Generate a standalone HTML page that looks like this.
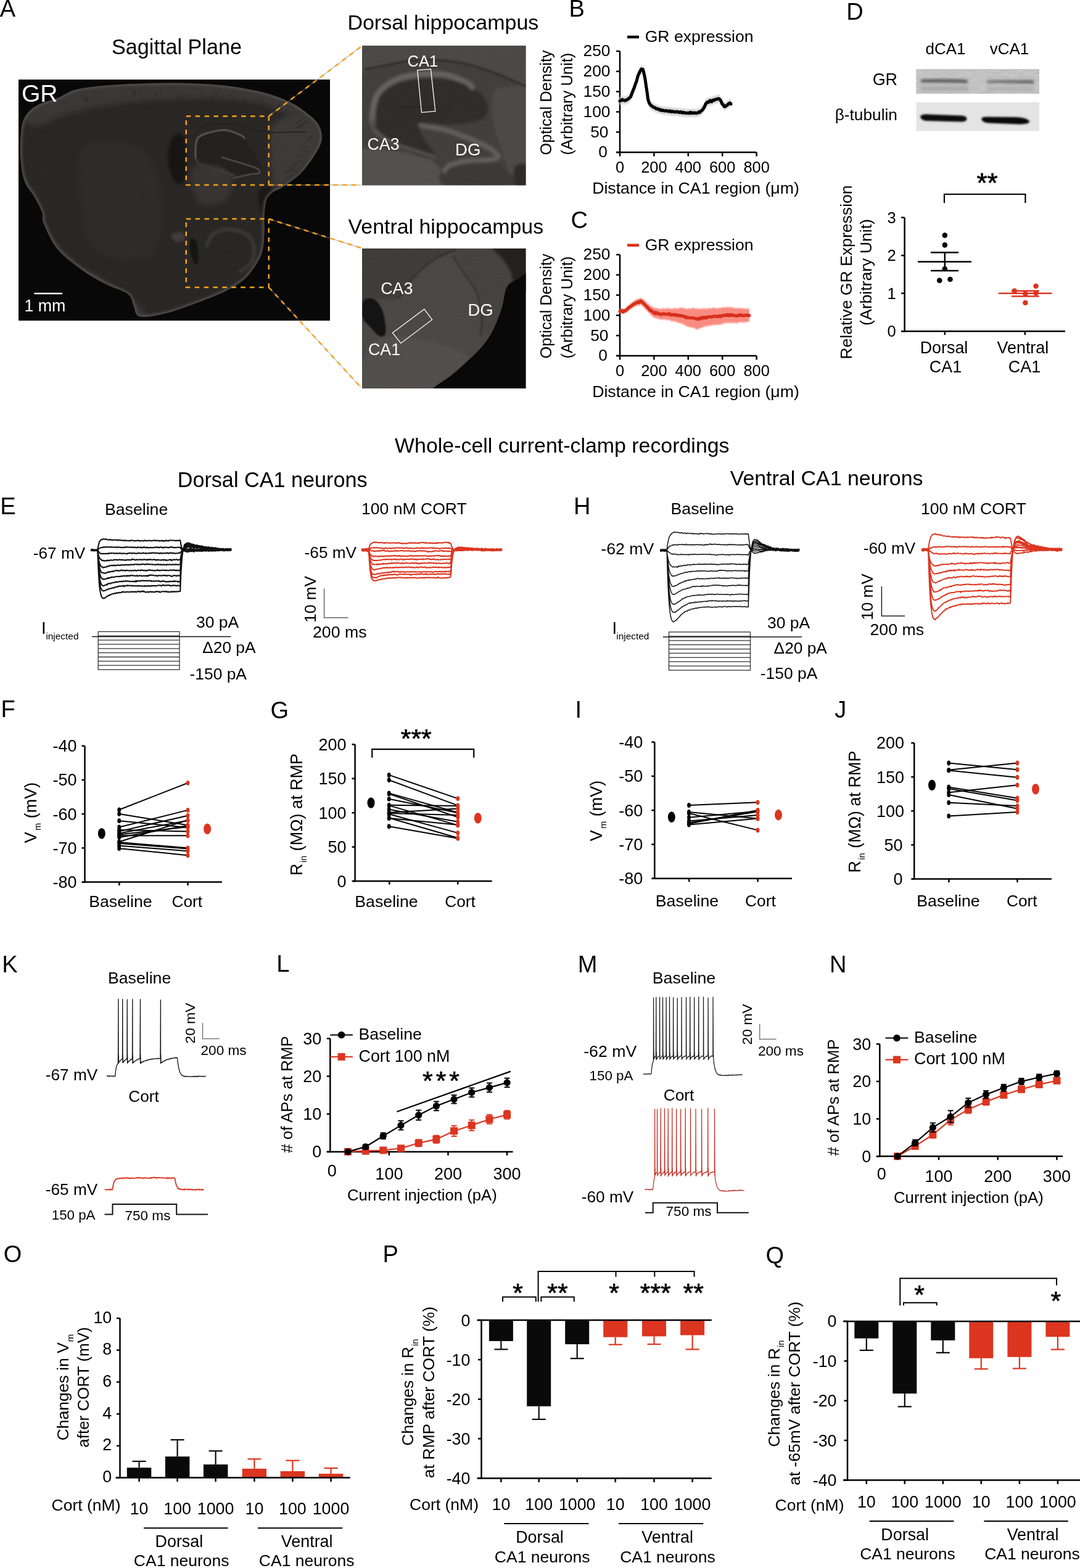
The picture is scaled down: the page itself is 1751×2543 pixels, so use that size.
<!DOCTYPE html>
<html><head><meta charset="utf-8"><title>Figure</title>
<style>html,body{margin:0;padding:0;background:#fff;width:1751px;height:2543px;overflow:hidden;}svg{display:block;}text{font-family:"Liberation Sans",Arial,sans-serif;}</style>
</head><body>
<svg width="1751" height="2543" viewBox="0 0 1751 2543" font-size="26.5">
<rect width="1751" height="2543" fill="#fff"/>
<defs>
<clipPath id="clipSag"><rect x="30" y="129" width="505" height="391"/></clipPath>
<clipPath id="clipDor"><rect x="587" y="74" width="265.5" height="226.5"/></clipPath>
<clipPath id="clipVen"><rect x="587" y="403" width="265.5" height="227"/></clipPath>
<filter id="blur05" color-interpolation-filters="sRGB" x="-5%" y="-5%" width="110%" height="110%"><feGaussianBlur stdDeviation="0.5"/></filter>
<filter id="blur1" color-interpolation-filters="sRGB" x="-10%" y="-10%" width="120%" height="120%"><feGaussianBlur stdDeviation="1"/></filter>
<filter id="blur15" color-interpolation-filters="sRGB" x="-10%" y="-30%" width="120%" height="160%"><feGaussianBlur stdDeviation="1.5"/></filter>
<filter id="blur2" color-interpolation-filters="sRGB" x="-20%" y="-20%" width="140%" height="140%"><feGaussianBlur stdDeviation="2"/></filter>
<filter id="blur25" color-interpolation-filters="sRGB" x="-20%" y="-20%" width="140%" height="140%"><feGaussianBlur stdDeviation="2.5"/></filter>
<filter id="blur4" color-interpolation-filters="sRGB" x="-20%" y="-20%" width="140%" height="140%"><feGaussianBlur stdDeviation="4"/></filter>
<filter id="grain" color-interpolation-filters="sRGB" x="0" y="0" width="100%" height="100%"><feTurbulence type="fractalNoise" baseFrequency="0.9" numOctaves="1" seed="3"/><feColorMatrix type="matrix" values="0 0 0 0 1  0 0 0 0 1  0 0 0 0 1  0 0 0 0.35 -0.1"/></filter>
<filter id="grain2" color-interpolation-filters="sRGB" x="0" y="0" width="100%" height="100%"><feTurbulence type="fractalNoise" baseFrequency="0.08 0.3" numOctaves="2" seed="5"/><feColorMatrix type="matrix" values="0 0 0 0 0.5  0 0 0 0 0.5  0 0 0 0 0.5  0 0 0 0.5 -0.1"/></filter>
</defs>
<text x="-0.2" y="27" font-size="38">A</text>
<text x="181" y="87.7" font-size="34.2">Sagittal Plane</text>
<text x="563.4" y="48.2" font-size="34">Dorsal hippocampus</text>
<text x="564.6" y="378.5" font-size="33.9">Ventral hippocampus</text>
<rect x="30" y="129" width="505" height="391" fill="#080808"/>
<g clip-path="url(#clipSag)">
<clipPath id="clipBrain"><path d="M102.8 154.3 C108.1 151.9 113.4 147.4 125 144.8 C136.6 142.2 154 140.1 172.4 138.5 C190.8 136.9 214.6 135.9 235.7 135.3 C256.8 134.7 277.9 134.2 299 134.7 C320.1 135.2 341.2 136 362.3 138.5 C383.4 141 407.2 144.8 425.6 149.6 C444.1 154.3 459.8 160.4 473 167 C486.2 173.6 497.2 182.8 504.7 189.1 C512.2 195.4 515.1 199.2 518 205 C520.9 210.8 522.2 218.2 522 224 C521.8 229.8 520 233.8 517 240 C514 246.2 508.8 254.2 504 261 C499.2 267.8 493.3 275.5 488 281 C482.7 286.5 477.3 290 472 294 C466.7 298 461.2 301.8 456 305 C450.8 308.2 445 309.6 441 313 C437 316.4 434.1 318.9 432 325.2 C429.9 331.4 429.2 342.1 428.7 350.5 C428.1 358.9 429.2 366.3 428.7 375.8 C428.2 385.3 428.2 398 425.6 407.5 C423 417 418.3 424.9 413 432.8 C407.7 440.7 402.4 448.1 394 455 C385.6 461.9 375.5 467.7 362.3 474 C349.1 480.3 330.6 487.2 314.8 493 C299 498.8 282.1 505.3 267.3 508.7 C252.5 512.1 234.6 515.6 226.2 513.5 C217.8 511.4 219.9 502.1 216.7 496 C213.5 489.9 214.6 482.8 207.2 477 C199.8 471.2 184.5 467.6 172.4 461.3 C160.3 455 147.6 448.5 134.4 439 C121.2 429.5 103.8 416.9 93.3 404.3 C82.8 391.7 75.3 373.2 71.1 363.2 C66.9 353.2 70.6 351.6 68 344.2 C65.4 336.8 60 327.3 55.3 318.9 C50.5 310.5 43.2 304.2 39.5 293.6 C35.8 283.1 34 269.9 33.2 255.6 C32.4 241.3 33.1 219.7 34.7 208.1 C36.3 196.5 38.2 192.3 42.7 186 C47.2 179.7 53.2 174.6 61.6 170.1 C70 165.6 86.4 161.6 93.3 159 C100.2 156.4 97.5 156.7 102.8 154.3Z"/></clipPath>
<path d="M102.8 154.3 C108.1 151.9 113.4 147.4 125 144.8 C136.6 142.2 154 140.1 172.4 138.5 C190.8 136.9 214.6 135.9 235.7 135.3 C256.8 134.7 277.9 134.2 299 134.7 C320.1 135.2 341.2 136 362.3 138.5 C383.4 141 407.2 144.8 425.6 149.6 C444.1 154.3 459.8 160.4 473 167 C486.2 173.6 497.2 182.8 504.7 189.1 C512.2 195.4 515.1 199.2 518 205 C520.9 210.8 522.2 218.2 522 224 C521.8 229.8 520 233.8 517 240 C514 246.2 508.8 254.2 504 261 C499.2 267.8 493.3 275.5 488 281 C482.7 286.5 477.3 290 472 294 C466.7 298 461.2 301.8 456 305 C450.8 308.2 445 309.6 441 313 C437 316.4 434.1 318.9 432 325.2 C429.9 331.4 429.2 342.1 428.7 350.5 C428.1 358.9 429.2 366.3 428.7 375.8 C428.2 385.3 428.2 398 425.6 407.5 C423 417 418.3 424.9 413 432.8 C407.7 440.7 402.4 448.1 394 455 C385.6 461.9 375.5 467.7 362.3 474 C349.1 480.3 330.6 487.2 314.8 493 C299 498.8 282.1 505.3 267.3 508.7 C252.5 512.1 234.6 515.6 226.2 513.5 C217.8 511.4 219.9 502.1 216.7 496 C213.5 489.9 214.6 482.8 207.2 477 C199.8 471.2 184.5 467.6 172.4 461.3 C160.3 455 147.6 448.5 134.4 439 C121.2 429.5 103.8 416.9 93.3 404.3 C82.8 391.7 75.3 373.2 71.1 363.2 C66.9 353.2 70.6 351.6 68 344.2 C65.4 336.8 60 327.3 55.3 318.9 C50.5 310.5 43.2 304.2 39.5 293.6 C35.8 283.1 34 269.9 33.2 255.6 C32.4 241.3 33.1 219.7 34.7 208.1 C36.3 196.5 38.2 192.3 42.7 186 C47.2 179.7 53.2 174.6 61.6 170.1 C70 165.6 86.4 161.6 93.3 159 C100.2 156.4 97.5 156.7 102.8 154.3Z" fill="#252321"/>
<g clip-path="url(#clipBrain)"><g filter="url(#blur4)">
<path d="M40 185 C46.7 175.8 73.3 158.3 100 150 C126.7 141.7 166.7 138 200 135 C233.3 132 266.7 131.2 300 132 C333.3 132.8 371.7 135.3 400 140 C428.3 144.7 450.8 150.8 470 160 C489.2 169.2 505.3 184.2 515 195 C524.7 205.8 528.8 215 528 225 C527.2 235 518 245.5 510 255 C502 264.5 490 273.7 480 282 C470 290.3 457 302 450 305 C443 308 435.5 305.8 438 300 C440.5 294.2 456.3 280 465 270 C473.7 260 485.5 249.2 490 240 C494.5 230.8 495.3 223.3 492 215 C488.7 206.7 482 197.8 470 190 C458 182.2 441.7 173 420 168 C398.3 163 366.7 161 340 160 C313.3 159 286.7 160.3 260 162 C233.3 163.7 205 166.2 180 170 C155 173.8 130 179.2 110 185 C90 190.8 71.7 205 60 205 C48.3 205 33.3 194.2 40 185Z" fill="#363331"/>
<path d="M40 290 C44.7 295 53.3 315 60 330 C66.7 345 70 364.2 80 380 C90 395.8 105 412.5 120 425 C135 437.5 151.7 442.5 170 455 C188.3 467.5 219.7 489.2 230 500 C240.3 510.8 240.3 523.3 232 520 C223.7 516.7 198.7 491.7 180 480 C161.3 468.3 137.5 461.7 120 450 C102.5 438.3 86.7 425 75 410 C63.3 395 57.2 378.3 50 360 C42.8 341.7 33.7 311.7 32 300 C30.3 288.3 35.3 285 40 290Z" fill="#353230"/>
<path d="M130 250 C137.5 228.3 161.7 230 180 230 C198.3 230 226.3 235 240 250 C253.7 265 259.5 295 262 320 C264.5 345 262 383.3 255 400 C248 416.7 235.8 418.3 220 420 C204.2 421.7 174.2 420 160 410 C145.8 400 140 386.7 135 360 C130 333.3 122.5 271.7 130 250Z" fill="#2a2826"/>
<path d="M312 272 C317 266.7 330.3 267.5 340 268 C349.7 268.5 363.7 269.7 370 275 C376.3 280.3 379.7 291.2 378 300 C376.3 308.8 368.8 323 360 328 C351.2 333 333.3 334.7 325 330 C316.7 325.3 312.2 309.7 310 300 C307.8 290.3 307 277.3 312 272Z" fill="#34312f"/>
<path d="M440 205 C445.3 193.3 459.2 190.8 470 190 C480.8 189.2 496.7 194.2 505 200 C513.3 205.8 520 215 520 225 C520 235 513.3 249.2 505 260 C496.7 270.8 480 283.3 470 290 C460 296.7 450.3 305 445 300 C439.7 295 438.8 275.8 438 260 C437.2 244.2 434.7 216.7 440 205Z" fill="#393634"/>
</g>
<path d="M276 232 C278 225.3 280.3 219.7 284 218 C287.7 216.3 295 215.8 298 222 C301 228.2 301.7 243.7 302 255 C302.3 266.3 302.3 282.8 300 290 C297.7 297.2 291.5 298.8 288 298 C284.5 297.2 281.7 291.7 279 285 C276.3 278.3 272.5 266.8 272 258 C271.5 249.2 274 238.7 276 232Z" fill="#121110" filter="url(#blur2)"/>
<path d="M318 250 C316.3 244 315.7 232 320 226 C324.3 220 336 216.3 344 214 C352 211.7 360 210.8 368 212 C376 213.2 385.8 216.3 392 221 C398.2 225.7 400.3 233.2 405 240 C409.7 246.8 417.3 255.2 420 262 C422.7 268.8 424.3 277.7 421 281 C417.7 284.3 407.2 282.2 400 282 C392.8 281.8 385.5 282.3 378 280 C370.5 277.7 363 271 355 268 C347 265 336.2 265 330 262 C323.8 259 319.7 256 318 250Z" fill="#1f1d1c" filter="url(#blur1)"/>
<path d="M317 256 C317.5 250.8 315.5 232.1 320 225 C324.5 217.9 336 216 344 213.7 C352 211.4 360 210.2 368 211.3 C376 212.4 387.1 217.9 391.8 220 C396.5 222.1 395.3 223.3 396 224" fill="none" stroke="#4b4845" stroke-width="3.5" stroke-linecap="round" filter="url(#blur05)"/>
<path d="M317 256 C317.8 257.7 318.2 263.3 322 266 C325.8 268.7 333.7 270 340 272 C346.3 274 353.3 275.8 360 278 C366.7 280.2 376.7 283.8 380 285" fill="none" stroke="#3b3836" stroke-width="3" stroke-linecap="round" filter="url(#blur1)"/>
<path d="M359.9 255.2 C365.2 256.8 382.5 261.9 391.8 264.8 C401.1 267.7 411 270.1 415.8 272.8 C420.6 275.5 421.9 279.2 420.6 280.8 C419.3 282.4 414.7 281.1 407.8 282.4 C400.9 283.7 383.8 287.6 379 288.7" fill="none" stroke="#45423f" stroke-width="3" stroke-linecap="round" filter="url(#blur05)"/>
<path d="M324.7 205.7 C328.9 204.9 339.1 201.4 350 201 C360.9 200.6 378.3 201.2 390 203 C401.7 204.8 411.7 210 420 212 C428.3 214 431.7 214.7 440 215 C448.3 215.3 460.7 214.2 470 214 C479.3 213.8 491.4 213.8 495.7 213.7" fill="none" stroke="#1c1b1a" stroke-width="1.6" stroke-linecap="round" filter="url(#blur05)"/>
<path d="M335 400 C336.7 396.7 339.2 384.7 345 380 C350.8 375.3 360.8 372 370 372 C379.2 372 393 375.3 400 380 C407 384.7 410.7 392.5 412 400 C413.3 407.5 411.7 418.3 408 425 C404.3 431.7 393 437.5 390 440" fill="none" stroke="#3b3836" stroke-width="5" stroke-linecap="round" filter="url(#blur2)"/>
<path d="M310 388 C311.7 385.8 316 386.7 318 392 C320 397.3 322.3 414 322 420 C321.7 426 318.3 430.5 316 428 C313.7 425.5 309 411.7 308 405 C307 398.3 308.3 390.2 310 388Z" fill="#101010" filter="url(#blur1)"/>
<path d="M278 380 C279.7 377.5 291.3 375.7 295 377 C298.7 378.3 301.7 385.5 300 388 C298.3 390.5 288.7 393.3 285 392 C281.3 390.7 276.3 382.5 278 380Z" fill="#3d3a38" filter="url(#blur2)"/>
<path d="M420 310 C422.5 302.5 435.8 300 440 305 C444.2 310 445.3 330.8 445 340 C444.7 349.2 441.3 358.3 438 360 C434.7 361.7 428 358.3 425 350 C422 341.7 417.5 317.5 420 310Z" fill="#151413" filter="url(#blur2)"/>
<path d="M137.2 155.7l8.2 8.8 M134.9 158.6l5.4 5.6 M136.9 158.6l5.2 5.5 M215.2 148.5l4.4 9.4 M216.2 145.0l3.8 8.5 M225.5 148.2l5.3 13.0 M288.3 152.0l0.8 12.6 M250.9 147.4l3.3 12.2 M259.4 144.9l2.8 12.8 M348.4 146.4l-4.2 15.9 M327.9 144.7l-1.4 9.2 M354.2 146.9l-3.2 10.7 M398.4 160.8l-4.2 7.3 M373.8 150.0l-2.4 5.9 M378.8 157.8l-4.8 10.6 M454.2 168.8l-7.0 7.3 M427.6 162.9l-10.9 14.3 M453.8 168.9l-4.6 4.8 M490.4 193.3l-10.6 7.6 M475.9 181.7l-5.4 4.6 M465.1 177.7l-11.8 10.9 M497.4 198.5l-12.4 8.2 M490.8 201.1l-10.9 7.4 M496.3 196.4l-12.9 8.8 M506.4 220.1l-5.5 2.9 M498.6 238.0l-10.8 5.0 M506.2 223.0l-8.7 4.5 M489.3 259.8l-16.2 6.0 M492.6 251.8l-9.1 3.7 M501.0 243.5l-6.3 2.7 M481.0 266.4l-15.2 5.4 M476.3 272.0l-13.2 4.4 M477.4 275.0l-16.4 5.1" stroke="#161514" stroke-width="1.1" opacity="0.45" fill="none" filter="url(#blur05)"/>
<path d="M335.5 198.8h1.5 M255.0 417.3h1.5 M453.7 408.1h1.5 M75.6 272.2h1.5 M131.7 489.6h1.5 M123.4 233.1h1.5 M217.2 170.7h1.5 M443.0 366.4h1.5 M130.3 319.4h1.5 M94.6 357.7h1.5 M161.9 163.1h1.5 M110.7 338.8h1.5 M340.3 260.4h1.5 M343.1 269.7h1.5 M117.5 257.2h1.5 M233.9 460.3h1.5 M110.9 179.3h1.5 M307.1 477.6h1.5 M459.2 388.1h1.5 M89.4 424.2h1.5 M360.7 198.9h1.5 M264.6 166.8h1.5 M412.8 394.3h1.5 M414.0 408.5h1.5 M177.6 418.5h1.5 M169.6 196.9h1.5 M231.8 319.3h1.5 M185.8 356.0h1.5 M325.1 231.5h1.5 M333.9 271.5h1.5 M383.3 248.7h1.5 M411.5 291.1h1.5 M303.4 378.9h1.5 M288.1 237.6h1.5 M490.9 182.7h1.5 M203.0 336.7h1.5 M72.6 202.7h1.5 M411.7 416.5h1.5 M340.3 456.6h1.5 M392.4 251.6h1.5" stroke="#141312" stroke-width="1.5" opacity="0.6" clip-path="url(#clipBrain)"/>
<path d="M102.8 154.3 C108.1 151.9 113.4 147.4 125 144.8 C136.6 142.2 154 140.1 172.4 138.5 C190.8 136.9 214.6 135.9 235.7 135.3 C256.8 134.7 277.9 134.2 299 134.7 C320.1 135.2 341.2 136 362.3 138.5 C383.4 141 407.2 144.8 425.6 149.6 C444.1 154.3 459.8 160.4 473 167 C486.2 173.6 497.2 182.8 504.7 189.1 C512.2 195.4 515.1 199.2 518 205 C520.9 210.8 522.2 218.2 522 224 C521.8 229.8 520 233.8 517 240 C514 246.2 508.8 254.2 504 261 C499.2 267.8 493.3 275.5 488 281 C482.7 286.5 477.3 290 472 294 C466.7 298 461.2 301.8 456 305 C450.8 308.2 445 309.6 441 313 C437 316.4 434.1 318.9 432 325.2 C429.9 331.4 429.2 342.1 428.7 350.5 C428.1 358.9 429.2 366.3 428.7 375.8 C428.2 385.3 428.2 398 425.6 407.5 C423 417 418.3 424.9 413 432.8 C407.7 440.7 402.4 448.1 394 455 C385.6 461.9 375.5 467.7 362.3 474 C349.1 480.3 330.6 487.2 314.8 493 C299 498.8 282.1 505.3 267.3 508.7 C252.5 512.1 234.6 515.6 226.2 513.5 C217.8 511.4 219.9 502.1 216.7 496 C213.5 489.9 214.6 482.8 207.2 477 C199.8 471.2 184.5 467.6 172.4 461.3 C160.3 455 147.6 448.5 134.4 439 C121.2 429.5 103.8 416.9 93.3 404.3 C82.8 391.7 75.3 373.2 71.1 363.2 C66.9 353.2 70.6 351.6 68 344.2 C65.4 336.8 60 327.3 55.3 318.9 C50.5 310.5 43.2 304.2 39.5 293.6 C35.8 283.1 34 269.9 33.2 255.6 C32.4 241.3 33.1 219.7 34.7 208.1 C36.3 196.5 38.2 192.3 42.7 186 C47.2 179.7 53.2 174.6 61.6 170.1 C70 165.6 86.4 161.6 93.3 159 C100.2 156.4 97.5 156.7 102.8 154.3Z" fill="none" stroke="#4e4b49" stroke-width="6" filter="url(#blur2)" clip-path="url(#clipBrain)"/>
<rect x="30" y="129" width="505" height="391" filter="url(#grain)" opacity="0.3" clip-path="url(#clipBrain)"/>
</g>
</g>
<text x="34.9" y="165" font-size="39" fill="#fff">GR</text>
<line x1="55.4" y1="476.1" x2="101" y2="476.1" stroke="#fff" stroke-width="2.5"/>
<text x="39.4" y="505.3" font-size="26.8" fill="#fff">1 mm</text>
<g clip-path="url(#clipDor)">
<rect x="587" y="74" width="265.5" height="226.5" fill="#3b3836"/>
<g filter="url(#blur2)">
<path d="M580 245 C588.8 234.8 616.5 242.8 632.6 244 C648.7 245.2 664.8 249 676.5 252 C688.2 255 696.1 257.2 702.8 262 C709.5 266.8 714.1 273.3 716.8 280.5 C719.5 287.7 741.8 300.9 719 305 C696.2 309.1 603.2 315 580 305 C556.8 295 571.2 255.2 580 245Z" fill="#4d4a48"/>
<path d="M609.8 192.8 C609.5 185 609.5 173 612 165 C614.5 157 618.7 150.2 625 145 C631.3 139.8 639.2 136.8 650 134 C660.8 131.2 675.4 128.5 690 128 C704.6 127.5 724.1 128 737.9 131 C751.7 134 764.2 139.2 773 146 C781.8 152.8 789 164.2 790.5 172 C792 179.8 790.6 188 781.8 192.8 C773 197.6 752.5 199.6 737.9 201 C723.3 202.4 703.6 200.2 694 201 C684.4 201.8 680.7 201.2 680 206 C679.3 210.8 685.8 222.7 690 230 C694.2 237.3 705 245.8 705 250 C705 254.2 697.5 256.3 690 255 C682.5 253.7 669.7 246.5 660 242 C650.3 237.5 639.7 233 632 228 C624.3 223 617.7 217.9 614 212 C610.3 206.1 610.1 200.6 609.8 192.8Z" fill="#282624"/>
<path d="M800 150 C805 140 820 140 830 140 C840 140 855 123.3 860 150 C865 176.7 865 276.7 860 300 C855 323.3 837.5 298.3 830 290 C822.5 281.7 820 265 815 250 C810 235 802.5 216.7 800 200 C797.5 183.3 795 160 800 150Z" fill="#464341"/>
<path d="M580 70 C626.7 61.7 813.3 59.2 860 70 C906.7 80.8 868.7 127 860 135 C851.3 143 825.5 123.5 808 118 C790.5 112.5 772.5 105.7 755 102 C737.5 98.3 720.5 96.3 703 96 C685.5 95.7 667.2 97.3 650 100 C632.8 102.7 611.7 108.7 600 112 C588.3 115.3 583.3 127 580 120 C576.7 113 533.3 78.3 580 70Z" fill="#454240"/>
<path d="M722 268 C728.3 261.5 747 263 760 262 C773 261 790 259.8 800 262 C810 264.2 814.2 268.5 820 275 C825.8 281.5 851.3 296.7 835 301 C818.7 305.3 740.8 306.5 722 301 C703.2 295.5 715.7 274.5 722 268Z" fill="#353230"/>
<path d="M835 270 C838.7 264.2 855.8 264.2 860 270 C864.2 275.8 863.7 299.2 860 305 C856.3 310.8 842.2 310.8 838 305 C833.8 299.2 831.3 275.8 835 270Z" fill="#262422"/>
</g>
<path d="M592 112 C597.3 111.1 612.6 109 623.9 106.8 C635.2 104.6 646.9 100.6 660 99 C673.1 97.4 686.9 96.2 702.8 97 C718.7 97.8 737.9 100 755.4 104 C772.9 108 791.9 115 808 121 C824.1 127 844.7 136.8 852 140" fill="none" stroke="#2b2927" stroke-width="3" stroke-linecap="round" filter="url(#blur1)"/>
<path d="M603 196 C603.5 191.7 604 177.8 606 170 C608 162.2 609.1 155.7 615 149 C620.9 142.3 631.1 134.3 641.4 129.6 C651.6 124.9 663.3 122.4 676.5 121 C689.7 119.6 707.2 119 720.4 121 C733.5 123 747.8 129.5 755.4 133 C763 136.5 764.2 140.5 766 142" fill="none" stroke="#625f5c" stroke-width="9" stroke-linecap="round" filter="url(#blur25)"/>
<path d="M603 196 C603.5 198.4 602.8 205.7 606.3 210.4 C609.8 215.1 616.6 220 623.9 224.4 C631.2 228.8 641.4 233.2 650.2 236.7 C659 240.2 667.7 242.5 676.5 245.4 C685.3 248.3 698.4 252.7 702.8 254.2" fill="none" stroke="#4e4b48" stroke-width="6" stroke-linecap="round" filter="url(#blur2)"/>
<path d="M681.8 203.3 C688.2 204.5 708.1 207.2 720.4 210.4 C732.7 213.6 743.7 217.9 755.4 222.6 C767.1 227.3 782.3 234 790.5 238.4 C798.7 242.8 802 246.1 804.6 249 C807.2 251.9 808.6 254.2 806.3 256 C803.9 257.8 799 258.6 790.5 259.5 C782 260.4 765.6 259.8 755.4 261.2 C745.1 262.6 734.8 265.6 729 268.2 C723.2 270.8 721.8 275.5 720.4 277" fill="none" stroke="#5e5b58" stroke-width="8" stroke-linecap="round" filter="url(#blur25)"/>
<path d="M641 173.7 C647.5 173.8 666.8 173.8 680 174 C693.2 174.2 713.8 174.7 720.5 174.8" fill="none" stroke="#1e1d1c" stroke-width="1.5" stroke-linecap="round" filter="url(#blur05)"/>
<rect x="587" y="74" width="266" height="227" filter="url(#grain)" opacity="0.5"/>
</g>
<polygon points="676.7,113.9 698.4,112.1 705.8,180.5 683.5,182.3" fill="none" stroke="#fff" stroke-width="1.3"/>
<text x="660.5" y="108.3" font-size="25.5" fill="#fff">CA1</text>
<text x="595.5" y="243.2" font-size="26.8" fill="#fff">CA3</text>
<text x="738.1" y="252.2" font-size="27.5" fill="#fff">DG</text>
<g clip-path="url(#clipVen)">
<rect x="587" y="403" width="265.5" height="227" fill="#444140"/>
<g filter="url(#blur2)">
<path d="M580 398 C606.3 384.3 717.4 394.1 737.9 398 C758.4 401.9 714.1 412.6 702.8 421.3 C691.5 430 679.4 439.8 670 450 C660.6 460.2 655 476.9 646.7 482.7 C638.4 488.5 631.1 485.4 620 485 C608.9 484.6 586.7 494.5 580 480 C573.3 465.5 553.7 411.7 580 398Z" fill="#393634"/>
<path d="M734.4 410 C741.8 402.9 782.4 403.3 800 405 C817.6 406.7 835 409.2 840 420 C845 430.8 835 453.3 830 470 C825 486.7 818 507.7 810 520 C802 532.3 787.1 544 781.8 544 C776.5 544 778.2 527.3 778.2 520 C778.2 512.7 782.7 507.7 781.8 500 C780.9 492.3 777.4 482.7 773 474 C768.6 465.3 761.8 458.3 755.4 447.6 C749 436.9 727 417.1 734.4 410Z" fill="#3f3c3a"/>
<path d="M600 560 C610 545 630 545 650 545 C670 545 701.7 554.2 720 560 C738.3 565.8 758.3 571.7 760 580 C761.7 588.3 740 600.8 730 610 C720 619.2 723.3 630.8 700 635 C676.7 639.2 606.7 647.5 590 635 C573.3 622.5 590 575 600 560Z" fill="#4b4846"/>
</g>
<path d="M646.7 482.7 C650.6 477.2 660.6 460.2 670 450 C679.4 439.8 691.5 428.7 702.8 421.3 C714.1 413.9 732 408.1 737.9 405.5" fill="none" stroke="#2a2826" stroke-width="2.5" stroke-linecap="round" filter="url(#blur1)"/>
<path d="M734.4 416 C737.9 421.3 749 437.9 755.4 447.6 C761.8 457.3 768.6 462.3 773 474 C777.4 485.7 780.9 506.1 781.8 517.8 C782.7 529.5 778.8 539.6 778.2 544" fill="none" stroke="#2c2a28" stroke-width="2" stroke-linecap="round" filter="url(#blur1)"/>
<rect x="587" y="403" width="266" height="227" filter="url(#grain)" opacity="0.5"/>
<path d="M800 398 C807.5 394.3 850 386 860 398 C870 410 864.2 459.3 860 470 C855.8 480.7 840.3 467 835 462 C829.7 457 831.3 447 828 440 C824.7 433 819.7 427 815 420 C810.3 413 792.5 401.7 800 398Z" fill="#222120" filter="url(#blur2)"/>
<path d="M858 440 C854.3 442 846 447.8 840 452 C834 456.2 826.5 457.1 822 465.2 C817.5 473.2 817.1 488.6 813.3 500.3 C809.5 512 804.5 525.2 799.3 535.4 C794 545.6 789.1 552.9 781.8 561.7 C774.5 570.5 764.2 579.8 755.4 588 C746.6 596.2 737.9 603.9 729.1 610.8 C720.3 617.7 707.6 624.3 702.8 629.2 C697.9 634.1 673.8 638.2 700 640 C726.2 641.8 833 673.3 860 640 C887 606.7 862.3 473.3 862 440 C861.7 406.7 861.7 438 858 440Z" fill="#090909" filter="url(#blur05)"/>
<path d="M588 490 C590 484.8 596 484 600 484 C604 484 608.3 485.7 612 490 C615.7 494.3 619.8 501.7 622 510 C624.2 518.3 626.2 534.2 625 540 C623.8 545.8 619.2 546.7 615 545 C610.8 543.3 604.5 535 600 530 C595.5 525 590 521.7 588 515 C586 508.3 586 495.2 588 490Z" fill="#151414" filter="url(#blur1)"/>
</g>
<polygon points="636.5,539.8 687.8,501.4 700.6,518.4 649.9,556.7" fill="none" stroke="#fff" stroke-width="1.3"/>
<text x="617.2" y="476.6" font-size="26.8" fill="#fff">CA3</text>
<text x="758.4" y="512.3" font-size="27.5" fill="#fff">DG</text>
<text x="597" y="576.3" font-size="26.8" fill="#fff">CA1</text>
<rect x="301.8" y="188.4" width="134" height="111.6" fill="none" stroke="#f5a31a" stroke-width="2.5" stroke-dasharray="7.5 7.4"/>
<rect x="301.8" y="355" width="134" height="111" fill="none" stroke="#f5a31a" stroke-width="2.5" stroke-dasharray="7.5 7.4"/>
<line x1="435.8" y1="188.4" x2="585" y2="76" stroke="#888" stroke-width="0.8"/>
<line x1="435.8" y1="188.4" x2="585" y2="76" stroke="#f5a31a" stroke-width="2.5" stroke-dasharray="7.5 7.4"/>
<line x1="435.8" y1="300" x2="585" y2="300" stroke="#888" stroke-width="0.8"/>
<line x1="435.8" y1="300" x2="585" y2="300" stroke="#f5a31a" stroke-width="2.5" stroke-dasharray="7.5 7.4"/>
<line x1="435.8" y1="355" x2="585" y2="402" stroke="#888" stroke-width="0.8"/>
<line x1="435.8" y1="355" x2="585" y2="402" stroke="#f5a31a" stroke-width="2.5" stroke-dasharray="7.5 7.4"/>
<line x1="435.8" y1="466" x2="585" y2="628" stroke="#888" stroke-width="0.8"/>
<line x1="435.8" y1="466" x2="585" y2="628" stroke="#f5a31a" stroke-width="2.5" stroke-dasharray="7.5 7.4"/>
<text x="922.4" y="26.5" font-size="38">B</text>
<line x1="1005" y1="83" x2="1005" y2="248.2" stroke="#000" stroke-width="2.5"/>
<line x1="999" y1="247" x2="1226.6" y2="247" stroke="#000" stroke-width="2.5"/>
<line x1="999" y1="247" x2="1005" y2="247" stroke="#000" stroke-width="2.5"/>
<text x="985" y="255.3" font-size="26.3" text-anchor="end">0</text>
<line x1="999" y1="214.2" x2="1005" y2="214.2" stroke="#000" stroke-width="2.5"/>
<text x="986.5" y="222.5" font-size="26.3" text-anchor="end">50</text>
<line x1="999" y1="181.4" x2="1005" y2="181.4" stroke="#000" stroke-width="2.5"/>
<text x="989.5" y="189.7" font-size="26.3" text-anchor="end">100</text>
<line x1="999" y1="148.6" x2="1005" y2="148.6" stroke="#000" stroke-width="2.5"/>
<text x="989.5" y="156.9" font-size="26.3" text-anchor="end">150</text>
<line x1="999" y1="115.8" x2="1005" y2="115.8" stroke="#000" stroke-width="2.5"/>
<text x="989.5" y="124.1" font-size="26.3" text-anchor="end">200</text>
<line x1="999" y1="83" x2="1005" y2="83" stroke="#000" stroke-width="2.5"/>
<text x="989.5" y="91.3" font-size="26.3" text-anchor="end">250</text>
<line x1="1005" y1="247" x2="1005" y2="253.5" stroke="#000" stroke-width="2.5"/>
<text x="1005" y="279.5" font-size="25.4" text-anchor="middle">0</text>
<line x1="1060.4" y1="247" x2="1060.4" y2="253.5" stroke="#000" stroke-width="2.5"/>
<text x="1060.4" y="279.5" font-size="25.4" text-anchor="middle">200</text>
<line x1="1115.8" y1="247" x2="1115.8" y2="253.5" stroke="#000" stroke-width="2.5"/>
<text x="1115.8" y="279.5" font-size="25.4" text-anchor="middle">400</text>
<line x1="1171.2" y1="247" x2="1171.2" y2="253.5" stroke="#000" stroke-width="2.5"/>
<text x="1171.2" y="279.5" font-size="25.4" text-anchor="middle">600</text>
<line x1="1226.6" y1="247" x2="1226.6" y2="253.5" stroke="#000" stroke-width="2.5"/>
<text x="1226.6" y="279.5" font-size="25.4" text-anchor="middle">800</text>
<text x="1128" y="313.6" font-size="26.7" text-anchor="middle">Distance in CA1 region (μm)</text>
<text x="894" y="166.4" font-size="25.3" text-anchor="middle" transform="rotate(-90 894 166.4)">Optical Density</text>
<text x="928.3" y="168.6" font-size="25.5" text-anchor="middle" transform="rotate(-90 928.3 168.6)">(Arbitrary Unit)</text>
<path d="M1005 157.4 L1006.2 157 L1007.4 156.2 L1008.6 154.8 L1009.8 155.9 L1011 156 L1012.2 155.9 L1013.4 156.8 L1014.6 156.1 L1015.8 155.5 L1017 154.8 L1018.2 154.4 L1019.4 153 L1020.6 152.5 L1021.8 151.3 L1023 149 L1024.2 145.8 L1025.4 142.8 L1026.6 139.8 L1027.8 136.8 L1029 133.4 L1030.2 129.7 L1031.4 126.9 L1032.6 123.2 L1033.8 117.9 L1035 114.9 L1036.2 112.4 L1037.4 109.4 L1038.6 107.6 L1039.8 105.5 L1041 106.5 L1042.2 105.9 L1043.4 109.8 L1044.6 115 L1045.8 120.7 L1047 129.2 L1048.2 137.2 L1049.4 145.1 L1050.6 154.6 L1051.8 158.4 L1053 161.1 L1054.2 163.3 L1055.4 164.6 L1056.6 165.1 L1057.8 166.4 L1059 167.1 L1060.2 167.6 L1061.4 167.9 L1062.6 169 L1063.8 169.7 L1065 170 L1066.2 169.8 L1067.4 171 L1068.6 170.8 L1069.8 171.9 L1071 171.3 L1072.2 172.7 L1073.4 172.6 L1074.6 172.3 L1075.8 172.9 L1077 173.2 L1078.2 173.4 L1079.4 172.9 L1080.6 173 L1081.8 173.7 L1083 173.5 L1084.2 174 L1085.4 174.4 L1086.6 173.3 L1087.8 174.3 L1089 174.9 L1090.2 174.3 L1091.4 174.2 L1092.6 175 L1093.8 174.9 L1095 175.3 L1096.2 174.8 L1097.4 174.4 L1098.6 175.2 L1099.8 175.1 L1101 175.9 L1102.2 175.7 L1103.4 174.9 L1104.6 175.2 L1105.8 176.4 L1107 176.4 L1108.2 175.8 L1109.4 176.3 L1110.6 176.6 L1111.8 176.7 L1113 177 L1114.2 176.8 L1115.4 176.8 L1116.6 176.7 L1117.8 177.4 L1119 175.7 L1120.2 176.8 L1121.4 176.9 L1122.6 176.2 L1123.8 177 L1125 176.5 L1126.2 177.1 L1127.4 176.5 L1128.6 176.8 L1129.8 177 L1131 176.5 L1132.2 175.8 L1133.4 174.9 L1134.6 175.8 L1135.8 174.2 L1137 173.2 L1138.2 172.7 L1139.4 170.8 L1140.6 169.6 L1141.8 167.5 L1143 164.9 L1144.2 161.7 L1145.4 160.5 L1146.6 159.1 L1147.8 159.4 L1149 159.3 L1150.2 157.4 L1151.4 156.6 L1152.6 157.8 L1153.8 158.4 L1155 156.3 L1156.2 155.8 L1157.4 156.3 L1158.6 155.2 L1159.8 154.9 L1161 154.6 L1162.2 154.6 L1163.4 153.7 L1164.6 153.6 L1165.8 153.8 L1167 154.7 L1168.2 156.1 L1169.4 158.4 L1170.6 161.7 L1171.8 163 L1173 164 L1174.2 166.2 L1175.4 166.3 L1176.6 165.6 L1177.8 165.1 L1179 163.9 L1180.2 162.8 L1181.4 161.7 L1182.6 160.8 L1183.8 160.6 L1185 162.2 L1185 175.2 L1183.8 173.6 L1182.6 173.8 L1181.4 174.7 L1180.2 175.8 L1179 176.9 L1177.8 178.1 L1176.6 178.6 L1175.4 179.3 L1174.2 179.2 L1173 177 L1171.8 176 L1170.6 174.7 L1169.4 171.4 L1168.2 169.1 L1167 167.7 L1165.8 166.8 L1164.6 166.6 L1163.4 166.7 L1162.2 167.6 L1161 167.6 L1159.8 167.9 L1158.6 168.2 L1157.4 169.3 L1156.2 168.8 L1155 169.3 L1153.8 171.4 L1152.6 170.8 L1151.4 169.6 L1150.2 170.4 L1149 172.3 L1147.8 172.4 L1146.6 172.1 L1145.4 173.5 L1144.2 174.7 L1143 177.9 L1141.8 180.5 L1140.6 182.6 L1139.4 183.8 L1138.2 185.7 L1137 186.2 L1135.8 187.2 L1134.6 188.8 L1133.4 187.9 L1132.2 188.8 L1131 189.5 L1129.8 190 L1128.6 189.8 L1127.4 189.5 L1126.2 190.1 L1125 189.5 L1123.8 190 L1122.6 189.2 L1121.4 189.9 L1120.2 189.8 L1119 188.7 L1117.8 190.4 L1116.6 189.7 L1115.4 189.8 L1114.2 189.8 L1113 190 L1111.8 189.7 L1110.6 189.6 L1109.4 189.3 L1108.2 188.8 L1107 189.4 L1105.8 189.4 L1104.6 188.2 L1103.4 187.9 L1102.2 188.7 L1101 188.9 L1099.8 188.1 L1098.6 188.2 L1097.4 187.4 L1096.2 187.8 L1095 188.3 L1093.8 187.9 L1092.6 188 L1091.4 187.2 L1090.2 187.3 L1089 187.9 L1087.8 187.3 L1086.6 186.3 L1085.4 187.4 L1084.2 187 L1083 186.5 L1081.8 186.7 L1080.6 186 L1079.4 185.9 L1078.2 186.4 L1077 186.2 L1075.8 185.9 L1074.6 185.3 L1073.4 185.6 L1072.2 185.7 L1071 184.3 L1069.8 184.9 L1068.6 183.8 L1067.4 184 L1066.2 182.8 L1065 183 L1063.8 182.7 L1062.6 182 L1061.4 180.9 L1060.2 180.6 L1059 180.1 L1057.8 179.4 L1056.6 178.1 L1055.4 177.6 L1054.2 176.3 L1053 174.1 L1051.8 171.4 L1050.6 167.6 L1049.4 158.1 L1048.2 150.2 L1047 142.2 L1045.8 133.7 L1044.6 128 L1043.4 122.8 L1042.2 118.9 L1041 119.5 L1039.8 118.5 L1038.6 120.6 L1037.4 122.4 L1036.2 125.4 L1035 127.9 L1033.8 130.9 L1032.6 136.2 L1031.4 139.9 L1030.2 142.7 L1029 146.4 L1027.8 149.8 L1026.6 152.8 L1025.4 155.8 L1024.2 158.8 L1023 162 L1021.8 164.3 L1020.6 165.5 L1019.4 166 L1018.2 167.4 L1017 167.8 L1015.8 168.5 L1014.6 169.1 L1013.4 169.8 L1012.2 168.9 L1011 169 L1009.8 168.9 L1008.6 167.8 L1007.4 169.2 L1006.2 170 L1005 170.4 Z" fill="#d4d4d4" filter="url(#blur1)"/>
<path d="M1005 163.9 L1006.2 163.5 L1007.4 162.7 L1008.6 161.3 L1009.8 162.4 L1011 162.5 L1012.2 162.4 L1013.4 163.3 L1014.6 162.6 L1015.8 162 L1017 161.3 L1018.2 160.9 L1019.4 159.5 L1020.6 159 L1021.8 157.8 L1023 155.5 L1024.2 152.3 L1025.4 149.3 L1026.6 146.3 L1027.8 143.3 L1029 139.9 L1030.2 136.2 L1031.4 133.4 L1032.6 129.7 L1033.8 124.4 L1035 121.4 L1036.2 118.9 L1037.4 115.9 L1038.6 114.1 L1039.8 112 L1041 113 L1042.2 112.4 L1043.4 116.3 L1044.6 121.5 L1045.8 127.2 L1047 135.7 L1048.2 143.7 L1049.4 151.6 L1050.6 161.1 L1051.8 164.9 L1053 167.6 L1054.2 169.8 L1055.4 171.1 L1056.6 171.6 L1057.8 172.9 L1059 173.6 L1060.2 174.1 L1061.4 174.4 L1062.6 175.5 L1063.8 176.2 L1065 176.5 L1066.2 176.3 L1067.4 177.5 L1068.6 177.3 L1069.8 178.4 L1071 177.8 L1072.2 179.2 L1073.4 179.1 L1074.6 178.8 L1075.8 179.4 L1077 179.7 L1078.2 179.9 L1079.4 179.4 L1080.6 179.5 L1081.8 180.2 L1083 180 L1084.2 180.5 L1085.4 180.9 L1086.6 179.8 L1087.8 180.8 L1089 181.4 L1090.2 180.8 L1091.4 180.7 L1092.6 181.5 L1093.8 181.4 L1095 181.8 L1096.2 181.3 L1097.4 180.9 L1098.6 181.7 L1099.8 181.6 L1101 182.4 L1102.2 182.2 L1103.4 181.4 L1104.6 181.7 L1105.8 182.9 L1107 182.9 L1108.2 182.3 L1109.4 182.8 L1110.6 183.1 L1111.8 183.2 L1113 183.5 L1114.2 183.3 L1115.4 183.3 L1116.6 183.2 L1117.8 183.9 L1119 182.2 L1120.2 183.3 L1121.4 183.4 L1122.6 182.7 L1123.8 183.5 L1125 183 L1126.2 183.6 L1127.4 183 L1128.6 183.3 L1129.8 183.5 L1131 183 L1132.2 182.3 L1133.4 181.4 L1134.6 182.3 L1135.8 180.7 L1137 179.7 L1138.2 179.2 L1139.4 177.3 L1140.6 176.1 L1141.8 174 L1143 171.4 L1144.2 168.2 L1145.4 167 L1146.6 165.6 L1147.8 165.9 L1149 165.8 L1150.2 163.9 L1151.4 163.1 L1152.6 164.3 L1153.8 164.9 L1155 162.8 L1156.2 162.3 L1157.4 162.8 L1158.6 161.7 L1159.8 161.4 L1161 161.1 L1162.2 161.1 L1163.4 160.2 L1164.6 160.1 L1165.8 160.3 L1167 161.2 L1168.2 162.6 L1169.4 164.9 L1170.6 168.2 L1171.8 169.5 L1173 170.5 L1174.2 172.7 L1175.4 172.8 L1176.6 172.1 L1177.8 171.6 L1179 170.4 L1180.2 169.3 L1181.4 168.2 L1182.6 167.3 L1183.8 167.1 L1185 168.7" fill="none" stroke="#000" stroke-width="5" stroke-linejoin="round" stroke-linecap="round"/>
<line x1="1017" y1="60" x2="1036" y2="60" stroke="#000" stroke-width="4.5"/>
<text x="1045.7" y="67.7" font-size="26.6">GR expression</text>
<text x="925.5" y="370" font-size="38">C</text>
<line x1="1005" y1="413" x2="1005" y2="578.2" stroke="#000" stroke-width="2.5"/>
<line x1="999" y1="577" x2="1226.6" y2="577" stroke="#000" stroke-width="2.5"/>
<line x1="999" y1="577" x2="1005" y2="577" stroke="#000" stroke-width="2.5"/>
<text x="985" y="585.3" font-size="26.3" text-anchor="end">0</text>
<line x1="999" y1="544.2" x2="1005" y2="544.2" stroke="#000" stroke-width="2.5"/>
<text x="986.5" y="552.5" font-size="26.3" text-anchor="end">50</text>
<line x1="999" y1="511.4" x2="1005" y2="511.4" stroke="#000" stroke-width="2.5"/>
<text x="989.5" y="519.7" font-size="26.3" text-anchor="end">100</text>
<line x1="999" y1="478.6" x2="1005" y2="478.6" stroke="#000" stroke-width="2.5"/>
<text x="989.5" y="486.9" font-size="26.3" text-anchor="end">150</text>
<line x1="999" y1="445.8" x2="1005" y2="445.8" stroke="#000" stroke-width="2.5"/>
<text x="989.5" y="454.1" font-size="26.3" text-anchor="end">200</text>
<line x1="999" y1="413" x2="1005" y2="413" stroke="#000" stroke-width="2.5"/>
<text x="989.5" y="421.3" font-size="26.3" text-anchor="end">250</text>
<line x1="1005" y1="577" x2="1005" y2="583.5" stroke="#000" stroke-width="2.5"/>
<text x="1005" y="609.5" font-size="25.4" text-anchor="middle">0</text>
<line x1="1060.4" y1="577" x2="1060.4" y2="583.5" stroke="#000" stroke-width="2.5"/>
<text x="1060.4" y="609.5" font-size="25.4" text-anchor="middle">200</text>
<line x1="1115.8" y1="577" x2="1115.8" y2="583.5" stroke="#000" stroke-width="2.5"/>
<text x="1115.8" y="609.5" font-size="25.4" text-anchor="middle">400</text>
<line x1="1171.2" y1="577" x2="1171.2" y2="583.5" stroke="#000" stroke-width="2.5"/>
<text x="1171.2" y="609.5" font-size="25.4" text-anchor="middle">600</text>
<line x1="1226.6" y1="577" x2="1226.6" y2="583.5" stroke="#000" stroke-width="2.5"/>
<text x="1226.6" y="609.5" font-size="25.4" text-anchor="middle">800</text>
<text x="1128" y="643.6" font-size="26.7" text-anchor="middle">Distance in CA1 region (μm)</text>
<text x="894" y="496.4" font-size="25.3" text-anchor="middle" transform="rotate(-90 894 496.4)">Optical Density</text>
<text x="928.3" y="498.6" font-size="25.5" text-anchor="middle" transform="rotate(-90 928.3 498.6)">(Arbitrary Unit)</text>
<path d="M1005 501.4 L1006.2 501.1 L1007.4 501.6 L1008.6 499.6 L1009.8 502.6 L1011 501.8 L1012.2 499.9 L1013.4 500.6 L1014.6 499.7 L1015.8 497.8 L1017 497.5 L1018.2 495.8 L1019.4 494.9 L1020.6 492.8 L1021.8 492.9 L1023 491.5 L1024.2 491.5 L1025.4 489.4 L1026.6 488.9 L1027.8 487.9 L1029 488.4 L1030.2 485.9 L1031.4 485.8 L1032.6 485.8 L1033.8 484.3 L1035 485.3 L1036.2 485.6 L1037.4 482.6 L1038.6 483 L1039.8 483.4 L1041 484.8 L1042.2 484.4 L1043.4 486.4 L1044.6 486.8 L1045.8 488 L1047 489 L1048.2 490.2 L1049.4 492.4 L1050.6 491.4 L1051.8 493.7 L1053 494.4 L1054.2 496.9 L1055.4 495.5 L1056.6 496.1 L1057.8 497.7 L1059 499.3 L1060.2 499.1 L1061.4 499.7 L1062.6 498.5 L1063.8 500.4 L1065 500.3 L1066.2 499.3 L1067.4 500.3 L1068.6 501.2 L1069.8 501 L1071 500.5 L1072.2 501.7 L1073.4 500.2 L1074.6 500.1 L1075.8 499.6 L1077 501.4 L1078.2 500.2 L1079.4 499.7 L1080.6 500.1 L1081.8 500.4 L1083 499.9 L1084.2 499.7 L1085.4 499.1 L1086.6 501.3 L1087.8 500.7 L1089 501.1 L1090.2 500.5 L1091.4 499.7 L1092.6 501.1 L1093.8 499.5 L1095 499.2 L1096.2 499.2 L1097.4 501.5 L1098.6 499.9 L1099.8 499.8 L1101 499.6 L1102.2 499.4 L1103.4 499.6 L1104.6 499.1 L1105.8 498.5 L1107 500 L1108.2 499.7 L1109.4 499.2 L1110.6 500.7 L1111.8 499.8 L1113 501.4 L1114.2 501.2 L1115.4 500.6 L1116.6 500 L1117.8 500.6 L1119 501.1 L1120.2 500 L1121.4 500.2 L1122.6 500 L1123.8 499.4 L1125 499.1 L1126.2 499.8 L1127.4 500.7 L1128.6 500.5 L1129.8 499.6 L1131 501.8 L1132.2 500.3 L1133.4 500.1 L1134.6 501.2 L1135.8 499.6 L1137 502.1 L1138.2 500.4 L1139.4 500.7 L1140.6 498.5 L1141.8 501.4 L1143 500 L1144.2 499.8 L1145.4 501.2 L1146.6 500.9 L1147.8 499.9 L1149 499.4 L1150.2 500 L1151.4 499.7 L1152.6 500 L1153.8 500.3 L1155 498.7 L1156.2 499.3 L1157.4 499.3 L1158.6 499 L1159.8 499.7 L1161 499.9 L1162.2 500 L1163.4 500.2 L1164.6 499.4 L1165.8 498.9 L1167 499 L1168.2 499.9 L1169.4 499.3 L1170.6 499.1 L1171.8 498.3 L1173 497.9 L1174.2 498.8 L1175.4 498.4 L1176.6 499 L1177.8 497.4 L1179 498.4 L1180.2 497.5 L1181.4 498.9 L1182.6 498.3 L1183.8 498.5 L1185 497.3 L1186.2 499 L1187.4 498.2 L1188.6 499.3 L1189.8 499.8 L1191 499.3 L1192.2 499.5 L1193.4 500.2 L1194.6 499.8 L1195.8 498.9 L1197 499.9 L1198.2 499.7 L1199.4 500.5 L1200.6 498.7 L1201.8 500.4 L1203 499.6 L1204.2 499.9 L1205.4 501 L1206.6 500.5 L1207.8 500.4 L1209 500.2 L1210.2 501 L1211.4 500.7 L1212.6 499.5 L1213.8 500.9 L1215 501.3 L1215 522.2 L1213.8 522 L1212.6 521.4 L1211.4 522.3 L1210.2 522 L1209 522.3 L1207.8 523.1 L1206.6 523.7 L1205.4 522.7 L1204.2 522.5 L1203 522.5 L1201.8 523.3 L1200.6 521.5 L1199.4 523.6 L1198.2 523.3 L1197 523.3 L1195.8 523.3 L1194.6 524.6 L1193.4 524.3 L1192.2 523.6 L1191 523.3 L1189.8 524.7 L1188.6 523.4 L1187.4 523.4 L1186.2 523.6 L1185 523.2 L1183.8 524.5 L1182.6 523 L1181.4 524.6 L1180.2 522.8 L1179 524.6 L1177.8 523.2 L1176.6 524.4 L1175.4 523.3 L1174.2 524.8 L1173 524.9 L1171.8 524.4 L1170.6 525.6 L1169.4 525.4 L1168.2 527.6 L1167 525.9 L1165.8 526.9 L1164.6 525.5 L1163.4 527.5 L1162.2 527.3 L1161 526.7 L1159.8 527.2 L1158.6 526.8 L1157.4 527.1 L1156.2 527 L1155 527.2 L1153.8 527.8 L1152.6 528.5 L1151.4 527.3 L1150.2 528.3 L1149 528.3 L1147.8 528.2 L1146.6 529.4 L1145.4 529.8 L1144.2 528.3 L1143 530 L1141.8 529.6 L1140.6 529.4 L1139.4 531.6 L1138.2 531.3 L1137 532.2 L1135.8 531.3 L1134.6 533.1 L1133.4 532.3 L1132.2 533.2 L1131 535.4 L1129.8 533.8 L1128.6 534.3 L1127.4 533.1 L1126.2 532.8 L1125 530.8 L1123.8 532.3 L1122.6 530.9 L1121.4 531.8 L1120.2 531.1 L1119 530.9 L1117.8 530.4 L1116.6 529.3 L1115.4 530.8 L1114.2 528.4 L1113 530.1 L1111.8 527.3 L1110.6 528.3 L1109.4 526.7 L1108.2 526.3 L1107 525.2 L1105.8 525.5 L1104.6 524.3 L1103.4 524.9 L1102.2 523.2 L1101 523.9 L1099.8 523.1 L1098.6 523 L1097.4 523.3 L1096.2 521.5 L1095 520.4 L1093.8 522.1 L1092.6 522 L1091.4 519.9 L1090.2 521.2 L1089 521.5 L1087.8 519.7 L1086.6 520.6 L1085.4 518.9 L1084.2 518.7 L1083 518.7 L1081.8 519.4 L1080.6 518.9 L1079.4 518.1 L1078.2 518.2 L1077 518.2 L1075.8 517.9 L1074.6 518.3 L1073.4 517.6 L1072.2 518.9 L1071 518.5 L1069.8 517.6 L1068.6 517.3 L1067.4 517.8 L1066.2 515.7 L1065 516.8 L1063.8 516.6 L1062.6 514.8 L1061.4 516.3 L1060.2 514.5 L1059 515.3 L1057.8 512.7 L1056.6 511.5 L1055.4 511.1 L1054.2 510.8 L1053 508.6 L1051.8 507.3 L1050.6 505.2 L1049.4 505.2 L1048.2 503.2 L1047 502.4 L1045.8 500.6 L1044.6 499.5 L1043.4 498.2 L1042.2 496.9 L1041 496.8 L1039.8 494.5 L1038.6 494.3 L1037.4 493.8 L1036.2 496 L1035 495.4 L1033.8 495 L1032.6 495.5 L1031.4 496.6 L1030.2 496.9 L1029 498.2 L1027.8 497.2 L1026.6 498.4 L1025.4 499.1 L1024.2 500.6 L1023 501.2 L1021.8 502.2 L1020.6 502.2 L1019.4 503.6 L1018.2 504 L1017 506.3 L1015.8 506 L1014.6 507.2 L1013.4 507.6 L1012.2 508.6 L1011 508.6 L1009.8 510.2 L1008.6 506.6 L1007.4 508.1 L1006.2 508.1 L1005 507.7 Z" fill="#f98b80" filter="url(#blur1)"/>
<path d="M1005 505 L1006.2 504.5 L1007.4 504.6 L1008.6 503.4 L1009.8 505.9 L1011 505.4 L1012.2 504.1 L1013.4 504.4 L1014.6 503.7 L1015.8 502.1 L1017 501.9 L1018.2 500 L1019.4 499 L1020.6 497.9 L1021.8 497.8 L1023 496.6 L1024.2 496.1 L1025.4 494.6 L1026.6 494.2 L1027.8 492.7 L1029 492.9 L1030.2 491.7 L1031.4 491.4 L1032.6 491 L1033.8 489.7 L1035 490.4 L1036.2 490.9 L1037.4 488.5 L1038.6 488.2 L1039.8 488.3 L1041 490.5 L1042.2 490.8 L1043.4 492.1 L1044.6 493.1 L1045.8 494.2 L1047 495.7 L1048.2 496.9 L1049.4 498.9 L1050.6 498.8 L1051.8 500.4 L1053 501.9 L1054.2 504 L1055.4 503.5 L1056.6 504.1 L1057.8 505.3 L1059 507.1 L1060.2 507.2 L1061.4 508.4 L1062.6 506.7 L1063.8 508.7 L1065 508.8 L1066.2 507.5 L1067.4 508.7 L1068.6 509.5 L1069.8 508.9 L1071 509.5 L1072.2 510.4 L1073.4 509.2 L1074.6 509 L1075.8 508.7 L1077 509.7 L1078.2 509.2 L1079.4 509.3 L1080.6 509.4 L1081.8 510 L1083 509.1 L1084.2 508.9 L1085.4 508.5 L1086.6 510.8 L1087.8 510.2 L1089 511.2 L1090.2 510.4 L1091.4 510.1 L1092.6 510.9 L1093.8 510.7 L1095 510.2 L1096.2 510.5 L1097.4 512.2 L1098.6 511.5 L1099.8 511.7 L1101 511.4 L1102.2 511.3 L1103.4 512.4 L1104.6 512 L1105.8 511.9 L1107 512.7 L1108.2 512.5 L1109.4 513.6 L1110.6 514.5 L1111.8 513.7 L1113 515.4 L1114.2 514.5 L1115.4 515.3 L1116.6 514.9 L1117.8 515.4 L1119 515.7 L1120.2 515.6 L1121.4 515.6 L1122.6 515.7 L1123.8 515.8 L1125 515.5 L1126.2 516.4 L1127.4 516.9 L1128.6 517.1 L1129.8 516.9 L1131 517.9 L1132.2 516.5 L1133.4 516 L1134.6 517.3 L1135.8 515.5 L1137 516.6 L1138.2 515.4 L1139.4 515.9 L1140.6 514.3 L1141.8 515.8 L1143 515 L1144.2 514.3 L1145.4 515.7 L1146.6 514.9 L1147.8 514.3 L1149 513.6 L1150.2 513.9 L1151.4 513.8 L1152.6 514.2 L1153.8 514.2 L1155 513.3 L1156.2 513.3 L1157.4 513.2 L1158.6 512.6 L1159.8 513 L1161 513.2 L1162.2 513.5 L1163.4 513.8 L1164.6 512.4 L1165.8 513 L1167 512.3 L1168.2 513.7 L1169.4 512.2 L1170.6 512.4 L1171.8 511.4 L1173 511.4 L1174.2 511.8 L1175.4 511.3 L1176.6 511.6 L1177.8 510.3 L1179 511.5 L1180.2 510.5 L1181.4 511.9 L1182.6 510.6 L1183.8 511.6 L1185 510.2 L1186.2 511.5 L1187.4 510.8 L1188.6 511.2 L1189.8 511.6 L1191 511.6 L1192.2 512.1 L1193.4 512.5 L1194.6 512.4 L1195.8 511.9 L1197 511 L1198.2 511.3 L1199.4 511.6 L1200.6 510.4 L1201.8 512 L1203 511.3 L1204.2 511.3 L1205.4 512 L1206.6 511.8 L1207.8 511.5 L1209 510.8 L1210.2 511.6 L1211.4 511.6 L1212.6 510.9 L1213.8 512 L1215 511.7" fill="none" stroke="#d8301c" stroke-width="5" stroke-linejoin="round" stroke-linecap="round"/>
<line x1="1017" y1="397.7" x2="1036" y2="397.7" stroke="#d8301c" stroke-width="4.5"/>
<text x="1045.7" y="405.5" font-size="26.6">GR expression</text>
<text x="1372.2" y="31.7" font-size="38">D</text>
<text x="1533" y="87.8" font-size="25.9" text-anchor="middle">dCA1</text>
<text x="1636.5" y="87.8" font-size="25.9" text-anchor="middle">vCA1</text>
<text x="1455" y="137.7" font-size="26.9" text-anchor="end">GR</text>
<text x="1455" y="195" font-size="26.3" text-anchor="end">β-tubulin</text>
<rect x="1485.6" y="112" width="199.4" height="40" fill="#c9c9c9" filter="url(#blur05)"/>
<rect x="1485.6" y="112" width="199.4" height="40" fill="#c9c9c9"/>
<rect x="1485.6" y="112" width="199.4" height="40" filter="url(#grain2)" opacity="0.6"/>
<g filter="url(#blur2)">
<path d="M1493 129 Q1530 128 1568 129.5 L1569 134.5 Q1530 133.5 1493 133.5 Z" fill="#4d4d4d"/>
<path d="M1600 130.5 Q1640 130 1676 130 L1676 135.5 Q1640 134.5 1600 134 Z" fill="#5e5e5e"/>
<path d="M1493 140 L1570 140 L1570 147 L1493 147 Z" fill="#a9a9a9"/>
<path d="M1600 141 L1676 141 L1676 147 L1600 147 Z" fill="#b0b0b0"/>
</g>
<rect x="1485.6" y="166" width="199.4" height="46.6" fill="#e4e4e4"/>
<g filter="url(#blur15)">
<path d="M1492 189 Q1494 184.5 1506 185.5 L1560 187.5 Q1568 188.5 1567.5 193.5 Q1566 198 1558 197.5 L1502 196 Q1493 195 1492 189 Z" fill="#0c0c0c"/>
<path d="M1591 192.5 Q1592 189 1602 189.5 L1648 190 Q1665 190.5 1669.5 197 Q1668 201.5 1652 201.5 L1602 199.5 Q1592 198.5 1591 192.5 Z" fill="#090909"/>
</g>
<text x="1600.5" y="311.5" font-size="43.9" text-anchor="middle" stroke="#000" stroke-width="0.7">**</text>
<path d="M1531 329.2 L1531 315 L1662.4 315 L1662.4 329.2" fill="none" stroke="#000" stroke-width="2.2"/>
<line x1="1466.6" y1="352.8" x2="1466.6" y2="538.5" stroke="#000" stroke-width="2.5"/>
<line x1="1461.6" y1="537.2" x2="1727" y2="537.2" stroke="#000" stroke-width="2.5"/>
<line x1="1461.1" y1="537.2" x2="1466.6" y2="537.2" stroke="#000" stroke-width="2.5"/>
<text x="1452.6" y="546.1" font-size="25.5" text-anchor="end">0</text>
<line x1="1461.1" y1="475.7" x2="1466.6" y2="475.7" stroke="#000" stroke-width="2.5"/>
<text x="1452.6" y="484.6" font-size="25.5" text-anchor="end">1</text>
<line x1="1461.1" y1="414.3" x2="1466.6" y2="414.3" stroke="#000" stroke-width="2.5"/>
<text x="1452.6" y="423.2" font-size="25.5" text-anchor="end">2</text>
<line x1="1461.1" y1="352.8" x2="1466.6" y2="352.8" stroke="#000" stroke-width="2.5"/>
<text x="1452.6" y="361.7" font-size="25.5" text-anchor="end">3</text>
<line x1="1531.8" y1="537.2" x2="1531.8" y2="543.2" stroke="#000" stroke-width="2.5"/>
<line x1="1661.8" y1="537.2" x2="1661.8" y2="543.2" stroke="#000" stroke-width="2.5"/>
<text x="1530.5" y="572.8" font-size="26.9" text-anchor="middle">Dorsal</text>
<text x="1533" y="604" font-size="26.9" text-anchor="middle">CA1</text>
<text x="1658.4" y="572.8" font-size="26.9" text-anchor="middle">Ventral</text>
<text x="1661" y="604" font-size="26.9" text-anchor="middle">CA1</text>
<text x="1381" y="441.5" font-size="26.6" text-anchor="middle" transform="rotate(-90 1381 441.5)">Relative GR Expression</text>
<text x="1412.5" y="441.5" font-size="26.6" text-anchor="middle" transform="rotate(-90 1412.5 441.5)">(Arbitrary Unit)</text>
<circle cx="1531.8" cy="381.6" r="4.3" fill="#000"/>
<circle cx="1531.8" cy="397.4" r="4.3" fill="#000"/>
<circle cx="1531.8" cy="436" r="4.3" fill="#000"/>
<circle cx="1523.3" cy="454.9" r="4.3" fill="#000"/>
<circle cx="1540.5" cy="453" r="4.3" fill="#000"/>
<line x1="1488" y1="424.6" x2="1575" y2="424.6" stroke="#000" stroke-width="2.5"/>
<line x1="1509" y1="409.5" x2="1554" y2="409.5" stroke="#000" stroke-width="2.5"/>
<line x1="1509" y1="439" x2="1554" y2="439" stroke="#000" stroke-width="2.5"/>
<line x1="1531.8" y1="409.5" x2="1531.8" y2="439" stroke="#000" stroke-width="2.5"/>
<line x1="1618.8" y1="475.7" x2="1705.4" y2="475.7" stroke="#dc3520" stroke-width="2.5"/>
<line x1="1640" y1="471.8" x2="1684.8" y2="471.8" stroke="#dc3520" stroke-width="2.5"/>
<line x1="1640" y1="480.5" x2="1684.8" y2="480.5" stroke="#dc3520" stroke-width="2.5"/>
<circle cx="1644.7" cy="471.8" r="4.3" fill="#dc3520"/>
<circle cx="1662.4" cy="476.5" r="4.3" fill="#dc3520"/>
<circle cx="1679.5" cy="464" r="4.3" fill="#dc3520"/>
<circle cx="1679.5" cy="475.2" r="4.3" fill="#dc3520"/>
<circle cx="1662.4" cy="491" r="4.3" fill="#dc3520"/>
<text x="640.1" y="733.8" font-size="33.9">Whole-cell current-clamp recordings</text>
<text x="287.7" y="790" font-size="34.2">Dorsal CA1 neurons</text>
<text x="1183.7" y="786.5" font-size="33.9">Ventral CA1 neurons</text>
<text x="0.3" y="834.4" font-size="38">E</text>
<text x="169.9" y="834.6" font-size="26.7">Baseline</text>
<text x="53.8" y="905.7" font-size="26.2">-67 mV</text>
<text x="585.9" y="834.1" font-size="26.6">100 nM CORT</text>
<text x="493.6" y="904.7" font-size="26.2">-65 mV</text>
<path d="M147.2 891.6l1 .2 1-.2 1 .4 1-.1 1-.1 1 .2 1 0 1 0 1-.3 1 0 1 .1 1-5.5 1-4.2 1-3.3 1-1.8 1-.7 1-1.5 1 .3 1-.2 1-.7 1-.1 1 .2 1 .4 1-.1 1-.5 1 .7 1 .6 1 .1 1 0 1-.2 1-.6 1 1 1-.2 1 .1 1 .5 1-.5 1 0 1 .2 1-.3 1 0 1 .2 1 .5 1-.3 1-.3 1 .7 1-.2 1-.4 1 .7 1-.1 1-.3 1 .7 1-.2 1 0 1 .4 1-.9 1 .4 1 .4 1 .3 1-.4 1-.1 1 .1 1 .4 1 .2 1-.7 1-.3 1 .5 1-.3 1-.1 1 .5 1 .3 1-.4 1 .1 1 .4 1-.4 1-.5 1 .4 1-.3 1 .6 1-.2 1 .2 1 .2 1-.1 1-.4 1-.1 1 .8 1-.4 1-.9 1 .2 1 .8 1-.5 1 .1 1 .3 1-.2 1-.1 1-.3 1 .2 1 .1 1 .4 1-.1 1-.5 1 .4 1-.4 1-.6 1 .5 1 .4 1-.5 1 .7 1-.3 1 0 1-.3 1 1.2 1-.7 1 .3 1-.5 1-.2 1 1 1-.7 1 .7 1-.6 1 .5 1-.8 1-.4 1 .8 1-.3 1 .1 1 .5 1-.8 1-.3 1 .1 1-.2 1 .1 1 .2 1 0 1 .1 1-.3 1 .4 1 .3 1-.4 1 .3 1-.4 1 .4 1-.1 1-.4 1-.4 1 .3 1 6.2 1 4.7 1 2.2 1 2.5 1 0 1 1.6 1 .3 1 .2 1 .3 1 .3 1 .7 1-.8 1 .5 1-.6 1 .1 1-1.1 1 .9 1 .1 1-.6 1 .2 1 0 1 1.1 1-1.2 1-.2 1-.5 1 .2 1 .7 1-.6 1-.5 1 .9 1-.2 1 .1 1 0 1-.6 1 1.1 1-1.1 1 .5 1-.6 1 .3 1-.4 1 .7 1-.2 1-.3 1-.3 1 .7 1 .1 1 0 1-.4 1 .1 1 .1 1-.1 1 .3 1-.5 1 0 1-.6 1 1.3 1-1.2 1 .5 1 0 1-.5 1 .4 1 .2 1-.3 1-.2 1 0 1-.2 1 0 1 0 1 0 1 .3 1-.3 1-.3 1 .6 1-.3 1 .4 1-.4 1 .3 1-.2 1 .2 1-.4 1 .3 1-.1 1 .7 M147.2 892.5l1 .5 1-.2 1-.7 1 0 1-.1 1 .6 1-.1 1 .3 1-.9 1 1.3 1-.5 1-1.5 1-1.5 1-.7 1-.2 1-.3 1-.5 1-.1 1 .1 1-.6 1-.2 1 .5 1-.4 1-.5 1 .4 1 .2 1-.4 1-.2 1 .7 1 .2 1-.6 1-.2 1 .5 1 0 1-.2 1 .3 1 .2 1-.3 1-.2 1 .4 1 .1 1 .3 1-.9 1 .3 1 .1 1-.3 1 .6 1 .2 1-.5 1 .7 1-.2 1-.1 1-.2 1 .3 1-.9 1 .6 1 .1 1-1 1 .7 1-.3 1 .4 1-.1 1 0 1 .2 1-.4 1 .6 1-.5 1 .2 1-.2 1 .6 1 0 1-.4 1 .4 1 .4 1-.1 1-1.2 1 .9 1-.2 1-.1 1-.2 1 .8 1-.9 1 .9 1 .2 1-1.2 1 .5 1-.7 1 .7 1 .5 1 .3 1-1.3 1 .5 1 .4 1 .4 1-.4 1-.5 1 .3 1 .1 1 0 1-.1 1 .3 1 0 1-.4 1-.1 1-.7 1 .4 1 .6 1-.5 1-.5 1 1 1-.2 1 .2 1-.7 1-.2 1-.1 1 1.1 1 .6 1-1.1 1-.1 1 .4 1-.5 1 .2 1-.1 1 .2 1 .4 1-.3 1 .2 1-.5 1 .1 1-1 1 .4 1 .9 1-.4 1 .4 1-.1 1 .2 1 0 1 .1 1-.3 1-.2 1 0 1 0 1-.2 1 .2 1 .2 1 1.8 1 1 1 .3 1 1.4 1 .2 1 .6 1-.1 1-.3 1 0 1 1.1 1-.3 1 .4 1 .1 1-1 1 .4 1 .1 1-.1 1 .1 1-.2 1 0 1-.6 1 .5 1-.3 1 .3 1-.2 1 .4 1 .1 1-.2 1-.1 1-.1 1 0 1 .1 1-.3 1 .3 1-.3 1 .2 1-.8 1 .6 1-.7 1-.1 1 .1 1-.1 1 .5 1-.5 1 0 1 .1 1 .7 1-.4 1-.5 1 .6 1-.5 1 1.1 1-1.1 1 .7 1-.1 1-.8 1 .6 1 .1 1-.2 1 .1 1 .3 1-.2 1-.1 1-.2 1 .3 1-.5 1 .8 1-.3 1-.3 1 .6 1 .5 1-.4 1-.6 1 .3 1-.2 1 .2 1 0 1-.8 1 .7 1-.4 1 .1 1-.4 1 .1 M147.2 892.2l1 .4 1-.4 1 .1 1 .2 1-1 1 .2 1-.2 1 .3 1 .4 1-.5 1 .4 1 1 1 2 1 .7 1 1.8 1 .2 1 .2 1-.2 1 .1 1 .2 1-.2 1 .1 1 .2 1-.4 1-.1 1 .2 1-.2 1 .3 1-1 1 .9 1-.6 1 0 1-.4 1 .6 1-.2 1 0 1-.2 1 .2 1 .6 1-.5 1-.3 1 .6 1-.4 1 .3 1 0 1-.1 1-.8 1 .7 1 .3 1-.3 1 .3 1 0 1-.6 1 .5 1 .2 1-.1 1 .1 1 .1 1 .3 1-.9 1-.2 1 .4 1-.5 1-.2 1 .3 1 .4 1 .2 1-.8 1 0 1 .5 1 0 1-.1 1 .4 1 .1 1-.6 1 .2 1-.6 1 0 1 .6 1 0 1 0 1-.2 1 .1 1 .1 1-1 1 .5 1 .4 1 .3 1-.7 1 .8 1-.5 1 .1 1 .1 1 .1 1-.8 1 .7 1-.4 1-.1 1 0 1-.7 1 .4 1 .4 1-.2 1 .1 1-.1 1 .1 1 .4 1-.4 1 0 1 .4 1 .6 1-1 1 .5 1-.7 1 1 1-.4 1 .3 1-.3 1-.6 1 .8 1 0 1-.6 1-.5 1 .6 1-.1 1 1 1-1.1 1-.1 1 .2 1-.5 1 .2 1 1.1 1-.7 1-.1 1 0 1 .7 1 0 1-.1 1-.3 1 .1 1 0 1-.4 1 .4 1-.9 1 .2 1-1.6 1-1.3 1-1.3 1-.1 1-.2 1-.5 1-.1 1 .3 1-.3 1-.6 1 .4 1 .4 1-.8 1 .5 1 0 1-.1 1 .2 1 .6 1 .1 1-.2 1-.7 1 .5 1 .2 1 0 1 0 1 0 1 .2 1-.3 1-.6 1 .3 1-.4 1-.5 1 .3 1 1.4 1-1 1-.4 1 .6 1 .7 1-.6 1 .1 1-.1 1 0 1 .5 1-.1 1-.4 1 .4 1 0 1-.4 1 .3 1 0 1-.3 1 .6 1-.2 1-.2 1-.4 1 .1 1 1 1-.9 1 .4 1-.4 1 .2 1-.1 1-.6 1 .2 1 .1 1-.1 1 .1 1 0 1 .3 1 .1 1-.2 1-.4 1 .7 1-.1 1 .2 1 .7 1-.7 1 0 1-.3 1 .1 1-.1 1 .8 1-.3 M147.2 893.6l1-1.7 1 1.2 1-.3 1 .6 1-.4 1 .5 1-.7 1-.2 1 .4 1 .1 1-.2 1 5 1 4.2 1 2.4 1 1.5 1 1.2 1 .2 1 1.8 1-.4 1 .6 1-.4 1 .7 1 0 1-.6 1 .4 1-.8 1 .7 1-.9 1 .5 1 .2 1-.5 1-.4 1 .1 1 .1 1 .2 1-.2 1-.4 1-.3 1 .4 1-.6 1 .3 1-.2 1 .4 1-.1 1 .1 1-.3 1-.4 1 .6 1 .3 1-.5 1 .3 1-.2 1 .4 1 .1 1 .1 1-.2 1 .5 1-.9 1 .1 1 0 1 .4 1-.5 1 0 1 .3 1 .1 1-.3 1-1.3 1 .6 1-.1 1 0 1 .5 1 .8 1-.7 1-.3 1 .5 1-.2 1 0 1-.3 1 .2 1 .3 1-.8 1 .1 1 .9 1-.3 1-.4 1-.2 1 .5 1-.5 1 .2 1 .8 1-.7 1 .4 1-.6 1 .2 1 .4 1-1 1 .6 1 0 1 .1 1 .3 1-.2 1-.7 1 .6 1-.1 1 .2 1 1 1-1 1 .3 1-.3 1 .5 1-.1 1 0 1 0 1 .5 1-.7 1-.1 1-.1 1 .8 1-.6 1-.2 1 .2 1 1.1 1-.9 1 .4 1-.1 1-.2 1-.3 1-.1 1 0 1-.5 1 1.7 1-.7 1-.4 1-.3 1-.3 1 .7 1-.5 1 .2 1-.8 1 .7 1 .8 1-.7 1 .3 1-.4 1 .4 1-5.7 1-4.1 1-2.7 1-1.6 1-1.4 1-1.1 1-.2 1-.3 1-.9 1 .1 1 1.2 1-.8 1-.3 1 .9 1-1 1-.8 1 .4 1 .3 1 .8 1 .3 1-1 1 1.2 1-1 1 .6 1 .2 1 .1 1-.3 1 .3 1-.5 1 .4 1 .2 1 0 1 .7 1-.7 1 .1 1 .4 1-.5 1-.4 1-.2 1 1.3 1-.4 1 .3 1-.2 1 .4 1 .6 1-.5 1-.3 1 .2 1 .7 1-.8 1-.6 1 .2 1 .4 1 .9 1-.4 1-.3 1-.2 1 .4 1-.1 1-.2 1 .2 1-.1 1 .9 1-1.6 1 .8 1-.2 1 .6 1-.3 1 .1 1 0 1-.1 1 .4 1-.8 1 .7 1-.5 1 .2 1 .6 1-.2 1 .1 1-1.6 1 .4 1 .6 1-.4 M147.2 892l1-.5 1-.3 1-.6 1 1.1 1 .4 1-.5 1 .2 1 .2 1-.7 1 1.2 1-1.2 1 9.7 1 7.9 1 3.7 1 3.1 1 2 1 1.4 1 0 1 .7 1 1 1-.7 1-.2 1 .1 1-.2 1-.5 1-.1 1-1.1 1 .5 1-.8 1 .3 1-.6 1-.5 1 .1 1-.2 1 .5 1-.5 1 .3 1-.6 1 .9 1-.7 1 .5 1-.3 1-.8 1 .6 1-.4 1 .3 1 .2 1-.3 1 .1 1-.9 1 .5 1 0 1 .3 1-.6 1 .4 1 0 1-.7 1 .2 1 .5 1-.5 1-.2 1 .7 1-.2 1-.4 1 .1 1-.3 1 0 1 .1 1 .2 1 0 1-.8 1 .2 1-.1 1-.3 1 .6 1 .2 1-.5 1 .6 1-.6 1 .4 1 .1 1-.5 1-.4 1 .5 1-.3 1-.1 1 .4 1 .5 1-.6 1-.1 1-.6 1 .6 1-.3 1 .7 1-.4 1 .2 1 0 1-.1 1 .4 1 0 1-.3 1 .2 1 .3 1 .3 1-.3 1 .4 1-.8 1 .1 1-.5 1 .9 1-.4 1 0 1 .5 1-.5 1 .1 1 .5 1-.5 1 .3 1-.4 1 .5 1 .2 1-.4 1 .4 1-.9 1 .2 1 .2 1 .2 1-.5 1 0 1 .4 1 .3 1-.6 1-.2 1 .5 1 .1 1-.3 1 .2 1-.8 1 .6 1 .1 1 .2 1-.1 1 0 1-.6 1 .7 1-10 1-6 1-3.6 1-2.9 1-3 1-.4 1-1.2 1-.8 1-.1 1-.3 1 .3 1-1 1 .2 1 0 1-.4 1 1.1 1 .2 1-.6 1 .4 1-.1 1 .2 1-.2 1 .5 1-.5 1 .8 1-.3 1 .8 1-1.3 1 .6 1-.3 1 .5 1 .5 1-.5 1 0 1-.1 1 1 1 .5 1 .1 1-.2 1-.3 1 0 1-.4 1 0 1 .9 1-.6 1 .5 1-.3 1 .7 1 0 1-.6 1 .3 1 0 1 .6 1 .2 1-.4 1 .9 1-.6 1-.5 1-.4 1 1 1 .2 1-.2 1 .2 1 .2 1-.5 1 .3 1 .5 1-.4 1-.5 1 .5 1 0 1 .6 1-1.1 1-.5 1 .7 1 .1 1-.2 1 .4 1 0 1 .2 1-.8 1 .1 1 .2 M147.2 892.1l1 .2 1 .3 1-.4 1 .4 1 .2 1-.9 1 .9 1-.5 1 .9 1-.6 1-.6 1 12 1 9.1 1 6.3 1 4.3 1 2.3 1 2 1 .7 1 .5 1-.3 1 0 1 .6 1 .2 1 .2 1-1.1 1 0 1-.7 1 0 1-.9 1 .9 1-.7 1-.2 1-.1 1-.2 1-.7 1 .9 1-.5 1-.3 1-.7 1-.4 1-.1 1 .5 1-.1 1-.5 1 1 1-.5 1 .1 1-.1 1-1 1 .6 1-.1 1-.4 1 .8 1 0 1 0 1 .2 1-.8 1 .3 1-.2 1 .3 1 0 1 .4 1 0 1-.5 1 .5 1 .2 1-.3 1-.6 1 .3 1 .2 1-.5 1 .5 1-.5 1 .8 1-.2 1-.4 1-.3 1 .4 1-.4 1 0 1 .6 1-.7 1-.5 1 .8 1 .4 1-.1 1-.2 1 .5 1-.7 1 .7 1 0 1-.8 1 .1 1-.6 1 .2 1 .5 1-.5 1 .5 1 0 1-.1 1 .3 1 .4 1-.5 1 .3 1 .3 1-.6 1-.2 1-.7 1 1 1-.1 1-.2 1 .6 1-.2 1-.2 1-.4 1-.2 1 .5 1 0 1-.2 1 .1 1 0 1 .5 1-.7 1 .3 1 .2 1 .1 1-.1 1-.4 1-.2 1-.3 1 .9 1-.4 1-.2 1-.2 1-.1 1 .8 1-.2 1 .2 1 .5 1-1.1 1 .4 1 .5 1 0 1-.7 1 .4 1-12.8 1-8.7 1-5.5 1-3.9 1-2.4 1-1.9 1-.9 1-1.7 1-.1 1-1 1-.2 1 .1 1 .7 1 0 1-.6 1 1.1 1 .1 1-.4 1-.1 1 .3 1-.2 1 1.5 1-1 1 .2 1 .2 1 .2 1 0 1 .6 1-.5 1 .1 1 .1 1 .9 1-.4 1 .2 1 .4 1-.4 1 .4 1 .6 1-.2 1-.2 1 .5 1-.5 1-.1 1-.3 1 .6 1 .1 1-.3 1 1 1-.1 1 .2 1-.9 1 .6 1 .1 1-.7 1 .7 1-.1 1-.4 1 .9 1 .7 1-.5 1-.4 1 .2 1 .3 1-.7 1 .5 1-.1 1 .1 1 .5 1-.9 1 .9 1-.2 1-.1 1-.4 1 .6 1-.2 1-.8 1 .7 1 .1 1 .2 1 .1 1 .1 1 .7 1-.1 M147.2 891.8l1 .6 1 0 1 0 1 .3 1-.7 1 .3 1-.3 1-.4 1 .2 1 .3 1-.4 1 15.4 1 12 1 7.5 1 5.2 1 3.3 1 2 1 .6 1 1.7 1-.5 1 .7 1-.2 1-.2 1-.4 1-.4 1 .3 1-1.2 1 .5 1-1.1 1 .7 1-.9 1 .1 1 .2 1-1.5 1 .5 1 .2 1-.1 1-.1 1-.5 1-.2 1-.1 1-.2 1-.1 1 .3 1-.3 1 0 1 .2 1-.2 1-.7 1 .2 1 .3 1-.5 1-.5 1 .2 1 .5 1-.3 1-.2 1 .2 1-.7 1 1.1 1-.9 1 0 1 .8 1-1.3 1 .2 1 .3 1-.5 1 .3 1 .3 1-.1 1-.1 1 .4 1 .4 1 0 1-1.3 1 1.2 1 0 1-.3 1-.6 1 .3 1 .2 1-.3 1 1 1-.3 1-.2 1-.4 1 .6 1-.2 1 0 1-.5 1 .9 1-.8 1 .7 1-1.6 1 .7 1-.3 1-.8 1 .7 1-.2 1 0 1 .2 1 0 1 .5 1 .3 1-.2 1-.3 1 .1 1 .9 1-.7 1 0 1-.5 1 .4 1 .1 1 0 1-.2 1 .1 1-.3 1 .2 1-.6 1 .5 1 .4 1-.6 1 .8 1 0 1-.7 1 0 1 .1 1 .3 1 .5 1-.1 1 .6 1 .4 1-1.1 1-.6 1 .1 1-.3 1 .6 1 0 1 .5 1-1 1 .4 1 0 1 .1 1-.2 1 .9 1-16.8 1-10.9 1-7.3 1-5.1 1-2.9 1-3.3 1-1.1 1-1.1 1-.5 1 0 1-.7 1-.6 1 .6 1-.4 1 .6 1 .1 1 .8 1-.5 1-.4 1 .9 1 .3 1-.2 1 .2 1 0 1 .1 1 0 1 .9 1 0 1-.5 1 .9 1-.1 1 .2 1 0 1 .6 1-1 1 .8 1 .3 1 0 1-.4 1 .3 1 .6 1 .6 1-1.1 1 .5 1 .5 1 0 1 .4 1 .2 1 0 1-.6 1 .4 1-.2 1 .5 1 .5 1-.1 1 .6 1-.5 1-.1 1 0 1-.6 1 .1 1 .3 1 .1 1-.1 1-.3 1 .2 1 .1 1 1 1-.6 1 .6 1-.3 1 .1 1 .2 1-.1 1 .3 1 .3 1-.6 1 .3 1-.3 1-.2 1 .4 1 .3 1-1 M147.2 892.7l1-.3 1-.3 1-.3 1-.2 1 .7 1-.2 1 0 1 .3 1 .1 1-.7 1 1 1 17.2 1 15.3 1 9.1 1 6 1 4.8 1 1.9 1 1.7 1 .6 1 .7 1-.1 1-.8 1-.2 1 0 1-.5 1-1.1 1 1.1 1-2 1-.4 1 0 1 .4 1 .1 1-.9 1-.5 1 .2 1-.4 1 0 1-.8 1 .4 1-.1 1-1.1 1 .6 1 0 1 .2 1-.7 1-.4 1 .2 1 .1 1-.5 1-.1 1 .7 1-.9 1-.2 1 .3 1 0 1 .3 1-.9 1-.1 1 .5 1 .4 1-.6 1 .4 1 .3 1 0 1 .1 1-.1 1-.2 1-.1 1 .7 1-.7 1 .7 1-1.1 1 1.3 1-1.7 1 1.1 1-1.1 1 .2 1 .1 1-.4 1 .9 1-.7 1-.7 1 .7 1 0 1-.7 1 .6 1-.2 1 .3 1 .1 1-.3 1-.2 1 .7 1-.3 1-.6 1 .4 1 .1 1 .1 1 1 1-.9 1 .3 1 .3 1-.3 1 0 1 .3 1-.6 1 .1 1 .3 1 0 1-.4 1-.2 1 .6 1 .6 1-.5 1 .7 1-.4 1-.2 1-.9 1 1.1 1-.1 1-.3 1 1 1-.2 1 .4 1-.5 1 .2 1-.3 1 .4 1-.4 1-.5 1 .6 1-.1 1-.1 1-.5 1 .6 1-.7 1 .7 1-.8 1 .4 1 .1 1 0 1 .9 1-.9 1 .9 1-.5 1-.6 1-18.7 1-13.5 1-9 1-6.9 1-3.4 1-3.3 1-1.8 1-1 1-.7 1-.2 1-.6 1-1 1 1.5 1-.4 1 .3 1-.6 1 1.2 1-.1 1 .9 1 .1 1 .3 1-.3 1-.1 1 1.1 1 0 1-.3 1 .1 1 .1 1-.1 1 .1 1 .5 1 .8 1-.5 1 .5 1-.7 1 .8 1-.4 1 .9 1 .2 1-.2 1 .2 1 .6 1-.5 1-.3 1 1 1 .9 1-1.2 1 .8 1-.4 1 .4 1-.1 1 .8 1-.4 1 .1 1-.3 1 .6 1-.5 1 .2 1 0 1-.4 1 .6 1-.6 1 .6 1 0 1 0 1 0 1-.1 1 .4 1 .1 1-.2 1 .3 1-.1 1 .3 1-.1 1-.5 1 1.3 1-.7 1-.1 1 .5 1-.9 1 .6 1 .1 1 0 M147.2 891.4l1-.1 1 .7 1-.7 1 1.1 1-.2 1-.5 1 .4 1 .4 1 .5 1-1.5 1 .7 1 21.2 1 16.2 1 11.4 1 7.1 1 4.8 1 2.3 1 1.9 1 .9 1 .3 1 .1 1-.7 1 .1 1-.4 1-.6 1-.5 1-.1 1-.9 1 .1 1-.6 1-.2 1-.4 1 .2 1-.4 1-.4 1-.5 1 .7 1-.7 1-.8 1 .1 1-.4 1 .1 1-.7 1-.3 1 .6 1-1.4 1 .2 1 .1 1 0 1-.2 1-.1 1 .3 1-1.1 1 1.8 1-.9 1-.5 1 0 1-.1 1-.6 1 .9 1-.6 1 .3 1-.1 1 .1 1 .2 1-.4 1 .9 1-.8 1 .3 1 .1 1 .3 1-.1 1-.1 1 .2 1 .1 1-.6 1 .6 1-.4 1-.2 1 .4 1-.2 1 .4 1 .1 1-.2 1 .4 1-.3 1-.6 1 1.1 1-.6 1 0 1 .2 1-.6 1 .2 1 .6 1-1 1 .4 1 .8 1-.6 1-.7 1 .4 1 .2 1-.6 1 .3 1 .1 1-.2 1 .5 1-.6 1-.1 1-.1 1-.3 1 0 1 .2 1-.3 1 .9 1 .1 1-.9 1-.9 1 .9 1 .4 1-.5 1 .4 1-.1 1-.5 1 .2 1-.1 1 .2 1-.3 1 .4 1 .8 1-.6 1 .5 1-.4 1-.6 1 .5 1-.1 1-.2 1 .2 1 .6 1 0 1-.6 1 0 1 .1 1 .3 1 .4 1-.4 1-22.5 1-14.9 1-11.1 1-6.5 1-4.6 1-4 1-1.2 1-1.9 1-.9 1-.5 1-.4 1 0 1-.4 1-.5 1 1 1-.2 1 .7 1 .2 1 .5 1-.1 1 .2 1 1.5 1-.2 1 .1 1 .1 1 .6 1-1 1 .8 1 .4 1 .3 1-.3 1 .7 1-.3 1 .3 1-.4 1 .7 1 1 1-.6 1 .6 1-.4 1 .1 1 1.4 1-.9 1 .3 1-.1 1-.6 1 1.1 1 .5 1-.6 1-.1 1 .2 1 .5 1-.5 1 .9 1 .2 1-.8 1 .1 1 .6 1-.2 1 .6 1 .3 1-.6 1 .9 1 0 1-.1 1 .4 1-.4 1 .1 1-.3 1 .1 1 1 1 0 1-.5 1 .2 1-.4 1-.2 1 .3 1 .3 1-.5 1 .2 1-.1 1-.2 1-.4 M147.2 892.5l1 .4 1-.1 1-.4 1 .5 1-.7 1 .8 1-.4 1 .4 1-.1 1-.3 1 .5 1 24.7 1 18.7 1 13.6 1 7.9 1 4.9 1 3.3 1 2.5 1 1.1 1 .2 1 .8 1-.6 1-.8 1-.4 1-.6 1-1.1 1-.3 1-.9 1-.2 1-.1 1-1.3 1 .2 1-.9 1 0 1-.4 1-.6 1-.1 1-.4 1 .3 1-.2 1-.1 1-1.1 1 .8 1-.6 1-.1 1-.4 1 .5 1-.3 1-.3 1-.2 1-1.1 1 .9 1-.3 1 0 1 .1 1 .2 1-.1 1-.3 1-.2 1 .2 1 .2 1-.1 1-.1 1-.2 1-.3 1 .7 1-.1 1-.9 1 .4 1 .5 1-.1 1-.8 1 1 1-.1 1-.3 1-.5 1-.6 1 .9 1 .3 1-.4 1-.5 1 .8 1-.7 1-.6 1 1.2 1-1 1 1 1 .4 1 .1 1 .6 1-.8 1-.3 1 .7 1 0 1-.4 1-.6 1 .5 1-.1 1 .1 1-.1 1 .3 1 0 1 .4 1-.7 1 .2 1-.9 1 .6 1-.6 1 .4 1 .8 1-.9 1 .9 1 .1 1-.4 1-.4 1-.3 1 0 1 .1 1-.1 1 .1 1-.1 1 .4 1-.8 1 1 1 .2 1-.6 1 .8 1 .1 1-.5 1-.5 1 .8 1-1 1 .5 1-.3 1 .5 1-.5 1 .2 1 .2 1-.6 1 .4 1-.3 1 .1 1-.1 1-.3 1 0 1-25.2 1-17.5 1-12.5 1-7.8 1-5.3 1-3.9 1-3.4 1-.8 1-.4 1-.9 1-.4 1 0 1 .2 1 0 1 .6 1 .1 1 .3 1 .5 1 .6 1-.1 1 .6 1-.2 1 0 1 .7 1 .6 1 .2 1-.1 1 .2 1-.2 1 .7 1 .8 1-.5 1 .3 1 .6 1-.2 1 .2 1-.3 1 .7 1 .7 1-.3 1 .7 1 0 1-1.1 1 1.6 1-.8 1 .8 1 .1 1-.1 1 .2 1 .1 1 .2 1-.1 1 .2 1 .2 1 .2 1 0 1 .3 1-.3 1 .3 1 .3 1 .2 1-.9 1 .7 1 .1 1-.7 1 .5 1-.2 1 .6 1 .3 1-.1 1-.3 1 .7 1-.3 1 .1 1-.6 1 .3 1 0 1-.2 1 .1 1 .3 1 .6 1-.2 1 .2" fill="none" stroke="#111" stroke-width="2.1" stroke-linejoin="round"/>
<path d="M586 891.6l1-.2 1-.7 1 .3 1-.1 1 1 1-1.2 1 .9 1-.5 1 .2 1-.3 1 .1 1-1.3 1-3.8 1-2.2 1-1.6 1-.6 1-.5 1-1 1-.4 1 0 1-.7 1 .9 1-.3 1 0 1-.1 1 .5 1 .3 1-.3 1-.2 1 .3 1 .1 1-.4 1 .2 1-.1 1 .4 1 .7 1-.5 1 .5 1-.9 1-.1 1 .4 1 0 1 0 1 .1 1-.1 1 .4 1-.4 1 .3 1-.1 1-.1 1 .1 1-.4 1 .4 1-.1 1-.1 1 1 1-.7 1-.5 1 .1 1 .4 1-.6 1 .9 1-.3 1 .6 1-.5 1 .7 1 .3 1-.2 1-.8 1 .6 1-.2 1 .4 1-.4 1 .4 1-.5 1-.6 1-.2 1 .7 1-.8 1 .4 1 .6 1-.6 1-.5 1 .6 1-.2 1-.4 1 .8 1-.4 1 .3 1-.3 1 .6 1-.8 1 .6 1-.9 1 .3 1 .1 1-.5 1-.3 1 .3 1 0 1 0 1 0 1 .9 1-.7 1 .7 1-.4 1 .3 1-.1 1-.1 1 .2 1 .7 1-1.3 1 .6 1 .2 1-.5 1 .7 1-.2 1 .4 1-.3 1 0 1 0 1-.9 1 1.4 1-.7 1-.7 1 .1 1 .3 1-.1 1 .1 1-.2 1 .4 1-.4 1-.2 1-.4 1 .1 1-.1 1-.1 1 .2 1 .1 1-.4 1 1.2 1-.8 1 1.1 1-.2 1 1 1 3.4 1 2.1 1 2.5 1 1.5 1-.3 1 1.5 1 .1 1 .1 1-.3 1-.1 1-.1 1 0 1 .4 1-1 1 .5 1-.6 1 .5 1-.1 1-.4 1 .4 1-.1 1-.7 1 0 1 .4 1-.3 1 .2 1-.8 1 .8 1 .1 1 .1 1 .6 1-.8 1 .2 1 .5 1-.5 1 .8 1-.2 1-.8 1 .6 1 .2 1-.5 1-.2 1 0 1 .1 1 .4 1-.4 1-.1 1 .8 1-1.4 1 .1 1 .1 1-.1 1-.5 1 1.5 1-.9 1 .1 1-.3 1-.4 1 1.3 1-.7 1 0 1-.1 1 .2 1 .4 1-.5 1-1.1 1 1 1-.2 1 .8 1-.3 1 .3 1-.1 1-.4 1 .4 1-.4 1-.4 1-.1 1 .2 1-.6 1 .8 1 .1 1-.6 1-.5 M586 892.4l1 .3 1 0 1-.5 1 .6 1-.3 1 .3 1-.2 1 .3 1-.8 1 1 1-.2 1-1.1 1-.8 1-.9 1-1.5 1 .5 1-.6 1 0 1-.3 1 0 1 .2 1 .1 1-.5 1 .4 1-.4 1 .1 1 .4 1 .5 1 0 1-.4 1-.1 1 .3 1 .4 1 .2 1-.1 1 .2 1-.2 1 .5 1-1.3 1 0 1 .7 1 .3 1-.2 1 .3 1-.6 1-.2 1 .2 1 .5 1-.1 1-.5 1 .2 1-.3 1 .3 1-.5 1 .3 1-.5 1 .2 1-.1 1-.1 1 .5 1-.4 1 .1 1-.1 1 .4 1-.5 1 .5 1 .3 1-.6 1 .8 1 .1 1-.7 1-.6 1-.2 1 .7 1 .8 1-.3 1 .2 1-.4 1-.3 1 .4 1-.5 1 .5 1 .3 1-.1 1 .3 1-.3 1 .1 1-.3 1-.8 1 .1 1 .3 1 .5 1-.1 1-.1 1-.1 1 .1 1 0 1-.5 1-.3 1 1 1-.2 1 .1 1-.1 1-.3 1 0 1 .6 1 0 1 0 1-.5 1 0 1-.4 1 .1 1-.1 1 0 1 .5 1 .6 1-1.3 1 .9 1 .1 1-.5 1 .6 1 .1 1-.1 1 0 1-.3 1 1 1 .3 1-.5 1-.7 1 .1 1 0 1-.3 1 .2 1 .3 1-.4 1-.5 1 .3 1 .3 1-.2 1 .1 1 .5 1-.5 1-.2 1 0 1 1 1-.1 1 1.7 1 .5 1 0 1 .2 1 1 1-.3 1-.3 1 .9 1-.6 1 0 1 .1 1-.1 1 .2 1-.2 1 .2 1 0 1 0 1-.1 1 .1 1-.4 1-.5 1 .6 1-.9 1 .4 1 .3 1-.8 1 1.2 1-.8 1-.2 1 .2 1 0 1 .4 1 0 1 .4 1-.5 1-.1 1-.6 1 .6 1-.3 1-.3 1 1 1-.7 1 .2 1 0 1 .5 1-.7 1 .3 1 .6 1 .7 1-.6 1 .2 1-.6 1 .9 1-.6 1 0 1-.2 1-.3 1 .1 1-.5 1 1 1-.6 1 .1 1 .5 1-.8 1 1.1 1 .1 1-.8 1 .3 1-.2 1 .4 1-.4 1-.3 1 .7 1-.6 1 .1 1 .2 1 0 1-.1 1-.9 1 .8 1-.3 1 .5 M586 891.1l1 .2 1-.5 1 .2 1-.5 1-.5 1 1.3 1-.4 1-1.2 1 .3 1 .1 1 .4 1 .6 1 .8 1 .3 1 .9 1 0 1 .5 1-.3 1-.1 1 .9 1-.3 1 .2 1-.2 1-.1 1-.2 1 .2 1 0 1-.4 1-.4 1 1.1 1-.8 1 0 1-.6 1 .1 1 .4 1-.8 1 .5 1 .5 1 .8 1-.4 1-.6 1-.1 1 1 1-.4 1 .1 1 .9 1-.8 1-.1 1-.3 1 .7 1 0 1-.8 1-.4 1 .5 1 .6 1-.5 1-.6 1 .7 1 .2 1-.3 1 .1 1 0 1-.3 1-.2 1 0 1 0 1-.2 1 .8 1 .1 1-.2 1 0 1-.2 1-.1 1 .2 1-.2 1 .2 1-.4 1 .6 1 .4 1-.3 1-.3 1-.3 1 .4 1 .9 1-.7 1 .4 1-.4 1 .6 1-.9 1 .1 1 .1 1 0 1-.6 1 .2 1-.3 1 .4 1 0 1-.1 1 .6 1-.7 1 .1 1 .2 1 .3 1-.2 1 .7 1-.4 1 1.2 1-.4 1 .2 1-.8 1 .3 1 0 1 .5 1-.7 1 .4 1-.8 1 .7 1-.8 1-.5 1-.3 1 .7 1-.1 1 .2 1-.2 1 .1 1 .5 1-.7 1 .2 1-.2 1-.5 1 .4 1 .7 1-.9 1 1.3 1-.6 1-.1 1 .1 1-.1 1 0 1 .7 1-.7 1 .3 1-.4 1 .5 1 .8 1-1.4 1-1.6 1-.9 1 .4 1 0 1-.8 1 .6 1-.4 1 0 1-.2 1 .3 1-.6 1 0 1 .5 1-.3 1-.2 1 .5 1-.3 1 .2 1 .9 1-.5 1-.8 1-.1 1 .3 1-.4 1 .4 1 0 1-.1 1-.3 1-.3 1 .3 1 .2 1 .3 1 .4 1-.9 1 .3 1 .1 1-.1 1 .4 1-.3 1 1.1 1-1.5 1 1.4 1-.5 1-.1 1 .3 1-.1 1 .3 1 0 1-.9 1 .3 1 .2 1 0 1-.2 1 .6 1-.5 1-.6 1 .4 1-.2 1 0 1 .5 1 0 1-.1 1 .1 1 .3 1-.6 1 .2 1 .4 1-.7 1 0 1 0 1 .7 1-.4 1 .4 1-.5 1 .3 1 .1 1-.6 1-.2 1 .5 1-.4 1 .3 1 .1 M586 891.9l1-.1 1 .4 1-.3 1-.6 1 .9 1-.4 1 .2 1 .5 1-.5 1-.7 1 .2 1 1.8 1 2.5 1 2.7 1 1.5 1 .4 1 1.2 1 .6 1-.2 1 .2 1 .3 1-.8 1 .4 1 .5 1-.2 1-.5 1 .4 1 .6 1-1.1 1 .6 1-.2 1-.4 1 .3 1-.3 1 .9 1-.1 1-.8 1 .1 1 .2 1-.3 1 .3 1-.6 1 .4 1-.3 1 .1 1 .1 1 .2 1-.9 1 .5 1-.1 1-.3 1 .3 1-.7 1 .2 1 .4 1-.4 1 .9 1-.4 1 .5 1-1 1 .1 1 1.1 1-.9 1 .8 1-.5 1 .4 1 .2 1-.4 1-.3 1 .1 1 .6 1-.3 1 .1 1 0 1-.1 1-.2 1-.4 1 .6 1-.3 1-.8 1 .5 1 .4 1 .5 1-1.1 1 .5 1 .1 1-.1 1-.6 1 .6 1-.3 1 .1 1-.2 1 .4 1-.3 1 .3 1-.3 1 .3 1 .2 1-.4 1-.2 1 .3 1-.1 1-.3 1 .5 1-.2 1 .5 1-.2 1 .4 1 0 1-.4 1 0 1-.1 1 .1 1 .3 1-.6 1 0 1-.1 1 .6 1-.6 1 0 1-.3 1 .3 1-.2 1 .1 1-.5 1 .1 1 .9 1 .3 1-.8 1 .6 1 .1 1 1 1-1.4 1 .3 1-.2 1 .5 1 0 1-.4 1 .7 1 .2 1-1 1 .3 1-.2 1-.1 1-.8 1-3.1 1-2.5 1-.9 1-.6 1-1.4 1-.2 1-.5 1 .2 1-.4 1 .3 1-.6 1-.4 1 .6 1-.3 1 .3 1-.2 1-1.2 1 .4 1 .4 1-.3 1-.5 1 .8 1 .8 1-.2 1-.7 1 .6 1 .4 1-.3 1 .7 1-.9 1 .9 1-.1 1-.3 1 0 1-.1 1-.4 1 .6 1 .2 1-.3 1 0 1-.1 1-.2 1 0 1-.3 1 .7 1-.5 1 .6 1-.5 1 .8 1 .1 1 .2 1 0 1-.6 1 .1 1-.1 1 .4 1 .6 1-.9 1 1.2 1-1.1 1-.2 1 .7 1 .2 1-.6 1-.4 1 1 1-.9 1 .6 1-.4 1-.2 1 .1 1-.2 1-.1 1 .3 1-.5 1-.1 1 .9 1 .1 1-.2 1-.1 1-.4 1 .2 1-.3 M586 890.7l1-.5 1 1.3 1-.7 1-.1 1-.5 1 .2 1 .2 1-.1 1-.2 1 .6 1 .1 1 1.9 1 5.3 1 3.7 1 2.7 1 2 1 .9 1 1.1 1-.2 1 .7 1-.1 1-.3 1 .5 1-.4 1 .2 1 0 1-.1 1-.5 1 .2 1 .2 1-.6 1 .1 1-.3 1-.2 1-.2 1-.4 1 .3 1 .2 1-.9 1 .4 1 .1 1-.2 1 .3 1-.6 1 .5 1 0 1 0 1-.3 1 1 1-.8 1 .1 1-.4 1 0 1 .4 1-.6 1 .6 1 .6 1-1.1 1 .5 1 .3 1-.3 1 .2 1-.3 1-.6 1-.2 1 1 1 .3 1-.6 1 .8 1-1.1 1 .8 1-.5 1 0 1-.2 1-.1 1 .3 1-.2 1 .6 1-.9 1 .4 1-.6 1-.1 1 .7 1-.1 1 0 1 .7 1-.9 1 .7 1-.1 1 .4 1-.8 1 .3 1 0 1-.1 1-.2 1 .3 1-.1 1-.4 1 .2 1-.6 1 1.2 1-.4 1-.3 1 0 1-.3 1-.2 1 0 1 0 1 .2 1 .6 1-.4 1 .5 1-.2 1 .6 1-.8 1 .1 1 .1 1-.6 1 1.2 1 .1 1-.2 1 0 1 .2 1-.4 1 .5 1 0 1 0 1 .1 1-.4 1-.4 1 .6 1-.5 1 0 1-.4 1 .3 1-.1 1-.1 1 .3 1 .4 1-.5 1-.3 1 .3 1 .5 1-.4 1-.9 1-5.5 1-3.2 1-3 1-.8 1-1.7 1-.6 1-.3 1-1.6 1 1.2 1 .3 1-1.2 1-.2 1 .1 1 .3 1-.3 1-.3 1 .1 1-.2 1 .4 1-.1 1-.3 1 .5 1-.3 1 .3 1-.8 1 1.1 1 .1 1-.8 1-.4 1-.1 1 1.1 1-.5 1 .3 1 0 1-.5 1 .6 1 .1 1-.5 1 .4 1-.3 1 .6 1-1 1 1 1-.2 1 .5 1 .1 1-.2 1-.1 1-.3 1 .6 1-.2 1 .2 1-.1 1 .1 1-.4 1 .9 1-.7 1-.3 1 0 1 .3 1-.3 1 .3 1 0 1 .1 1 .3 1-.2 1 0 1 .2 1 .5 1-.5 1 .5 1-.1 1-.1 1-.7 1 .7 1-.5 1 .2 1 .1 1-.2 1-.4 1 .8 1-.4 1 .7 M586 890.7l1 .8 1 0 1 0 1 0 1-.5 1-.4 1 .3 1 .3 1-.1 1-.4 1-.4 1 4.4 1 7 1 5.3 1 3.1 1 2.2 1 1.9 1 .8 1-.1 1 .7 1-.1 1 0 1 0 1-.1 1-.6 1 1.3 1-1.4 1 .2 1 .7 1-.9 1 .1 1 .1 1 0 1-.9 1 .9 1-1.1 1 1 1-.3 1-.2 1-.4 1 .6 1-.4 1 .2 1-.9 1 .5 1 0 1 .1 1-1 1 .1 1 .8 1-.6 1 0 1-.3 1 .5 1-.3 1-.1 1 0 1 .5 1-.7 1 0 1 .4 1 .3 1 .1 1 .1 1 .1 1-.8 1 0 1 .8 1-.6 1 .1 1-.5 1 .5 1-.5 1 .3 1 .1 1-.1 1 .3 1 .2 1 .1 1-.3 1-.5 1 .3 1-.2 1 0 1 .8 1-1.1 1 .6 1-.2 1-.3 1 1.3 1-.8 1-.1 1 1.2 1-.9 1 .1 1 .5 1-1 1-.1 1 .7 1 0 1-.7 1-.3 1 .1 1 .5 1 0 1 0 1-.2 1 .1 1-1.1 1 .9 1-.3 1 .6 1-.7 1 .1 1 .1 1 0 1 .2 1 .8 1-.2 1-.3 1-.4 1 .9 1-.2 1-.2 1-.2 1-.1 1 .7 1 0 1-.3 1 0 1 .5 1-.6 1-.1 1-.2 1 .6 1-.2 1-.8 1-.2 1 1 1 .2 1 .1 1-.2 1-.9 1 1 1-2.4 1-6.8 1-5.4 1-3.6 1-2.4 1-1.3 1-.7 1-1 1 0 1-.8 1 .1 1-.4 1 .1 1 0 1-.1 1 .5 1 .2 1-.9 1 .2 1 .7 1-.1 1 .1 1-.8 1 1.2 1-.7 1 0 1-.1 1 0 1 .2 1 .1 1 .3 1 .1 1-.5 1 .2 1 .3 1 0 1 .9 1-1.4 1 .5 1-.4 1 0 1-.1 1-.2 1 .4 1-.1 1 .3 1 .6 1-.6 1-.2 1 .6 1-1.4 1 1.7 1 0 1-.4 1 .2 1-.1 1-.4 1 .5 1-.1 1-.1 1 .5 1-.8 1 .7 1-.1 1-.2 1 .3 1 0 1-.5 1-.1 1 1 1 .6 1-.5 1 .1 1 0 1 0 1 0 1 .1 1-.8 1 .7 1-.6 1 .7 1-1 1 .2 1 .6 M586 891.3l1 .3 1-.1 1 .2 1 .5 1-.5 1 0 1-.2 1-.3 1 .3 1 .4 1 0 1 3.6 1 10.1 1 7.9 1 3.5 1 2.8 1 1.6 1 1.7 1 .6 1 .1 1 .3 1 .1 1-.4 1-.6 1 .1 1 0 1-.8 1-.1 1 0 1-.1 1-.3 1-.4 1 .2 1-.6 1-.1 1-.3 1 .4 1-.7 1-.1 1 .8 1-.8 1-.3 1 .8 1 .3 1-.7 1-.1 1-.1 1 .3 1 .4 1-.1 1-.8 1 .9 1-.8 1 .3 1-.3 1-.1 1-.3 1 1 1-.6 1 .5 1-.8 1 .3 1-.3 1 .3 1 .2 1-.6 1 .3 1 .2 1 .2 1-.2 1-.5 1-.2 1 .3 1 .4 1 .2 1-.8 1-.3 1 .5 1 .1 1 .4 1-.6 1 .3 1 .6 1-.7 1 .5 1 .2 1-.3 1 .1 1-.7 1-.3 1 .9 1-.1 1 .2 1-.4 1-.6 1 .1 1 .1 1-.1 1 .5 1 .1 1-.2 1-.4 1-.1 1 1 1 0 1-.2 1 .6 1-.6 1 .2 1 0 1-.3 1 .6 1-.4 1-.1 1-.5 1 .1 1-.2 1 .3 1 0 1 .3 1-.9 1 .9 1 .1 1 .1 1-1.1 1 1.1 1-.6 1 .3 1-.1 1-.2 1 .7 1-.1 1 .3 1-.2 1-.8 1 .6 1-.1 1 .5 1-.5 1-.4 1 .4 1-.3 1 .1 1 0 1-2.1 1-9.6 1-6.4 1-3.7 1-2.6 1-2.2 1-1.5 1-1.2 1-.2 1-.8 1-.9 1 .4 1 .5 1-1.1 1-.2 1 1.3 1-1.1 1 .8 1-.2 1 .7 1-.7 1 0 1 .3 1 0 1 .3 1 .4 1-.6 1 0 1 0 1-.1 1 .5 1-.3 1 .3 1 .4 1-.8 1 .5 1 .1 1 0 1 .5 1-.1 1 0 1-.2 1 1 1-1.8 1 .4 1 .5 1 .7 1-.6 1 .3 1-.5 1 .5 1-.2 1 .2 1-.2 1 0 1 .1 1-.5 1 .5 1 .3 1-.4 1 .7 1-.3 1-.4 1 .6 1-.4 1 .8 1-.8 1 .1 1-.7 1 .8 1 0 1-.1 1 .7 1 0 1 .2 1-.8 1 .3 1-.9 1 .2 1 .3 1 .1 1 .1 1 .6 1 .1 M586 893.5l1-.4 1 0 1 .7 1 0 1-.3 1-.8 1 .3 1 .7 1 .5 1-1 1 .5 1 4.8 1 11.9 1 7.6 1 5.6 1 3.4 1 2.6 1 1.5 1-.1 1 .6 1 .2 1-.3 1 .2 1-.6 1-.2 1-.7 1 .3 1-.6 1 .9 1-.8 1-.1 1-.2 1-.7 1 .2 1 .1 1 .2 1-.4 1-.5 1 .2 1 0 1-.7 1 .6 1 0 1-1 1 .9 1-.6 1-.6 1 .7 1-.9 1 .1 1-.8 1 .3 1 1 1-.9 1 .1 1 .2 1-.1 1-.3 1 .2 1 .3 1 .7 1-.5 1 .7 1-1.2 1 .2 1 0 1 .2 1 .1 1-.7 1 1.2 1-.3 1-.2 1 .3 1-.5 1-.1 1 .4 1-.5 1 .4 1 .6 1-.2 1-.7 1-.5 1 .8 1 .1 1-.2 1-.4 1 .5 1-.2 1 .2 1 .2 1-.3 1 0 1 .2 1-.1 1-.3 1 .4 1 0 1 .1 1-.2 1-.1 1-.4 1 .3 1 .3 1-.2 1-.3 1 .5 1-.1 1 .2 1-.8 1 .4 1 .3 1 .1 1-.6 1 .2 1 .8 1-.5 1-.2 1 .2 1-.4 1-.5 1 .6 1 0 1 0 1 .2 1-.4 1 0 1-.6 1 1.1 1 .1 1-.9 1-.2 1 1 1 0 1-.6 1-.4 1 .9 1-1 1 .4 1 0 1 0 1 .3 1 .1 1-1 1 .5 1-2.5 1-11.7 1-7.9 1-4.5 1-3.9 1-2.1 1-1.2 1-1.1 1-.1 1-.7 1-.7 1 .1 1-.5 1 0 1 .2 1-.1 1 .3 1 0 1 .2 1-.5 1 .7 1-.1 1-.3 1 .2 1-.1 1 .2 1 1 1-.6 1 .2 1-.2 1-.4 1 .2 1 .2 1 .2 1-.1 1-.2 1 .8 1 0 1-.7 1 .6 1-.1 1-.6 1 .3 1 .6 1-.4 1-.3 1 .8 1-.7 1 .5 1-.1 1 0 1 .3 1-.2 1 .1 1-.2 1 .7 1-.7 1 .6 1-.2 1 0 1-.1 1-.1 1 .6 1 .5 1-.2 1-.4 1 .7 1-1.1 1 .9 1 .3 1 0 1-.5 1 .4 1 0 1-.6 1 .6 1-.5 1 .2 1-.8 1 .9 1 .1 1 .1 1-.5 1-.6 M586 892.3l1-.4 1-.1 1 .3 1-.1 1 .5 1-.9 1 .7 1-.2 1 .4 1 0 1-.1 1 5.1 1 14.4 1 9.8 1 6 1 3.5 1 2.8 1 2.1 1 .2 1 .6 1 .1 1-.5 1 0 1 .5 1-.4 1-.8 1-.3 1-.6 1-.3 1-.1 1-1 1 .2 1-.1 1 0 1-.8 1 .8 1-1.2 1 .8 1-.7 1 0 1 .5 1-1.3 1 .7 1 .3 1-1.1 1 .4 1-.2 1 .3 1-.3 1 .5 1-.6 1-.1 1-.1 1-.4 1 1 1-.2 1 .2 1 .1 1 .2 1-1.1 1 .6 1-.3 1-.1 1 .1 1-.4 1 0 1-.3 1 .9 1-.4 1-.3 1 .2 1-.3 1 .3 1 .1 1 .2 1-.2 1-.1 1 .3 1 1 1-.9 1 .6 1-.1 1-.6 1-.5 1 .3 1 .1 1 .3 1-.6 1-.3 1 1 1-.6 1-.1 1 .3 1-1 1 1.1 1-1.1 1 .4 1-.4 1 .3 1 .7 1 .2 1-.2 1-.2 1-1 1 1.6 1-.8 1 .5 1 .1 1 0 1-.7 1 .3 1 .3 1-.7 1 .5 1-.3 1-.5 1 .8 1-.2 1 .6 1-.8 1 .3 1-.2 1 .3 1-1.1 1 .7 1-.2 1 .4 1-.3 1 0 1 0 1 0 1-.4 1 .5 1-.2 1 0 1-.2 1 .6 1-.1 1 .1 1 .1 1-.4 1 .3 1-.2 1 .5 1-3.3 1-13.5 1-8.5 1-5.9 1-4.5 1-1.9 1-2 1-1.5 1-.1 1-1.5 1 .3 1-.4 1-.1 1 .1 1-.1 1 .7 1-.7 1 .2 1 .2 1 .7 1-.3 1 .2 1-.7 1 .6 1 .2 1-.4 1-.2 1 .8 1-.7 1 .1 1-.1 1 .4 1 0 1 .8 1-1.3 1 .6 1 .1 1 .1 1 .2 1 .4 1 0 1 0 1-.6 1 .5 1 .2 1-.5 1 .7 1-.2 1 .4 1 .3 1-.2 1-.4 1 .3 1 0 1 .3 1-.3 1 .6 1-.5 1-.3 1-.2 1 1.2 1-.4 1-.6 1-.1 1 .9 1-.1 1 0 1-.5 1 .9 1-.4 1-.9 1 1.1 1 0 1 0 1-.2 1-.2 1 .5 1 0 1-.1 1 .4 1-.7 1-.2 1-.1 1 1.1 M586 891.1l1 .1 1 0 1-.4 1 .1 1 .5 1 .1 1 .4 1-1 1 .7 1 .1 1-.1 1 5.7 1 15.7 1 11.9 1 6.2 1 5.4 1 2.4 1 1.3 1 1.3 1 0 1 .6 1-.1 1-.1 1-.4 1-.5 1 .2 1-.3 1-.5 1-.3 1 .1 1-.1 1-.1 1-1 1 0 1 .1 1-.1 1 .1 1-.7 1 .1 1-.6 1-.2 1 .1 1 .5 1-1 1 .2 1-.3 1 .2 1 .4 1-.3 1 .1 1-.9 1 .5 1 .4 1-.3 1 .3 1-1.1 1 .4 1 .3 1-.3 1-.3 1 0 1-.1 1 .3 1-.2 1 .2 1-.1 1 .2 1 .2 1 0 1 .1 1 .1 1 .2 1-.3 1-.7 1 .9 1-.5 1 .3 1-.3 1 .3 1-.2 1-.4 1 .7 1-.7 1 .3 1 .3 1-.7 1 .4 1 .4 1 .1 1 0 1 .2 1-.2 1-.3 1-.1 1-.1 1 .2 1 .4 1-.7 1 .5 1-.5 1 .6 1-.4 1 .2 1-.6 1 .4 1 .1 1-.9 1 .6 1-.1 1 .6 1-.7 1 .2 1 .1 1 .2 1-.3 1-.1 1 .1 1 .4 1 .1 1 .3 1-.6 1 .5 1-1.2 1-.2 1 .8 1 0 1 .2 1 .2 1 .2 1 .3 1-.8 1 .4 1-.2 1 0 1 .1 1 .4 1-.9 1 .3 1 .2 1-.7 1 .2 1-.1 1-.1 1-.3 1-2.8 1-15.6 1-9.7 1-6.9 1-4.7 1-2.9 1-2.2 1-1 1-1.4 1-.4 1-.1 1-1 1 .5 1-.9 1 .8 1-.1 1-.5 1-.1 1 .1 1 .7 1 .2 1-.3 1 .1 1 .1 1 .2 1 .2 1 .1 1-.3 1-.1 1-.1 1 1.5 1-.5 1 0 1-.4 1 .4 1 .1 1 0 1 0 1 .2 1 .1 1-.2 1 .6 1-.3 1-.6 1 1.4 1-.7 1 .1 1 .8 1-.4 1-.1 1-.1 1 .5 1-.6 1 .5 1 0 1-.4 1-.7 1 1.5 1-.4 1 .4 1 .2 1-.4 1 .7 1-.4 1-.4 1 .1 1-.1 1 .2 1-.7 1 .5 1-.1 1 .4 1-.2 1 .2 1-.9 1 .2 1 1.1 1-.4 1-.5 1 .5 1-.2 1 .2 1-.6 1 .5" fill="none" stroke="#dc3520" stroke-width="2.0" stroke-linejoin="round"/>
<path d="M525.6 954.6 L525.6 1001.8 L564.5 1001.8" fill="none" stroke="#666" stroke-width="1.5"/>
<text x="512" y="971.8" font-size="26.2" text-anchor="middle" transform="rotate(-90 512 971.8)">10 mV</text>
<text x="507" y="1034.4" font-size="26.7">200 ms</text>
<text x="67" y="1027.8" font-size="27.5">I</text>
<text x="74.4" y="1036.8" font-size="15.4">injected</text>
<g stroke="#333" stroke-width="1.3" fill="none">
<rect x="159.2" y="1024.4" width="131.8" height="61.6"/>
<line x1="159.2" y1="1031.2" x2="291" y2="1031.2"/>
<line x1="159.2" y1="1038.1" x2="291" y2="1038.1"/>
<line x1="159.2" y1="1044.9" x2="291" y2="1044.9"/>
<line x1="159.2" y1="1051.8" x2="291" y2="1051.8"/>
<line x1="159.2" y1="1058.6" x2="291" y2="1058.6"/>
<line x1="159.2" y1="1065.5" x2="291" y2="1065.5"/>
<line x1="159.2" y1="1072.3" x2="291" y2="1072.3"/>
<line x1="159.2" y1="1079.2" x2="291" y2="1079.2"/>
<line x1="149.1" y1="1032.5" x2="374.4" y2="1032.5" stroke="#111"/>
</g>
<text x="318" y="1018">30 pA</text>
<text x="328.2" y="1059.4" font-size="26.3">Δ20 pA</text>
<text x="307.5" y="1101.6" font-size="26.4">-150 pA</text>
<text x="930.1" y="834" font-size="38">H</text>
<text x="1087.5" y="834.1" font-size="26.7">Baseline</text>
<text x="974.3" y="899" font-size="26.7">-62 mV</text>
<text x="1492.9" y="834.3" font-size="26.6">100 nM CORT</text>
<text x="1399.8" y="898.4" font-size="26.2">-60 mV</text>
<path d="M1070.2 892.2l1-.3 1 .3 1-.8 1 1.1 1-.6 1 .3 1 .1 1-.1 1 .1 1-.3 1-.8 1-7.5 1-5.3 1-5 1-2.7 1-1.8 1-1.4 1-1.3 1-1.3 1-.5 1-.3 1-1.2 1 .3 1 0 1 0 1 .3 1-.4 1 .5 1 0 1 .3 1-.1 1 .3 1 .4 1-.5 1-.2 1 .6 1 .7 1-.4 1 .1 1-.2 1-.1 1 0 1 1.2 1-1 1-.1 1 .3 1 .3 1-.3 1 .2 1 .2 1 .2 1-.5 1 .5 1 .6 1-.7 1-.2 1 .4 1 .2 1-.2 1 .1 1 .3 1-.1 1-.2 1 .2 1-1 1 .7 1-.5 1 .5 1-.1 1 .5 1-.5 1 0 1 0 1 .2 1-.3 1-.4 1 .1 1 .5 1 .5 1-.6 1 .7 1-.6 1 .6 1-.2 1 .2 1 .5 1-.1 1-.7 1 0 1 .2 1 .3 1-.3 1-.1 1-.4 1 .1 1 0 1 .4 1-.3 1 .5 1 0 1 0 1-.3 1-.6 1 .7 1 .3 1-.6 1-.4 1 .1 1 0 1 0 1 .7 1-.6 1 .3 1-.4 1 .5 1 0 1 .3 1-.6 1 .1 1-.1 1-.2 1 .2 1 .3 1-.1 1-.1 1 .1 1 .5 1 0 1-.1 1-.3 1-.1 1 .3 1-.3 1-.1 1 .2 1 .2 1-.4 1 .2 1-.2 1 .2 1-.2 1 .6 1-.5 1 7.7 1 8.3 1 5.5 1 2.4 1 3.1 1 1 1 1.3 1 1.1 1 .5 1 .7 1-.8 1 .3 1-.2 1 .1 1-.7 1 .3 1-.9 1-.1 1-.1 1 .2 1-.7 1-.1 1 .4 1-1.1 1 .3 1-.2 1-1.3 1 .2 1 .1 1-.1 1-.6 1 .3 1-.2 1-.2 1-.1 1-.1 1 .3 1-1.1 1 .7 1 .2 1-.2 1 .1 1-.7 1 .7 1-.1 1-.7 1 .4 1-.3 1 .4 1-.4 1 .4 1-.1 1 .3 1 0 1 .3 1 0 1-.7 1 .1 1 .2 1 .1 1-.3 1-.2 1 .1 1 .2 1-.5 1 .7 1-.4 1 .1 1 0 1 .3 1 .3 1 .1 1-.5 1 .3 1 .4 1-.3 1-.5 1 .9 1-.6 1 .3 1-.4 1 .6 1-1.1 M1070.2 891.8l1-.1 1 .1 1 .6 1-.5 1-.3 1 .1 1 .8 1-.6 1-.2 1 .4 1 .2 1-2.2 1-1.1 1-1.7 1-1.3 1 .1 1-.8 1-.4 1-.5 1-.4 1 .4 1-1 1 .2 1-.4 1 .8 1-.3 1-.5 1 .4 1 .4 1-1.1 1 .2 1 .2 1-.1 1-.2 1 .1 1 .1 1 .4 1-.7 1 .6 1 0 1 .4 1-1.5 1 .8 1 .1 1 .6 1-.7 1 .3 1 .1 1 .1 1-.2 1-.6 1 1.1 1-.8 1 .5 1 .3 1-.6 1 .3 1-.7 1 .5 1-.2 1-.1 1 .3 1 0 1 .5 1-.7 1-.2 1 .5 1 0 1 .9 1-.4 1-.6 1-.3 1 1.1 1-.8 1-.6 1 .7 1-.8 1 .7 1-.3 1-.8 1 0 1-.5 1 1.4 1-.5 1 .1 1 .1 1-.5 1-.1 1 .1 1 .3 1-.1 1 .1 1 .4 1 0 1-.2 1-.2 1 .1 1 .6 1 .1 1-.1 1-.4 1 .4 1-.2 1 .5 1-.6 1 .5 1-.4 1-.1 1 .8 1-.1 1-1.2 1 .5 1 .3 1 .1 1-1 1 .8 1-.1 1-.4 1 .8 1-.4 1 .1 1-.3 1 .7 1 0 1-.2 1-.1 1 .2 1 .2 1-.2 1-.2 1 .5 1-.5 1 .1 1 .5 1-.8 1 .3 1-.1 1-.2 1-.3 1 .2 1-.3 1 .8 1-.1 1 2.7 1 2.9 1 1.2 1 1.3 1 .7 1 .1 1 .2 1 .3 1 .5 1-.1 1 .1 1-.2 1 .3 1-.2 1 0 1-.5 1 .1 1 .4 1 .6 1-.5 1 0 1 .4 1-.5 1-.2 1-.9 1 .5 1 .4 1-.8 1 0 1 0 1 0 1-.6 1 .6 1-.1 1-.5 1-.7 1 1.1 1 0 1 .1 1-.7 1 .4 1 .4 1 .1 1-.2 1 .3 1-.6 1-.1 1 .3 1 .4 1-.8 1-.1 1 .7 1-.9 1 .3 1 .3 1-.8 1 .6 1 .2 1-.3 1 .1 1 0 1 .1 1 .4 1-1.3 1 1.1 1 .2 1-.1 1 0 1 0 1 .1 1-.9 1 .9 1-.2 1-.1 1 .1 1 .3 1 .5 1-.3 1-.2 1-1 1 1.2 1-.5 1-.3 M1070.2 891.2l1 .4 1 .1 1-.2 1 .1 1 .1 1-.2 1-.1 1-.3 1 .7 1-.4 1 .7 1 1.6 1 .4 1 1.7 1 .2 1 .7 1 .7 1 .5 1 .7 1 .6 1-1.1 1 .3 1 .4 1-.1 1-.2 1 .7 1 .1 1 .2 1-.4 1 .7 1-.4 1 .2 1-.4 1-.7 1 1.3 1-.3 1 0 1-.2 1-.1 1 .1 1 .5 1-.5 1 0 1 .2 1-.2 1 .6 1-.9 1 .8 1-.7 1 0 1-.1 1 .4 1 .2 1-1 1 .3 1 .1 1-.2 1 0 1 .4 1 .2 1-.2 1-.1 1 .2 1-.1 1-.1 1 0 1-.2 1 .4 1-.2 1-.3 1 .3 1-.2 1 .2 1-.1 1 .1 1-.1 1 .1 1 .2 1-.4 1 .4 1-.8 1 .6 1 .6 1-.3 1 .2 1-.1 1-.2 1 .1 1 .4 1 0 1 .8 1-.2 1-.4 1-.6 1 .1 1-.1 1 0 1 0 1-.2 1 .1 1 .2 1-.5 1 .3 1 .3 1 .2 1-.5 1 .6 1 0 1-.6 1 .5 1 .2 1-.3 1 .5 1-.9 1 .2 1 0 1-.1 1-.3 1 .3 1-.2 1 .6 1-.2 1-.5 1 .4 1-.5 1 .4 1 .3 1-.9 1 .7 1 0 1-.3 1 .5 1-.5 1 .6 1-.4 1 .3 1-.5 1 .5 1 .1 1-.4 1 .6 1-.6 1 .9 1-2.2 1-3.3 1-.8 1-1.5 1-.8 1-.5 1-.8 1 .4 1-.2 1 .3 1-.7 1 .7 1 .2 1-.6 1 .3 1 .2 1-.1 1 .3 1 .4 1-.8 1 .4 1-.3 1 0 1-.1 1-.1 1 .6 1-.1 1-.2 1-.4 1 .6 1 .1 1 .4 1-.8 1 .2 1 0 1-.6 1 .7 1 .4 1-.2 1 .6 1-.3 1-.3 1 .4 1-.3 1 .4 1-.3 1 .3 1-.4 1 .3 1 0 1-.2 1 .2 1 .5 1-.7 1-.1 1 .5 1-.6 1 .5 1-.5 1-.2 1 .4 1-.5 1 .2 1 .4 1-1.1 1 .5 1-.3 1 .1 1 .3 1-.2 1 .3 1-.3 1 .6 1-.5 1-.7 1 1 1-.6 1 .9 1-.6 1 .5 1 .3 1-.4 1 .1 M1070.2 894.2l1-.3 1 .4 1-.6 1-.3 1 .4 1 .3 1 .1 1 .1 1-.4 1-.3 1 1 1 7.1 1 5 1 3.8 1 2.8 1 2.3 1 1.1 1 1 1 .5 1 1.3 1 0 1 0 1 .2 1-.3 1-.3 1 .1 1 0 1 1.2 1-1.8 1-.8 1 1.2 1-.9 1-.2 1 .5 1-1 1-.2 1 .4 1-.6 1 .4 1-.9 1 .2 1 .5 1 0 1-1.5 1 .4 1-.1 1 .4 1-.4 1-.3 1 .7 1-.3 1-.3 1-.8 1 .4 1-.5 1 1 1-.5 1 0 1 .2 1-.2 1-.6 1 .6 1-.3 1-.9 1 1.3 1-.3 1-.1 1 .1 1-.3 1 .6 1-.6 1-.4 1 1.1 1-.4 1-.4 1 .2 1 .1 1 .1 1-.1 1 .2 1-.7 1-.1 1 .6 1 .1 1-.2 1-.2 1 .2 1 .6 1-.1 1-.6 1 .6 1 .2 1-.2 1 .2 1-.2 1 .2 1-.7 1 0 1 .2 1 0 1-.7 1 .6 1 .1 1-.6 1 0 1 .6 1-.1 1-.7 1 .6 1-.3 1 .6 1-.7 1 .1 1-.6 1 .8 1-.5 1-.1 1 .1 1 .2 1-.2 1 .5 1-.2 1 .2 1 .9 1-.8 1 .3 1-.1 1-.1 1 .1 1-.4 1 .6 1-.1 1 .1 1-.5 1 .6 1-.8 1 .4 1-.1 1-.2 1 1 1-.2 1-.1 1-.6 1-6.4 1-6.2 1-4.2 1-3.5 1-1.1 1-1.5 1-1.3 1-.8 1 .1 1-.1 1 .7 1-.4 1-.3 1 .8 1-.5 1 .2 1 .7 1-.2 1-.2 1 .3 1 .3 1-.1 1 .3 1 .1 1 .1 1-.1 1 .4 1 .4 1-.2 1-.6 1 .2 1 .4 1 .1 1-.2 1 .4 1 0 1-.2 1-.3 1 .6 1-.1 1 .6 1-.9 1 .3 1 1.1 1-1.2 1 .7 1-.2 1-.2 1-.3 1 .4 1 .6 1 0 1-.1 1 .4 1-.2 1 .1 1 .3 1-.3 1 .4 1-.3 1-.3 1 .8 1-.6 1 .8 1-.3 1 .1 1-.3 1-.3 1-.1 1 .1 1 0 1 .4 1-.6 1 .9 1-.3 1 .3 1 0 1-.1 1 0 1-.4 1 .1 1-.4 1 .3 M1070.2 892.6l1 .2 1 .4 1-.2 1-.9 1 .6 1-.5 1 .1 1 .5 1-.5 1 .9 1-.2 1 12.6 1 8.4 1 6.6 1 4.6 1 2.9 1 3.3 1 .7 1 1.6 1 .8 1-.5 1 .6 1-.5 1-.4 1 .1 1-.2 1-.4 1-.7 1-.5 1-.4 1 0 1-.4 1-.7 1-.3 1-.4 1 0 1 0 1-.7 1-.3 1-.1 1-.4 1-.3 1 .3 1 0 1-.7 1-.1 1-.3 1 .1 1-.5 1 .2 1 .4 1-.9 1 .1 1 0 1-.2 1 .3 1-.3 1 .3 1-.4 1-.3 1 0 1-.3 1 .5 1-.4 1 .4 1-.5 1 .2 1 .2 1-.6 1 .5 1-.1 1-.3 1 .4 1 .2 1 .1 1 0 1 .1 1 .3 1-.4 1-.1 1-.1 1 .2 1-.2 1-.1 1 .1 1 .5 1-.4 1 .2 1-.2 1-.2 1 .4 1-.2 1 .2 1-1.1 1 .1 1 .1 1-.9 1 .7 1-.6 1 .2 1-.1 1 .6 1-.2 1-.3 1-.1 1 .9 1 .1 1-.3 1 .7 1-.4 1-.1 1 .4 1-.7 1-.1 1 .7 1-.2 1-.2 1 .4 1-.4 1-.5 1 .5 1-.4 1 .2 1-.1 1 .6 1-.3 1 .5 1-.4 1-.5 1 .6 1 .2 1-.4 1-.2 1 .4 1 0 1-.3 1 1.1 1-1.2 1 .7 1-.2 1 0 1 0 1 .1 1-10.3 1-9.8 1-5.6 1-5.2 1-2.7 1-2.6 1-1.3 1-.8 1-.5 1-.6 1 .2 1 .2 1 .1 1-.2 1 .7 1-.2 1 .3 1-.6 1 .9 1 .2 1 .2 1 .6 1-.5 1 1.1 1 .2 1 .5 1-.3 1 .3 1 0 1 .5 1 .3 1-.1 1 .2 1 0 1 .6 1-.7 1 .6 1-.6 1 .4 1-.3 1 .7 1-.6 1 1 1-.5 1 .3 1-.3 1 .4 1-.7 1 .6 1-.2 1 .7 1-1.1 1-.4 1 1.6 1-.4 1-.2 1 .3 1 0 1-.3 1-.2 1 .8 1-.3 1-.3 1 .2 1 .3 1-.4 1 0 1 .5 1-.6 1 .6 1-.3 1-.5 1 .5 1 0 1-.8 1 .4 1-.1 1 .8 1-.7 1 .6 1 0 1-.1 1 0 M1070.2 892.6l1-1.2 1 1.1 1 .2 1-.9 1 .3 1 .3 1-.7 1 .6 1 .3 1-.4 1 2.6 1 15.9 1 12 1 9.3 1 5.7 1 5.5 1 3.1 1 1.8 1 2.2 1 .6 1 0 1 .1 1 .1 1-1.1 1-.3 1 .1 1-.8 1-.3 1-.9 1-.2 1-1.5 1 .2 1-.6 1-.4 1-.3 1-1.1 1-.3 1 .2 1-.5 1-.5 1-1.2 1 .8 1-.7 1-.1 1-.9 1 .5 1-1 1 .8 1-.4 1-.1 1-.4 1 0 1-.3 1-.3 1 .4 1-.4 1-.6 1 .5 1-.8 1-.1 1-.5 1 .1 1 .6 1 .4 1-.7 1 .1 1-.2 1 .4 1 .5 1-.6 1-.1 1 .3 1 .1 1-.3 1-.1 1-.3 1 .3 1-.6 1 .9 1 .1 1-1.3 1 0 1 .3 1 .1 1 .3 1-.5 1 .4 1-.8 1 .3 1 0 1-.4 1 0 1 .3 1-.1 1 .2 1-1 1 1.2 1 .1 1 .2 1-.7 1-.2 1 .6 1-.1 1 .2 1-.9 1 .7 1 .2 1-.5 1-.1 1 1 1-.5 1-.7 1 .7 1-.5 1-.3 1 0 1 .1 1 .3 1-.1 1 .3 1-.3 1 .5 1-.4 1 .4 1-.3 1 .9 1-.3 1-.5 1 .1 1-.2 1 .1 1 0 1 .2 1-.8 1 .5 1 .3 1-.7 1-.1 1 .7 1-.4 1 .9 1-.2 1-.2 1-13.3 1-13.7 1-9.3 1-6.3 1-4.6 1-2.8 1-1.6 1-1.5 1-.8 1-.2 1 .6 1-.1 1-.2 1-.1 1 1 1-.7 1 1.1 1 .2 1 1.1 1-.1 1-.2 1 .7 1 .1 1 .7 1-.1 1 .7 1 .2 1-.3 1 1 1-1.1 1 .5 1 .9 1 .1 1 .7 1-.5 1 0 1 .5 1-.2 1 .4 1-.1 1 0 1 .7 1-.1 1-.3 1 .7 1-.9 1 .7 1 0 1-.2 1-.2 1 0 1 .5 1 .5 1-.5 1-.6 1 .4 1-.4 1 1 1-.2 1 0 1-.8 1-.1 1 .1 1 .4 1-.1 1 0 1 .5 1-.5 1 .9 1-.1 1-.6 1 .3 1 .8 1-.6 1-.5 1 .6 1-.1 1 .5 1-.5 1 .5 1-.2 1-.2 1 .6 M1070.2 890.7l1 .4 1 .5 1-.4 1-.1 1 .3 1-.3 1 .6 1-.9 1 .5 1 .1 1 2 1 20.6 1 15 1 11 1 8.7 1 4.6 1 4.2 1 3.1 1 1.5 1 1.5 1 .4 1-.2 1 .3 1-.4 1-.5 1-1.1 1-.5 1-.4 1-.6 1-.8 1-.7 1-.4 1-.3 1-.6 1-.9 1-.5 1 0 1-.5 1-.2 1 0 1-.7 1-.1 1-.7 1 .5 1-1.1 1-.3 1 .6 1-.6 1-.4 1-.6 1-.1 1-.8 1 0 1-.7 1 .8 1-.1 1-.4 1 .3 1-.6 1 .1 1 .2 1 .2 1-.2 1-.4 1 .3 1 .5 1-1.2 1 1 1-1.2 1 .3 1 .6 1-.5 1 0 1 .5 1 0 1-.6 1 .2 1 .3 1-.7 1 0 1-.2 1 0 1-.3 1-.4 1 .3 1-.5 1 .1 1-.2 1 .2 1 .1 1-.4 1 .2 1 .4 1-.5 1 .3 1-.2 1 .8 1-.2 1 0 1 0 1 .1 1 .8 1-.5 1 .3 1-.1 1-.2 1-.1 1 .5 1 .2 1-.4 1-.7 1 .3 1-.1 1 .2 1-.4 1-.2 1 .4 1-.5 1 .5 1-.4 1 .2 1 .1 1 .5 1-.7 1-.5 1 0 1-.1 1 .4 1-.4 1 .4 1-.2 1 0 1 .8 1-.4 1 .2 1-.4 1 .4 1 .2 1-.3 1-.3 1 .7 1-.2 1-.5 1-17 1-17.1 1-11.6 1-8.2 1-5.9 1-3.3 1-2.1 1-1.4 1-1.5 1-.2 1 .4 1 .3 1-.3 1 .4 1 .4 1 .6 1-.3 1 1.2 1 .3 1 0 1 .9 1-.2 1 .3 1 .4 1 .9 1 .1 1-.1 1 1.3 1 0 1-.3 1 .6 1 0 1 .6 1 .4 1 .2 1 0 1 .2 1-.6 1 .3 1 .3 1 .2 1-.3 1 .8 1-.8 1-.1 1-.3 1 .9 1 .4 1-.1 1 .2 1 .2 1-.1 1 .1 1 .3 1 0 1-.3 1-.5 1 .1 1 .2 1 0 1-.5 1 .4 1 .5 1 .1 1-.5 1 .2 1 .5 1-.3 1 0 1 .3 1 .4 1-.5 1 .4 1-.2 1-.1 1 .4 1-.2 1 .2 1-.2 1 .2 1-.5 1 .5 1-1.1 M1070.2 892.1l1-.1 1 .3 1-.1 1-.4 1 .1 1-.5 1 .6 1 .2 1 .2 1-.4 1 2.8 1 24.9 1 18.3 1 12.8 1 10.1 1 7.1 1 4.4 1 3.6 1 2.2 1 .9 1 .8 1 .1 1-.2 1-.1 1-.2 1-.8 1-.8 1-1.3 1 .1 1-.6 1-.9 1-.6 1-.5 1-.8 1-1.3 1-1 1 .5 1-1 1-.3 1-.9 1 .1 1-1 1 .1 1-.8 1-.1 1-.2 1 .1 1-.2 1-.4 1-.4 1-.2 1-.4 1-.1 1 0 1-.2 1 .4 1-.4 1-.2 1-.2 1 .2 1-.3 1 .5 1-1.2 1 .5 1-.1 1 .1 1 .4 1-.2 1-.1 1 0 1 .2 1-1 1 .3 1-.1 1-.3 1 .3 1-.6 1 0 1-.2 1 .4 1-.1 1-.2 1 .4 1-.6 1 0 1 .8 1-.2 1-.1 1 .5 1-.5 1-.2 1-.4 1 0 1 .4 1 .2 1 .1 1-.2 1-.1 1-.1 1 .4 1-.1 1-.1 1 .1 1 .3 1 0 1 0 1-.2 1-.3 1 .6 1-.7 1 .5 1 .2 1 .3 1 .2 1-.9 1 .5 1-.6 1 0 1 .5 1 0 1-.3 1-.2 1 0 1 .1 1-.3 1 .1 1-.2 1-.1 1 0 1 .4 1-.6 1 .2 1 0 1 .1 1 .3 1-.1 1 .3 1-.1 1 .1 1-.1 1-.4 1 1.1 1-.8 1-20 1-21.6 1-14.5 1-10.6 1-6.4 1-4.2 1-3.1 1-2 1-.9 1 0 1-1.1 1-.2 1 .6 1 .6 1 .4 1-.1 1 1.1 1 .7 1 .6 1-.3 1 .6 1 .4 1 .9 1 .6 1 .2 1 .6 1 0 1 .7 1 .3 1 .2 1-.1 1 .3 1 .6 1 .1 1 .2 1 .1 1 .3 1 .7 1-.8 1-.2 1 .2 1 .5 1 .2 1-.2 1 .5 1 .2 1 .7 1-.3 1 .3 1 .4 1-.2 1 .5 1-.3 1 .1 1 .6 1-.2 1-.5 1 .4 1 .2 1 0 1-.2 1-.1 1 .2 1 .2 1-.4 1 .2 1-.3 1 0 1 .2 1 .2 1 0 1 .3 1 0 1-.3 1 .1 1 .5 1 .1 1-.4 1 .4 1-.4 1-.1 1-.1 1-.4 M1070.2 892l1 .4 1-.7 1 .2 1 .4 1 .2 1 .3 1-.2 1-.2 1 .1 1-.1 1 3.3 1 27.9 1 20.7 1 15.4 1 10.9 1 7.8 1 5.9 1 3.8 1 2.2 1 1.7 1 .9 1 .5 1-.6 1-.1 1 .3 1-1.4 1-.9 1-.2 1-1 1-.5 1-1 1-.9 1-.5 1-1.1 1-.8 1-1 1 .2 1-1.2 1-.3 1-.1 1-.9 1-.8 1 0 1-.2 1-1.3 1-.5 1-.7 1 .3 1-.4 1 .4 1-.9 1 .3 1 .1 1-.6 1 .6 1-1.2 1 .5 1-.8 1 .6 1 .1 1-.6 1 .1 1 0 1-.6 1 .4 1-.2 1 0 1 .2 1-.8 1 .2 1-.2 1-.1 1 0 1 .3 1-.5 1 .3 1-.7 1 .4 1-.7 1-.3 1-.1 1 .7 1-.4 1 .4 1-.8 1-.1 1 .7 1 .1 1 .1 1-.6 1 .5 1-.4 1 1 1-.2 1-.3 1 .2 1-.4 1 .1 1 .3 1 .1 1 .4 1-1 1 .2 1 .5 1-.2 1-.3 1 .4 1-.5 1-.5 1 1.1 1-.4 1-.3 1-.1 1 .2 1 .5 1-.2 1 .3 1-.6 1 .5 1-.5 1 .8 1-.7 1-.4 1 .8 1-.1 1 .2 1-.5 1 .7 1-.6 1-.2 1 .2 1 .3 1-.6 1 .2 1-.4 1-.3 1 .1 1 .5 1-.1 1 .5 1-.2 1 0 1-.4 1-23.4 1-24 1-17.6 1-11.4 1-7.6 1-5.5 1-2.7 1-2.5 1-.8 1-.6 1-1 1 .6 1-.5 1 .6 1 .8 1 .5 1 .2 1 1.2 1 1.1 1 0 1 .5 1 1.1 1-.1 1 .5 1 1 1-.1 1 .7 1 1.2 1-.3 1 .8 1-.2 1 .5 1 .8 1-.1 1 .6 1 .1 1 .4 1 0 1 .7 1-.3 1 .2 1 0 1 .3 1 0 1-.6 1 .9 1 .6 1 .3 1 0 1 .3 1-.9 1 .3 1 0 1 .2 1-.1 1-.1 1-.1 1 .7 1-.3 1 .1 1-.4 1 .4 1-.2 1 .4 1-.4 1 .5 1-.3 1 .2 1 .5 1 0 1 .3 1-.8 1 1.4 1 0 1-.5 1-.3 1 .1 1 .4 1-.4 1-.1 1 .1 1 .7 1-.6 M1070.2 890.7l1 .7 1 .2 1-.5 1 0 1-.1 1 .1 1-.1 1 .9 1-.4 1 .4 1 3.8 1 33.3 1 23.9 1 17.5 1 13.5 1 8.6 1 6.1 1 4.9 1 2.2 1 1.4 1 1.6 1-.3 1-.5 1-.7 1-1 1-.2 1-1.2 1-1 1-1 1-1.5 1-.6 1-1.3 1-1 1-1.6 1-.3 1-1.1 1-.9 1-.6 1-.9 1-.5 1-.8 1-.3 1-.2 1 .1 1-1.4 1-.7 1 .4 1 0 1-.8 1-.9 1 0 1-.3 1-.5 1 .6 1-.6 1-.7 1 .3 1-.6 1 .6 1-.7 1 .2 1-.6 1 0 1-.4 1 .2 1-.1 1-.2 1-.1 1-.1 1-.3 1-.3 1 .4 1 0 1-.1 1-.3 1 .3 1-.2 1-.6 1 .8 1-.2 1-.2 1 .5 1 0 1 .3 1-.3 1-.1 1 .3 1-.3 1-.5 1 .4 1 .5 1-.3 1-.2 1-.4 1 0 1 .1 1-.2 1 .1 1 .2 1 .1 1-.1 1 .1 1-.7 1-.3 1 .3 1-.1 1 .3 1 .3 1 .4 1-.9 1 .1 1-.3 1 .3 1 .4 1-.3 1 .1 1-.4 1 0 1 .1 1 .1 1-.2 1 .2 1-.5 1 .4 1-.2 1 .3 1-.1 1 .1 1-.3 1-.2 1 .8 1-.1 1-.1 1-.1 1 .2 1 0 1-.4 1 .2 1 .4 1 .2 1 0 1-.3 1 .2 1-27 1-27.6 1-18.8 1-13 1-8.6 1-5.8 1-4.3 1-2.2 1-.9 1-1.4 1 .2 1 .4 1 .1 1 .5 1-.2 1 1.4 1 .7 1 .8 1 .7 1 .8 1 1.3 1 .4 1 .3 1 .8 1-.1 1 .4 1 .2 1 .9 1 .4 1 .8 1-.4 1-.2 1 1.5 1 .1 1 .4 1-.1 1 1 1 .4 1 .2 1 .9 1-.3 1 0 1 .8 1-.5 1 .8 1 .1 1-.4 1-.5 1-.2 1 1.1 1 0 1-.1 1-.3 1 0 1-.1 1-.5 1 .9 1 0 1-.1 1-.1 1 .5 1-.3 1 0 1 .2 1 .5 1-.3 1 .5 1 .1 1 .5 1-.3 1-.3 1 .5 1-.4 1 0 1 0 1-.3 1 .3 1 .1 1-.4 1-.3 1 .9 1-.6 1 .3" fill="none" stroke="#111" stroke-width="1.5" stroke-linejoin="round"/>
<path d="M1494.1 892.1l1-.5 1 .9 1-.7 1 .6 1-1.1 1 .7 1 .1 1 .3 1-.8 1 .6 1-.4 1-8.9 1-5.3 1-3.3 1-3.7 1-1 1-1.9 1-.9 1 0 1-.8 1 .5 1-.2 1-.6 1 1.2 1-.1 1 .3 1 .1 1-.5 1 .7 1 .8 1-.7 1 0 1 .9 1 .3 1 .6 1-.2 1-.1 1 .5 1 .1 1-.1 1 .6 1-.5 1 .4 1-.7 1 .5 1 .5 1 .5 1-.2 1-.2 1 .4 1-.5 1 .9 1-1 1 .5 1 .4 1-.9 1 .4 1 .3 1 1 1-1.2 1 .9 1-.8 1 .9 1-.5 1-.4 1 .5 1 .1 1-.2 1-.2 1 1.2 1-.4 1-.9 1 .3 1 .7 1-.9 1 .8 1-.1 1-.6 1-.2 1 0 1 .3 1 .3 1-.7 1 1.3 1-.8 1 .6 1-.2 1 .9 1-1.2 1 .5 1-.2 1 0 1 .7 1 0 1-.5 1 .5 1-.8 1 1.1 1-.9 1 .2 1 1.3 1-1.2 1 .2 1 .6 1-.4 1 0 1-.2 1 .1 1 .4 1-.5 1-.5 1 .3 1 .5 1-1.5 1 1 1-.2 1 0 1-.1 1-.2 1-.7 1-.4 1 .9 1-.7 1 .3 1 .3 1 .1 1-.3 1 1.4 1-.4 1-1 1 .3 1-.3 1 .8 1 .3 1-.7 1 1.8 1-.9 1 0 1-.2 1-.2 1-.1 1 .1 1 .7 1-.1 1 5.2 1 5.1 1 4.8 1 4.2 1 1.3 1 1.3 1 1.3 1 .9 1 .7 1 .6 1-.9 1 .7 1-.7 1 .5 1-.4 1-.4 1 .2 1-.1 1-.3 1-.3 1 .6 1-1.6 1 1 1-.6 1 .1 1-.9 1 0 1 .7 1 .4 1-1.2 1-.5 1 .2 1-.7 1 1.1 1-.7 1 .1 1-.9 1 0 1-.2 1 .5 1-1 1 1.1 1-.3 1-1.2 1 .2 1 .9 1-.5 1-.1 1-.4 1 .4 1-.4 1 .7 1-.4 1 .4 1-1.1 1-.2 1 1.3 1-.3 1 0 1-1 1 1.1 1-.5 1-.2 1 0 1 .1 1 0 1 .1 1-.5 1 .8 1-.8 1 .1 1-.3 1 1.5 1-.6 1-1.2 1 1.3 1-.6 1-.3 1-.5 1 1.8 1 0 1-.9 1 .9 1-.9 M1494.1 891.4l1 .2 1-.3 1 0 1 .3 1 .3 1 0 1-.7 1 .4 1 0 1 .4 1-.3 1-1.1 1-.5 1-.8 1-1.1 1 .5 1-.8 1-.2 1-.1 1-.8 1 .8 1-1 1 .9 1-.3 1-.3 1 .7 1-.8 1-.4 1 .5 1-.4 1 .4 1 .2 1 .5 1-.7 1 .1 1 .1 1 0 1-.6 1 .4 1-.9 1 .3 1-.3 1 .4 1 .2 1-.2 1 .5 1-1 1 .6 1 .7 1-.4 1-.1 1-.7 1 1.1 1-.7 1 .9 1-.7 1 .3 1 .8 1-1.3 1 .2 1 0 1-.8 1 1 1 0 1-.2 1-.3 1 .3 1-.4 1 .1 1-.2 1 .8 1-.3 1 .6 1-.9 1 .3 1-.3 1 .5 1 .4 1-.1 1 .5 1-.5 1-1 1 .7 1 .3 1-.1 1-.3 1 .1 1 .1 1-.8 1 .5 1 .6 1 .3 1-.9 1 .2 1 .5 1-.1 1-.4 1-.3 1 .7 1 .1 1-1 1-.1 1 .8 1-.2 1-.4 1 .4 1 .1 1 .4 1-.1 1 .1 1-.1 1-.4 1 .1 1-.2 1 .4 1-.5 1-.3 1 1.1 1-.3 1 .7 1-.9 1-.4 1-.1 1 1.3 1-.3 1-1 1 .5 1 .2 1 .3 1-.7 1-.7 1 1.4 1-1 1 .7 1-.7 1 .6 1 .1 1-1 1 .4 1 .6 1-.3 1 .5 1-.5 1-.4 1 1.5 1 2.3 1 1.2 1 .5 1 .7 1 .2 1-.8 1 .4 1 .5 1 .2 1 .1 1-.3 1 0 1 .1 1-.1 1-.1 1 .2 1-.3 1 .2 1 .2 1-.6 1 1 1-1.2 1 .5 1-.9 1 .2 1-.5 1 .1 1 .9 1-.9 1 .2 1-.5 1 .9 1 .7 1-1.7 1-.3 1 .3 1 1 1-.5 1-.9 1 .2 1 .9 1-.2 1 .7 1-.4 1-.2 1-.1 1-.1 1-.4 1 .3 1 .6 1-.6 1 .1 1 .6 1 .3 1-.7 1 0 1 .1 1-.1 1 0 1-.2 1 1 1-.3 1-.5 1 .4 1-.2 1-.8 1 .8 1-.3 1 .3 1 .6 1-.1 1-.2 1-.3 1 .3 1-1.1 1 1.2 1-.3 1-.6 1-.4 1 .6 1 .1 1-.5 1 0 M1494.1 890.1l1 .3 1 .2 1-1.1 1 .1 1 .1 1 .7 1 0 1-.4 1 0 1-.6 1-.1 1 2.7 1 1.7 1 .8 1-.2 1 1.5 1 .4 1 .1 1 1.3 1 .4 1-.2 1-.2 1-.2 1 .6 1-.8 1 .9 1 .1 1 .1 1 .6 1-.7 1 .4 1-.3 1-.2 1 .4 1-.4 1 .2 1-.5 1 .6 1 .4 1 .1 1-.4 1 0 1 .1 1-1.1 1 .5 1-.3 1 .2 1 .1 1 .4 1-.7 1-.2 1-.8 1 1.4 1-.8 1 .8 1-.4 1-.4 1-.5 1 .4 1 .3 1 .1 1 .3 1-.5 1 .5 1 .1 1 .6 1-.2 1-.2 1-.2 1-.5 1 .8 1-1.1 1 .4 1 .1 1 .6 1 0 1-.1 1 .2 1-.7 1 .2 1-.3 1 .8 1-.6 1 .5 1 1.1 1-.2 1-1 1-.4 1 .3 1-.5 1 0 1 1.2 1-1.4 1 .5 1-.2 1 .7 1-.6 1-.5 1 .8 1-.4 1-.4 1 .1 1-.4 1 .7 1 .2 1-.2 1-.3 1 .2 1 .1 1 .5 1 0 1-.3 1-.4 1 0 1 .6 1-.9 1 .8 1-.2 1-1.6 1 .9 1 .7 1-.9 1 .7 1 .2 1-.1 1-.2 1 .1 1 .2 1-.1 1-.1 1 .3 1 0 1-.7 1 1 1-1.2 1 .8 1-.6 1 .5 1 0 1 .1 1-.2 1 .3 1 .5 1-1.3 1-2.9 1-.5 1-1.9 1-1.9 1-.7 1-.8 1-.2 1-.5 1 .8 1-.3 1-.2 1-.6 1 .9 1 .3 1-.8 1-.2 1 .2 1-.3 1 .5 1 .1 1 .4 1-.1 1 .4 1-.7 1-.4 1 1.8 1 .2 1-.7 1 0 1 1.1 1-.4 1-.9 1-.4 1 .8 1 .1 1 .3 1 .1 1 .9 1-1.1 1-.4 1 .2 1 .1 1 .1 1 .2 1 .4 1-.4 1 .2 1-.2 1-1.2 1 .9 1 .2 1 .1 1-.8 1 1.1 1-1.3 1 .2 1 .4 1 1 1-.6 1 0 1 .6 1-1.1 1 .6 1 .2 1-.1 1-.5 1 .6 1 .4 1 .4 1-.5 1-.8 1 .7 1-.1 1 .4 1-.7 1 .7 1-.2 1-.1 1-1.4 1 1.2 1 .6 1-.4 1 .4 1-.8 M1494.1 892.1l1 .8 1-.5 1 .4 1 .1 1-1 1 1 1-.8 1-.2 1 1.2 1-1.3 1 .8 1 7.3 1 6.1 1 3.5 1 2.1 1 2.7 1 .4 1 .6 1 1.8 1 .4 1 .4 1-.7 1 .8 1-.2 1-1 1 .6 1-.4 1 .2 1-.9 1-.1 1 .2 1-1.2 1 .2 1-.3 1 .1 1 .7 1-.6 1-.1 1-.1 1 0 1 .4 1-.5 1 .4 1-.5 1-.1 1-.1 1-.3 1 .2 1-1.4 1 1.1 1-.1 1-.2 1 .9 1 .1 1-.1 1-.9 1 .4 1-1.2 1 .5 1-.1 1-.1 1 0 1 .4 1-1.4 1 .9 1-.3 1 .2 1 .7 1-.1 1-.4 1 1.3 1-1 1 0 1 .4 1-.6 1 .1 1 .6 1-1.2 1 .2 1-.7 1 2 1-1.3 1 .3 1-1.2 1 1.6 1-1.5 1 .2 1 1.1 1-.8 1-.4 1 .6 1-.4 1-.1 1-.2 1-.1 1 0 1 0 1 .1 1 .5 1 .1 1-.2 1 .1 1 0 1 .3 1-.1 1 .7 1-.9 1 1.1 1-.9 1 .1 1 .3 1-.8 1 .4 1 .2 1-.2 1-.1 1-.7 1 1.6 1-.8 1-1.1 1 2 1-.4 1-.2 1-.1 1 0 1 .3 1 .8 1-.8 1 .3 1-.4 1-.9 1 .5 1 .1 1 .2 1-.1 1-.2 1-.7 1 0 1 .2 1-.4 1 .5 1 .9 1-.5 1-.4 1-5.6 1-6.1 1-4.6 1-3.3 1-1.9 1-1.7 1-1.1 1-1.2 1-.1 1-.1 1-.8 1 .3 1 .4 1 1.1 1-.3 1 .2 1 .5 1-.4 1 1.2 1-1 1 0 1 .7 1-.2 1-.1 1 .6 1-1.1 1 1.3 1-.4 1 .4 1-.3 1 .3 1 .7 1-.8 1 1.3 1-.4 1 1.2 1-1.6 1 1.2 1-.5 1 .8 1-1 1-.2 1 .7 1 .3 1-.1 1 .2 1-.2 1-.2 1-.3 1 1 1 .2 1-.5 1 1.1 1-.5 1 .3 1-.4 1 .7 1 .5 1-.6 1-.2 1-.8 1 1 1-.3 1 0 1 .2 1 .4 1-.4 1 .8 1-.5 1-.7 1 .5 1 .4 1-.3 1 .2 1 .9 1 .5 1-.6 1-1.3 1 1 1-.4 1-.3 1 .3 1-.3 1 .2 M1494.1 891.5l1 0 1 .4 1-.5 1-.2 1 .1 1 .2 1 0 1 0 1 .7 1 .3 1 1.1 1 10.1 1 8 1 5.8 1 4.1 1 2.6 1 2.1 1 2.2 1 1.5 1 0 1 .9 1-.3 1-.2 1-.4 1 .7 1-1 1 .3 1-.3 1-.9 1 .5 1-.8 1 .6 1-.4 1-1 1-.2 1-.1 1 .1 1-.6 1 .8 1-1.6 1 .3 1 .6 1-2.1 1 .6 1 .4 1-1 1 1.3 1-1.6 1 .8 1-.2 1-.5 1 1.3 1-1.7 1 1.4 1-.5 1 .2 1-.7 1-.6 1 0 1 .9 1-1.6 1 1 1 .2 1-.2 1-.5 1 1 1-.1 1 .1 1 0 1-1.3 1 .3 1-.1 1 0 1 .3 1-.2 1 1.3 1-.4 1-.6 1-.1 1 1 1-1.3 1 .9 1-1 1 .8 1 .8 1-.2 1-.8 1-.1 1 .2 1-.9 1-.3 1 1.1 1-.6 1 .1 1 .9 1-1.6 1 .6 1-.1 1 .4 1-.5 1 1 1-1.1 1 .9 1 .3 1-.3 1-.1 1 .4 1-.6 1 .7 1-.8 1 .5 1-.8 1-.2 1 .3 1 .5 1 .1 1-.9 1 .6 1-.5 1 .3 1-.3 1 0 1 .3 1-.4 1 .6 1-.1 1 .8 1-.6 1 .2 1 0 1 0 1 .5 1-.4 1 .2 1 .5 1-.2 1 .2 1 0 1-.3 1-.4 1 .7 1 .7 1-.5 1-.6 1-9.1 1-9.2 1-7.6 1-5.5 1-3.3 1-2.4 1-1 1-1.8 1-.3 1-.4 1-.4 1-.3 1 .2 1 .4 1 0 1 .3 1 .3 1-.3 1 .3 1-.1 1 .9 1 .8 1-1 1 1 1-.2 1 .5 1-.1 1 .6 1-.2 1 .1 1 .2 1 1.1 1 0 1-.4 1-.1 1 .2 1 0 1 1.6 1-.3 1 .8 1 .7 1-1.1 1-.3 1 .6 1-.4 1 .4 1 1.2 1-.3 1 .3 1-1.4 1 .6 1-.2 1 .1 1 .2 1 0 1-.1 1 .7 1-.1 1-.2 1 .1 1-.7 1 .8 1-.7 1 .4 1 .4 1 .5 1-.3 1-.9 1 .6 1 .5 1 .2 1-.5 1-.6 1 1.3 1-.2 1-.7 1-.4 1 .2 1 0 1 1 1-.7 1-.3 1-.3 1 .6 M1494.1 890.5l1 .6 1 0 1 0 1 .1 1-.2 1 .2 1 .2 1 .5 1-.9 1-.4 1 1.5 1 16.2 1 10.9 1 9 1 4.6 1 4.7 1 2.7 1 2.6 1 1.2 1 .4 1 .3 1 .7 1-.1 1-.6 1-.4 1-.4 1-1 1 0 1-.9 1 .4 1-1.1 1-.5 1-.1 1-.4 1-.6 1-.6 1 0 1-.4 1 0 1-.1 1-.8 1 .2 1-1.4 1 .8 1-.1 1-.9 1 1 1-.3 1 .5 1-.5 1-.5 1-1.1 1 .4 1 .9 1 .2 1-.7 1-.7 1 .5 1-.5 1-.5 1 .7 1-1 1 .1 1-.1 1 .8 1-.3 1-.1 1 .1 1 .3 1-.9 1 .7 1-.8 1 .8 1-.9 1 .3 1 .9 1-.5 1-.2 1-.4 1 1 1-1.2 1-.1 1-.2 1 .1 1 .2 1-.2 1 1 1-.3 1-.3 1-.1 1 .8 1-.7 1 .7 1-.8 1 .4 1 .5 1-.6 1 .5 1-.5 1 .5 1 .2 1 .6 1-.7 1 0 1-.1 1 0 1-.1 1 .1 1 .3 1-1.2 1 1 1-.2 1-.4 1-.5 1 .2 1-.1 1 .6 1-.6 1-.5 1-.1 1 .4 1 .6 1 .6 1-1.1 1 .5 1 0 1-1.2 1 1.3 1-.5 1 .4 1 .2 1-1.1 1 1.3 1-1.1 1 .6 1-.5 1 .5 1-.2 1 .2 1 .4 1 .2 1 0 1 .3 1-1.1 1-11.1 1-13.3 1-10.3 1-6.1 1-5.1 1-3.8 1-1.1 1-2 1-.4 1-.8 1-.3 1-.3 1 .7 1-.2 1 .6 1-.2 1 .4 1 .4 1 .8 1 .4 1-.1 1 .8 1-.7 1 .9 1-.6 1 1.5 1 .2 1 0 1-.5 1 1.1 1 .3 1 .2 1-.3 1 .5 1 .3 1 .4 1 .7 1-.2 1 .2 1-.4 1 1.1 1 .1 1-.6 1 .1 1-.3 1 .9 1-.8 1 .5 1 .5 1-.6 1 .8 1 .1 1-.1 1 .1 1 .7 1-.2 1 0 1 .4 1 .8 1-.4 1 .2 1-.7 1 .8 1-1.3 1 1.3 1 .1 1-.1 1-.6 1 .1 1-.3 1 .8 1 0 1-.4 1 .6 1-.8 1 .1 1 .5 1 0 1 .1 1 .6 1-1.3 1 .2 1-.2 1 .4 M1494.1 891.6l1 .8 1-.3 1-.2 1 .3 1-1.2 1 1.1 1 .3 1-.1 1-1.2 1 .5 1 2.7 1 18.9 1 13.5 1 11.2 1 6.8 1 5.4 1 3.7 1 3.4 1 .4 1 2.4 1 0 1 0 1-.1 1 0 1-.6 1-.6 1 .2 1-.4 1-1.3 1-.4 1 .6 1-1.6 1-.2 1-1.4 1-.2 1-.6 1 0 1 0 1 .1 1-1 1-.1 1 .6 1-.8 1-.5 1-.4 1-.3 1-.5 1 1.1 1-.9 1-.8 1-.1 1 .1 1-.8 1 .4 1-.8 1-.2 1-.1 1-.5 1 .7 1-.3 1 .5 1 .1 1 .6 1-.7 1-.5 1 .3 1-.8 1 .5 1-.2 1-.5 1 .7 1-.8 1-.1 1 .1 1 0 1 .5 1-.6 1 .3 1 .7 1-.8 1 .4 1 .2 1-.1 1 0 1 .4 1-.2 1-.6 1 1 1-.2 1-.8 1 .2 1-.6 1 .4 1 .7 1-1.3 1 .2 1-.1 1 0 1 .6 1 .5 1 .3 1-.4 1 0 1-.2 1 .1 1 .5 1-1.1 1 .4 1-.1 1-1.1 1 .7 1-.1 1 .7 1-1.1 1 .7 1-1.1 1 .7 1 .3 1-.7 1 .9 1-.1 1 .1 1 0 1 .6 1-.9 1 .4 1 .1 1-.4 1 .5 1 .2 1-.4 1 .6 1 0 1 .7 1-.5 1-.2 1 .7 1-.9 1 .1 1 .1 1-.2 1-.3 1 .1 1 0 1-15.1 1-17.5 1-13.5 1-8.1 1-4.6 1-4.3 1-2.9 1-2.4 1-.7 1-.3 1-.2 1-.6 1 .9 1-.1 1 .4 1 .8 1-.6 1 .3 1 1.3 1 .1 1-.5 1 1.4 1-.6 1 1.9 1-.4 1 1.1 1 .7 1 0 1-.2 1 1.2 1-1.2 1 1.3 1-.6 1 0 1 1.2 1-.3 1 1.3 1-.5 1 .4 1-.4 1 1.1 1 .1 1-.8 1 .9 1 .5 1 0 1-.9 1 1.4 1 .1 1-.1 1 .2 1 .3 1 .1 1 .2 1-.3 1 .4 1-1 1 1.2 1 .4 1-.2 1-.2 1-.3 1 .4 1-.7 1-.1 1 .7 1 .2 1 .2 1-.2 1-.5 1 .8 1 0 1-.2 1 .5 1-1.2 1 .7 1 .1 1 1 1-.5 1 0 1 .2 1-.1 1 0 1-.3 M1494.1 893l1-.5 1 1.4 1-2 1 1.1 1-.5 1 .1 1 .6 1-1.3 1 .6 1 .6 1 3.6 1 21.9 1 17 1 11 1 9.3 1 7.3 1 3.7 1 3.2 1 2.3 1 0 1 .8 1 .6 1-1 1 .1 1-.1 1-.8 1-.4 1-.7 1 .1 1-.5 1-1.6 1-.9 1 0 1-.7 1-.7 1-1 1 .2 1-.3 1-1.6 1 .7 1-.7 1-.8 1-.9 1 .3 1-.2 1-.4 1-.6 1-.2 1 .4 1-.5 1-.1 1 .1 1-.2 1 .1 1-1 1-.3 1-.2 1 .5 1-.2 1-.6 1 .1 1 .2 1 1.5 1-2 1 .7 1-.4 1-.1 1 .1 1 0 1-.4 1-.2 1 .1 1 0 1 .2 1-.4 1 .5 1 .1 1-.7 1-.1 1 .7 1-.5 1 0 1-.1 1 .1 1 .4 1-.3 1-.8 1 .2 1 .2 1-.2 1 .4 1-1.4 1 1.5 1-1.2 1 .8 1-1.1 1 .6 1 .4 1-.2 1 .5 1 .5 1-1.3 1 0 1 .1 1 0 1 .5 1-.6 1-.4 1 1.1 1 1 1-.5 1-.7 1 .2 1 .9 1-.2 1-.5 1 .7 1-.5 1-.3 1 .1 1 .2 1 .2 1-1.1 1 .4 1-.3 1-.8 1 .4 1-.6 1 1 1-.3 1 0 1 0 1-.7 1 .8 1 .3 1 .3 1-.4 1 0 1 .5 1 .6 1-.5 1-.9 1 1.1 1-.1 1-16.9 1-21.1 1-14.3 1-10.1 1-7.7 1-3.5 1-3.6 1-2 1-1.2 1 .1 1-.4 1 0 1-.5 1-.4 1 .7 1 1 1 .5 1-.4 1 1.4 1-.6 1 1 1 .5 1 1.1 1-1 1 .8 1 0 1 1.1 1-.1 1 1.7 1 0 1 .7 1 1.4 1-.5 1-.2 1 .8 1 .2 1 .6 1-.6 1 .8 1 .2 1 .1 1 .2 1 .6 1 0 1-.6 1 .7 1 .6 1 .8 1-.1 1 .4 1-.2 1-.1 1 .4 1 .8 1-1 1 .4 1 .2 1 .2 1 .3 1-.4 1-.3 1 .1 1-.2 1 .3 1-1 1 1.7 1-.5 1 .6 1-.3 1-.1 1-.2 1 1 1 .1 1-.9 1 .7 1 .6 1-.6 1-.7 1-.6 1 1.4 1-.9 1-.3 1 1.3 1-.3 M1494.1 890.5l1 .5 1-.3 1-.2 1 .5 1-.5 1 .2 1 .3 1 1.2 1-1.3 1 .5 1 3.5 1 28.2 1 21.4 1 15.5 1 10.6 1 7.5 1 5.8 1 3.2 1 2.1 1 1.1 1 .8 1-.4 1 .3 1-1.3 1-.5 1-1.3 1-1.4 1-1 1-.8 1-1.2 1-.5 1-.9 1-1.5 1-.7 1-.6 1-1.1 1-.3 1-1 1 0 1-1 1 .3 1-1.5 1-.3 1 .1 1-.9 1-.5 1-.1 1 .1 1-1.3 1 .1 1-.4 1-.2 1-.5 1 .1 1 0 1-.6 1-.4 1 .4 1-.1 1-1 1 .4 1-.2 1 .3 1-1.5 1 .8 1-.6 1 .6 1-1 1 1.1 1 .6 1-.8 1-.2 1 0 1 .9 1-.9 1-.6 1 .5 1 .1 1-.2 1-.3 1-.6 1 .2 1-.3 1-.6 1 1.1 1-.1 1-.2 1 .6 1-.7 1 .2 1-.7 1-.7 1 .5 1 .6 1-.4 1-.5 1 .6 1 1.3 1-.1 1-.2 1-.5 1-.5 1 .6 1 .2 1 0 1 .7 1-.8 1 .1 1 .1 1-.6 1 .6 1-.9 1 .4 1-.1 1 .5 1 .2 1-1.4 1 1.1 1-.9 1 .6 1-1 1 1.1 1 .4 1-.6 1-.5 1 .3 1-.5 1 .8 1 .2 1-.8 1 .6 1 0 1-.2 1 .6 1-.5 1-.4 1 .2 1 .1 1 .1 1-.3 1 .3 1-.2 1 .3 1 .5 1-20 1-25.7 1-16.4 1-12.4 1-7.5 1-5.4 1-2.9 1-2.4 1-2.2 1-.9 1 .2 1 .4 1-.1 1 .6 1 .3 1 1.3 1-.1 1 .1 1 .3 1 .4 1 1.1 1 0 1 1.8 1 .4 1 .5 1 .6 1 .1 1 .6 1 0 1 .3 1 .3 1 1.4 1-.2 1 .4 1 .3 1 1.7 1-1.1 1 .2 1-.1 1 .6 1 .3 1 1.2 1-1 1 1.5 1-.1 1-1.1 1 1.4 1 .9 1-.1 1-.1 1 .3 1 .4 1 .7 1-.4 1 .7 1 .3 1-.6 1 .6 1-1.2 1 .5 1 .8 1-.2 1 .4 1-.4 1 .1 1-.3 1-.2 1 1.1 1-.3 1 .5 1-.7 1 1.1 1-1 1 .6 1-.1 1 .4 1-.7 1 .8 1-.6 1 0 1 .5 1 .1 1 .6 1-.2 M1494.1 891.7l1-.5 1 .5 1-.4 1 .7 1-.8 1-.9 1 1 1-.5 1 .7 1 .2 1 3.3 1 33 1 23.5 1 17.6 1 12 1 7.9 1 6.8 1 3.9 1 2.6 1 1.8 1 0 1 1.2 1-2.1 1-.7 1-.2 1-.3 1-1.6 1-1.4 1-.9 1-1.1 1-.9 1-1.2 1-.8 1-1.1 1-1.1 1-1.1 1-.3 1-1.5 1 .1 1-2 1 .7 1-.6 1-1 1-.3 1-.4 1-1.3 1 1.2 1-.8 1-.5 1-.7 1-.3 1-.3 1 .1 1 .1 1-1 1 .5 1-1.1 1 .4 1-.7 1-.5 1-.1 1-.2 1 .8 1-1 1-.4 1 .4 1-.6 1 .8 1-.8 1-.3 1 .6 1 .3 1-.6 1 .6 1-.9 1 .4 1-.1 1 1 1-1.4 1-.1 1 1.1 1-.9 1 .8 1-.7 1 0 1-.5 1 .2 1 .5 1-.2 1-.4 1-.5 1 1.2 1-.2 1-.1 1 .5 1-1.1 1 .6 1-1 1 .8 1-1.1 1 .8 1-.3 1-.2 1 .6 1 0 1 .5 1-1.4 1 .1 1 .7 1 .7 1-.6 1 .3 1-1 1 .1 1-.1 1 .4 1 .5 1 .2 1-.2 1-.8 1 .2 1-.2 1 .3 1-.5 1 .8 1 .8 1-.5 1-.8 1 0 1-.7 1 1.2 1 0 1-.1 1-.4 1 1.2 1-.9 1 .2 1 0 1-1 1 .7 1-.5 1 .1 1 .6 1-1.7 1-21.5 1-28.5 1-19.4 1-12.5 1-8.9 1-6 1-3.9 1-2.2 1-2.1 1-1 1-1.4 1 .8 1-1 1 1 1 1.4 1-.9 1 2.5 1-.7 1 .8 1 .1 1 2.8 1-1.6 1 1.3 1 1 1 1.5 1 .5 1-.1 1 .7 1 1 1 .3 1 .3 1 .7 1 .7 1 .1 1 .5 1 .4 1-.1 1 1.3 1-.1 1 .1 1 .8 1 .3 1 0 1 .1 1-.5 1 1.3 1 0 1 .1 1-.9 1 1 1-.5 1 .6 1 .8 1-.9 1 .8 1 .1 1-.1 1 .7 1-.5 1 1.1 1-.3 1 .2 1 .3 1 0 1 .5 1-.2 1 .2 1 .2 1 .7 1-.8 1-.7 1 .5 1-.7 1 1.1 1-.9 1-.1 1 .6 1 .9 1-1.3 1 .1 1 0 1 1.2 1-1.4 1 1.2" fill="none" stroke="#dc3520" stroke-width="1.9" stroke-linejoin="round"/>
<path d="M1429.4 951 L1429.4 999 L1467.2 999" fill="none" stroke="#222" stroke-width="1.5"/>
<text x="1414.5" y="968" font-size="26.2" text-anchor="middle" transform="rotate(-90 1414.5 968)">10 mV</text>
<text x="1410.5" y="1030.3" font-size="26.7">200 ms</text>
<text x="992.5" y="1027.8" font-size="27.5">I</text>
<text x="999.3" y="1036.7" font-size="15.4">injected</text>
<g stroke="#333" stroke-width="1.3" fill="none">
<rect x="1084.5" y="1025" width="132" height="62"/>
<line x1="1084.5" y1="1031.9" x2="1216.5" y2="1031.9"/>
<line x1="1084.5" y1="1038.8" x2="1216.5" y2="1038.8"/>
<line x1="1084.5" y1="1045.7" x2="1216.5" y2="1045.7"/>
<line x1="1084.5" y1="1052.6" x2="1216.5" y2="1052.6"/>
<line x1="1084.5" y1="1059.4" x2="1216.5" y2="1059.4"/>
<line x1="1084.5" y1="1066.3" x2="1216.5" y2="1066.3"/>
<line x1="1084.5" y1="1073.2" x2="1216.5" y2="1073.2"/>
<line x1="1084.5" y1="1080.1" x2="1216.5" y2="1080.1"/>
<line x1="1075" y1="1033" x2="1300" y2="1033" stroke="#111"/>
</g>
<text x="1244" y="1018.6">30 pA</text>
<text x="1254.6" y="1059.8" font-size="26.3">Δ20 pA</text>
<text x="1232.8" y="1100.7" font-size="26.4">-150 pA</text>
<text x="1.5" y="1163.4" font-size="38">F</text>
<line x1="137.5" y1="1209.7" x2="137.5" y2="1431.8" stroke="#000" stroke-width="2.5"/>
<line x1="132.5" y1="1430.5" x2="137.5" y2="1430.5" stroke="#000" stroke-width="2.5"/>
<text x="124.5" y="1440" font-size="27" text-anchor="end">-80</text>
<line x1="132.5" y1="1375.3" x2="137.5" y2="1375.3" stroke="#000" stroke-width="2.5"/>
<text x="124.5" y="1384.8" font-size="27" text-anchor="end">-70</text>
<line x1="132.5" y1="1320.1" x2="137.5" y2="1320.1" stroke="#000" stroke-width="2.5"/>
<text x="124.5" y="1329.6" font-size="27" text-anchor="end">-60</text>
<line x1="132.5" y1="1264.9" x2="137.5" y2="1264.9" stroke="#000" stroke-width="2.5"/>
<text x="124.5" y="1274.4" font-size="27" text-anchor="end">-50</text>
<line x1="132.5" y1="1209.7" x2="137.5" y2="1209.7" stroke="#000" stroke-width="2.5"/>
<text x="124.5" y="1219.2" font-size="27" text-anchor="end">-40</text>
<line x1="134.2" y1="1430.5" x2="360" y2="1430.5" stroke="#000" stroke-width="2.5"/>
<line x1="193.4" y1="1430.5" x2="193.4" y2="1436" stroke="#000" stroke-width="2.5"/>
<line x1="304.5" y1="1430.5" x2="304.5" y2="1436" stroke="#000" stroke-width="2.5"/>
<text x="195.4" y="1471.3" font-size="26.7" text-anchor="middle">Baseline</text>
<text x="303.3" y="1471.3" font-size="26.3" text-anchor="middle">Cort</text>
<text transform="translate(59.2 1318) rotate(-90)" font-size="27" text-anchor="middle">V<tspan font-size="14.5" dx="2.5" dy="7">m</tspan><tspan dy="-7"> (mV)</tspan></text>
<line x1="193.2" y1="1313.3" x2="304.5" y2="1269.8" stroke="#000" stroke-width="2"/>
<line x1="193.2" y1="1319.9" x2="304.5" y2="1338.3" stroke="#000" stroke-width="2"/>
<line x1="193.2" y1="1331.2" x2="304.5" y2="1342.1" stroke="#000" stroke-width="2"/>
<line x1="193.2" y1="1341.5" x2="304.5" y2="1313.9" stroke="#000" stroke-width="2"/>
<line x1="193.2" y1="1346" x2="304.5" y2="1348.4" stroke="#000" stroke-width="2"/>
<line x1="193.2" y1="1348.4" x2="304.5" y2="1322.7" stroke="#000" stroke-width="2"/>
<line x1="193.2" y1="1351.5" x2="304.5" y2="1330.8" stroke="#000" stroke-width="2"/>
<line x1="193.2" y1="1353.5" x2="304.5" y2="1341" stroke="#000" stroke-width="2"/>
<line x1="193.2" y1="1355.3" x2="304.5" y2="1355.3" stroke="#000" stroke-width="2"/>
<line x1="193.2" y1="1358" x2="304.5" y2="1339" stroke="#000" stroke-width="2"/>
<line x1="193.2" y1="1365.3" x2="304.5" y2="1330" stroke="#000" stroke-width="2"/>
<line x1="193.2" y1="1365.9" x2="304.5" y2="1375.3" stroke="#000" stroke-width="2"/>
<line x1="193.2" y1="1367.8" x2="304.5" y2="1376.5" stroke="#000" stroke-width="2"/>
<line x1="193.2" y1="1371.5" x2="304.5" y2="1380.3" stroke="#000" stroke-width="2"/>
<line x1="193.2" y1="1375.9" x2="304.5" y2="1387.2" stroke="#000" stroke-width="2"/>
<ellipse cx="193.2" cy="1313.3" rx="2.9" ry="3.9" fill="#000"/>
<ellipse cx="193.2" cy="1319.9" rx="2.9" ry="3.9" fill="#000"/>
<ellipse cx="193.2" cy="1331.2" rx="2.9" ry="3.9" fill="#000"/>
<ellipse cx="193.2" cy="1341.5" rx="2.9" ry="3.9" fill="#000"/>
<ellipse cx="193.2" cy="1346" rx="2.9" ry="3.9" fill="#000"/>
<ellipse cx="193.2" cy="1348.4" rx="2.9" ry="3.9" fill="#000"/>
<ellipse cx="193.2" cy="1351.5" rx="2.9" ry="3.9" fill="#000"/>
<ellipse cx="193.2" cy="1353.5" rx="2.9" ry="3.9" fill="#000"/>
<ellipse cx="193.2" cy="1355.3" rx="2.9" ry="3.9" fill="#000"/>
<ellipse cx="193.2" cy="1358" rx="2.9" ry="3.9" fill="#000"/>
<ellipse cx="193.2" cy="1365.3" rx="2.9" ry="3.9" fill="#000"/>
<ellipse cx="193.2" cy="1365.9" rx="2.9" ry="3.9" fill="#000"/>
<ellipse cx="193.2" cy="1367.8" rx="2.9" ry="3.9" fill="#000"/>
<ellipse cx="193.2" cy="1371.5" rx="2.9" ry="3.9" fill="#000"/>
<ellipse cx="193.2" cy="1375.9" rx="2.9" ry="3.9" fill="#000"/>
<ellipse cx="304.5" cy="1269.8" rx="2.9" ry="3.9" fill="#dc3520"/>
<ellipse cx="304.5" cy="1338.3" rx="2.9" ry="3.9" fill="#dc3520"/>
<ellipse cx="304.5" cy="1342.1" rx="2.9" ry="3.9" fill="#dc3520"/>
<ellipse cx="304.5" cy="1313.9" rx="2.9" ry="3.9" fill="#dc3520"/>
<ellipse cx="304.5" cy="1348.4" rx="2.9" ry="3.9" fill="#dc3520"/>
<ellipse cx="304.5" cy="1322.7" rx="2.9" ry="3.9" fill="#dc3520"/>
<ellipse cx="304.5" cy="1330.8" rx="2.9" ry="3.9" fill="#dc3520"/>
<ellipse cx="304.5" cy="1341" rx="2.9" ry="3.9" fill="#dc3520"/>
<ellipse cx="304.5" cy="1355.3" rx="2.9" ry="3.9" fill="#dc3520"/>
<ellipse cx="304.5" cy="1339" rx="2.9" ry="3.9" fill="#dc3520"/>
<ellipse cx="304.5" cy="1330" rx="2.9" ry="3.9" fill="#dc3520"/>
<ellipse cx="304.5" cy="1375.3" rx="2.9" ry="3.9" fill="#dc3520"/>
<ellipse cx="304.5" cy="1376.5" rx="2.9" ry="3.9" fill="#dc3520"/>
<ellipse cx="304.5" cy="1380.3" rx="2.9" ry="3.9" fill="#dc3520"/>
<ellipse cx="304.5" cy="1387.2" rx="2.9" ry="3.9" fill="#dc3520"/>
<ellipse cx="164.8" cy="1351.7" rx="6" ry="8.8" fill="#000"/>
<ellipse cx="336.1" cy="1344.2" rx="6" ry="8.8" fill="#dc3520"/>
<text x="438.5" y="1164.7" font-size="38">G</text>
<line x1="575.6" y1="1207.3" x2="575.6" y2="1430.2" stroke="#000" stroke-width="2.5"/>
<line x1="570.6" y1="1429" x2="575.6" y2="1429" stroke="#000" stroke-width="2.5"/>
<text x="561.5" y="1438.5" font-size="27" text-anchor="end">0</text>
<line x1="570.6" y1="1373.6" x2="575.6" y2="1373.6" stroke="#000" stroke-width="2.5"/>
<text x="561.5" y="1383.1" font-size="27" text-anchor="end">50</text>
<line x1="570.6" y1="1318.2" x2="575.6" y2="1318.2" stroke="#000" stroke-width="2.5"/>
<text x="561.5" y="1327.7" font-size="27" text-anchor="end">100</text>
<line x1="570.6" y1="1262.7" x2="575.6" y2="1262.7" stroke="#000" stroke-width="2.5"/>
<text x="561.5" y="1272.2" font-size="27" text-anchor="end">150</text>
<line x1="570.6" y1="1207.3" x2="575.6" y2="1207.3" stroke="#000" stroke-width="2.5"/>
<text x="561.5" y="1216.8" font-size="27" text-anchor="end">200</text>
<line x1="572.2" y1="1429" x2="797.6" y2="1429" stroke="#000" stroke-width="2.5"/>
<line x1="631.3" y1="1429" x2="631.3" y2="1434.5" stroke="#000" stroke-width="2.5"/>
<line x1="742.2" y1="1429" x2="742.2" y2="1434.5" stroke="#000" stroke-width="2.5"/>
<text x="626.5" y="1471" font-size="26.7" text-anchor="middle">Baseline</text>
<text x="746.1" y="1471" font-size="26.3" text-anchor="middle">Cort</text>
<text transform="translate(489.5 1321) rotate(-90)" font-size="27" text-anchor="middle">R<tspan font-size="14.5" dx="1.5" dy="7">in</tspan><tspan dy="-7"> (MΩ) at RMP</tspan></text>
<text x="674.8" y="1212" font-size="42.8" text-anchor="middle" stroke="#000" stroke-width="0.7">***</text>
<path d="M603.3 1228.7 L603.3 1215.1 L768.2 1215.1 L768.2 1228.7" fill="none" stroke="#000" stroke-width="2.2"/>
<line x1="630.7" y1="1256.9" x2="742.3" y2="1295.1" stroke="#000" stroke-width="2"/>
<line x1="630.7" y1="1265" x2="742.3" y2="1306.4" stroke="#000" stroke-width="2"/>
<line x1="630.7" y1="1286.4" x2="742.3" y2="1317.7" stroke="#000" stroke-width="2"/>
<line x1="630.7" y1="1287.6" x2="742.3" y2="1325.2" stroke="#000" stroke-width="2"/>
<line x1="630.7" y1="1295.8" x2="742.3" y2="1318.3" stroke="#000" stroke-width="2"/>
<line x1="630.7" y1="1305.8" x2="742.3" y2="1307" stroke="#000" stroke-width="2"/>
<line x1="630.7" y1="1306.4" x2="742.3" y2="1338.4" stroke="#000" stroke-width="2"/>
<line x1="630.7" y1="1312.7" x2="742.3" y2="1332.7" stroke="#000" stroke-width="2"/>
<line x1="630.7" y1="1317.7" x2="742.3" y2="1311.4" stroke="#000" stroke-width="2"/>
<line x1="630.7" y1="1318.9" x2="742.3" y2="1322.1" stroke="#000" stroke-width="2"/>
<line x1="630.7" y1="1320.2" x2="742.3" y2="1350.9" stroke="#000" stroke-width="2"/>
<line x1="630.7" y1="1326.5" x2="742.3" y2="1359" stroke="#000" stroke-width="2"/>
<line x1="630.7" y1="1327.1" x2="742.3" y2="1337.7" stroke="#000" stroke-width="2"/>
<line x1="630.7" y1="1340.2" x2="742.3" y2="1359.7" stroke="#000" stroke-width="2"/>
<ellipse cx="630.7" cy="1256.9" rx="2.9" ry="3.9" fill="#000"/>
<ellipse cx="630.7" cy="1265" rx="2.9" ry="3.9" fill="#000"/>
<ellipse cx="630.7" cy="1286.4" rx="2.9" ry="3.9" fill="#000"/>
<ellipse cx="630.7" cy="1287.6" rx="2.9" ry="3.9" fill="#000"/>
<ellipse cx="630.7" cy="1295.8" rx="2.9" ry="3.9" fill="#000"/>
<ellipse cx="630.7" cy="1305.8" rx="2.9" ry="3.9" fill="#000"/>
<ellipse cx="630.7" cy="1306.4" rx="2.9" ry="3.9" fill="#000"/>
<ellipse cx="630.7" cy="1312.7" rx="2.9" ry="3.9" fill="#000"/>
<ellipse cx="630.7" cy="1317.7" rx="2.9" ry="3.9" fill="#000"/>
<ellipse cx="630.7" cy="1318.9" rx="2.9" ry="3.9" fill="#000"/>
<ellipse cx="630.7" cy="1320.2" rx="2.9" ry="3.9" fill="#000"/>
<ellipse cx="630.7" cy="1326.5" rx="2.9" ry="3.9" fill="#000"/>
<ellipse cx="630.7" cy="1327.1" rx="2.9" ry="3.9" fill="#000"/>
<ellipse cx="630.7" cy="1340.2" rx="2.9" ry="3.9" fill="#000"/>
<ellipse cx="742.3" cy="1295.1" rx="2.9" ry="3.9" fill="#dc3520"/>
<ellipse cx="742.3" cy="1306.4" rx="2.9" ry="3.9" fill="#dc3520"/>
<ellipse cx="742.3" cy="1317.7" rx="2.9" ry="3.9" fill="#dc3520"/>
<ellipse cx="742.3" cy="1325.2" rx="2.9" ry="3.9" fill="#dc3520"/>
<ellipse cx="742.3" cy="1318.3" rx="2.9" ry="3.9" fill="#dc3520"/>
<ellipse cx="742.3" cy="1307" rx="2.9" ry="3.9" fill="#dc3520"/>
<ellipse cx="742.3" cy="1338.4" rx="2.9" ry="3.9" fill="#dc3520"/>
<ellipse cx="742.3" cy="1332.7" rx="2.9" ry="3.9" fill="#dc3520"/>
<ellipse cx="742.3" cy="1311.4" rx="2.9" ry="3.9" fill="#dc3520"/>
<ellipse cx="742.3" cy="1322.1" rx="2.9" ry="3.9" fill="#dc3520"/>
<ellipse cx="742.3" cy="1350.9" rx="2.9" ry="3.9" fill="#dc3520"/>
<ellipse cx="742.3" cy="1359" rx="2.9" ry="3.9" fill="#dc3520"/>
<ellipse cx="742.3" cy="1337.7" rx="2.9" ry="3.9" fill="#dc3520"/>
<ellipse cx="742.3" cy="1359.7" rx="2.9" ry="3.9" fill="#dc3520"/>
<ellipse cx="601.5" cy="1302" rx="6" ry="8.8" fill="#000"/>
<ellipse cx="774.8" cy="1326.7" rx="6" ry="8.8" fill="#dc3520"/>
<text x="932.6" y="1163.6" font-size="38">I</text>
<line x1="1061.3" y1="1203.5" x2="1061.3" y2="1426" stroke="#000" stroke-width="2.5"/>
<line x1="1056.3" y1="1424.7" x2="1061.3" y2="1424.7" stroke="#000" stroke-width="2.5"/>
<text x="1042.3" y="1434.2" font-size="27" text-anchor="end">-80</text>
<line x1="1056.3" y1="1369.4" x2="1061.3" y2="1369.4" stroke="#000" stroke-width="2.5"/>
<text x="1042.3" y="1378.9" font-size="27" text-anchor="end">-70</text>
<line x1="1056.3" y1="1314.1" x2="1061.3" y2="1314.1" stroke="#000" stroke-width="2.5"/>
<text x="1042.3" y="1323.6" font-size="27" text-anchor="end">-60</text>
<line x1="1056.3" y1="1258.8" x2="1061.3" y2="1258.8" stroke="#000" stroke-width="2.5"/>
<text x="1042.3" y="1268.3" font-size="27" text-anchor="end">-50</text>
<line x1="1056.3" y1="1203.5" x2="1061.3" y2="1203.5" stroke="#000" stroke-width="2.5"/>
<text x="1042.3" y="1213" font-size="27" text-anchor="end">-40</text>
<line x1="1058.5" y1="1424.7" x2="1284" y2="1424.7" stroke="#000" stroke-width="2.5"/>
<line x1="1117.3" y1="1424.7" x2="1117.3" y2="1430.2" stroke="#000" stroke-width="2.5"/>
<line x1="1228.6" y1="1424.7" x2="1228.6" y2="1430.2" stroke="#000" stroke-width="2.5"/>
<text x="1114" y="1469.6" font-size="26.7" text-anchor="middle">Baseline</text>
<text x="1232.9" y="1469.6" font-size="26.3" text-anchor="middle">Cort</text>
<text transform="translate(976.2 1315) rotate(-90)" font-size="27" text-anchor="middle">V<tspan font-size="14.5" dx="2.5" dy="7">m</tspan><tspan dy="-7"> (mV)</tspan></text>
<line x1="1117" y1="1306" x2="1228.5" y2="1301.3" stroke="#000" stroke-width="2"/>
<line x1="1117" y1="1316.9" x2="1228.5" y2="1327.6" stroke="#000" stroke-width="2"/>
<line x1="1117" y1="1319" x2="1228.5" y2="1346.4" stroke="#000" stroke-width="2"/>
<line x1="1117" y1="1325.7" x2="1228.5" y2="1315.7" stroke="#000" stroke-width="2"/>
<line x1="1117" y1="1331.4" x2="1228.5" y2="1322" stroke="#000" stroke-width="2"/>
<line x1="1117" y1="1334.5" x2="1228.5" y2="1316.3" stroke="#000" stroke-width="2"/>
<line x1="1117" y1="1337.6" x2="1228.5" y2="1327.6" stroke="#000" stroke-width="2"/>
<line x1="1117" y1="1336" x2="1228.5" y2="1314" stroke="#000" stroke-width="2"/>
<ellipse cx="1117" cy="1306" rx="2.9" ry="3.9" fill="#000"/>
<ellipse cx="1117" cy="1316.9" rx="2.9" ry="3.9" fill="#000"/>
<ellipse cx="1117" cy="1319" rx="2.9" ry="3.9" fill="#000"/>
<ellipse cx="1117" cy="1325.7" rx="2.9" ry="3.9" fill="#000"/>
<ellipse cx="1117" cy="1331.4" rx="2.9" ry="3.9" fill="#000"/>
<ellipse cx="1117" cy="1334.5" rx="2.9" ry="3.9" fill="#000"/>
<ellipse cx="1117" cy="1337.6" rx="2.9" ry="3.9" fill="#000"/>
<ellipse cx="1117" cy="1336" rx="2.9" ry="3.9" fill="#000"/>
<ellipse cx="1228.5" cy="1301.3" rx="2.9" ry="3.9" fill="#dc3520"/>
<ellipse cx="1228.5" cy="1327.6" rx="2.9" ry="3.9" fill="#dc3520"/>
<ellipse cx="1228.5" cy="1346.4" rx="2.9" ry="3.9" fill="#dc3520"/>
<ellipse cx="1228.5" cy="1315.7" rx="2.9" ry="3.9" fill="#dc3520"/>
<ellipse cx="1228.5" cy="1322" rx="2.9" ry="3.9" fill="#dc3520"/>
<ellipse cx="1228.5" cy="1316.3" rx="2.9" ry="3.9" fill="#dc3520"/>
<ellipse cx="1228.5" cy="1327.6" rx="2.9" ry="3.9" fill="#dc3520"/>
<ellipse cx="1228.5" cy="1314" rx="2.9" ry="3.9" fill="#dc3520"/>
<ellipse cx="1088.8" cy="1325.1" rx="6" ry="8.8" fill="#000"/>
<ellipse cx="1262" cy="1321.6" rx="6" ry="8.8" fill="#dc3520"/>
<text x="1353.2" y="1163.5" font-size="38">J</text>
<line x1="1482.2" y1="1204.9" x2="1482.2" y2="1426.8" stroke="#000" stroke-width="2.5"/>
<line x1="1477.2" y1="1425.5" x2="1482.2" y2="1425.5" stroke="#000" stroke-width="2.5"/>
<text x="1463.5" y="1435" font-size="27" text-anchor="end">0</text>
<line x1="1477.2" y1="1370.3" x2="1482.2" y2="1370.3" stroke="#000" stroke-width="2.5"/>
<text x="1463.5" y="1379.8" font-size="27" text-anchor="end">50</text>
<line x1="1477.2" y1="1315.2" x2="1482.2" y2="1315.2" stroke="#000" stroke-width="2.5"/>
<text x="1466" y="1324.7" font-size="27" text-anchor="end">100</text>
<line x1="1477.2" y1="1260.1" x2="1482.2" y2="1260.1" stroke="#000" stroke-width="2.5"/>
<text x="1466" y="1269.6" font-size="27" text-anchor="end">150</text>
<line x1="1477.2" y1="1204.9" x2="1482.2" y2="1204.9" stroke="#000" stroke-width="2.5"/>
<text x="1466" y="1214.4" font-size="27" text-anchor="end">200</text>
<line x1="1479" y1="1425.5" x2="1705" y2="1425.5" stroke="#000" stroke-width="2.5"/>
<line x1="1538.4" y1="1425.5" x2="1538.4" y2="1431" stroke="#000" stroke-width="2.5"/>
<line x1="1649.4" y1="1425.5" x2="1649.4" y2="1431" stroke="#000" stroke-width="2.5"/>
<text x="1537.5" y="1469.5" font-size="26.7" text-anchor="middle">Baseline</text>
<text x="1656.8" y="1469.5" font-size="26.3" text-anchor="middle">Cort</text>
<text transform="translate(1394.5 1316.5) rotate(-90)" font-size="27" text-anchor="middle">R<tspan font-size="14.5" dx="1.5" dy="7">in</tspan><tspan dy="-7"> (MΩ) at RMP</tspan></text>
<line x1="1538.2" y1="1237.5" x2="1649.4" y2="1248.2" stroke="#000" stroke-width="2"/>
<line x1="1538.2" y1="1248.8" x2="1649.4" y2="1237.5" stroke="#000" stroke-width="2"/>
<line x1="1538.2" y1="1249.4" x2="1649.4" y2="1260.7" stroke="#000" stroke-width="2"/>
<line x1="1538.2" y1="1276.4" x2="1649.4" y2="1294.5" stroke="#000" stroke-width="2"/>
<line x1="1538.2" y1="1278.9" x2="1649.4" y2="1298.3" stroke="#000" stroke-width="2"/>
<line x1="1538.2" y1="1285.2" x2="1649.4" y2="1273.2" stroke="#000" stroke-width="2"/>
<line x1="1538.2" y1="1288.9" x2="1649.4" y2="1311.5" stroke="#000" stroke-width="2"/>
<line x1="1538.2" y1="1301.7" x2="1649.4" y2="1307.1" stroke="#000" stroke-width="2"/>
<line x1="1538.2" y1="1323.4" x2="1649.4" y2="1317.1" stroke="#000" stroke-width="2"/>
<ellipse cx="1538.2" cy="1237.5" rx="2.9" ry="3.9" fill="#000"/>
<ellipse cx="1538.2" cy="1248.8" rx="2.9" ry="3.9" fill="#000"/>
<ellipse cx="1538.2" cy="1249.4" rx="2.9" ry="3.9" fill="#000"/>
<ellipse cx="1538.2" cy="1276.4" rx="2.9" ry="3.9" fill="#000"/>
<ellipse cx="1538.2" cy="1278.9" rx="2.9" ry="3.9" fill="#000"/>
<ellipse cx="1538.2" cy="1285.2" rx="2.9" ry="3.9" fill="#000"/>
<ellipse cx="1538.2" cy="1288.9" rx="2.9" ry="3.9" fill="#000"/>
<ellipse cx="1538.2" cy="1301.7" rx="2.9" ry="3.9" fill="#000"/>
<ellipse cx="1538.2" cy="1323.4" rx="2.9" ry="3.9" fill="#000"/>
<ellipse cx="1649.4" cy="1248.2" rx="2.9" ry="3.9" fill="#dc3520"/>
<ellipse cx="1649.4" cy="1237.5" rx="2.9" ry="3.9" fill="#dc3520"/>
<ellipse cx="1649.4" cy="1260.7" rx="2.9" ry="3.9" fill="#dc3520"/>
<ellipse cx="1649.4" cy="1294.5" rx="2.9" ry="3.9" fill="#dc3520"/>
<ellipse cx="1649.4" cy="1298.3" rx="2.9" ry="3.9" fill="#dc3520"/>
<ellipse cx="1649.4" cy="1273.2" rx="2.9" ry="3.9" fill="#dc3520"/>
<ellipse cx="1649.4" cy="1311.5" rx="2.9" ry="3.9" fill="#dc3520"/>
<ellipse cx="1649.4" cy="1307.1" rx="2.9" ry="3.9" fill="#dc3520"/>
<ellipse cx="1649.4" cy="1317.1" rx="2.9" ry="3.9" fill="#dc3520"/>
<ellipse cx="1511" cy="1273.2" rx="6" ry="8.8" fill="#000"/>
<ellipse cx="1679" cy="1279.8" rx="6" ry="8.8" fill="#dc3520"/>
<text x="3.2" y="1576.5" font-size="38">K</text>
<text x="174.9" y="1595" font-size="26.7">Baseline</text>
<path d="M173.5 1745.9l.5-1.4 .5 .9 .5-.3 .5 .1 .5 0 .5-.5 .5 .5 .5-.2 .5 1.3 .5-.9 .5-.2 .5 0 .5-.1 .5-.1 .5 .2 .5 .2 .5-.2 .5 .4 .5-.4 .5 .1 .5 .5 .5-.3 .5-.4 .5 .1 .5 .3 .5 .4 .5-4.1 .5-4.6 .5-3.2 .5-3.2 .5-1.8 .5-1.2 .5-1.2 .5-1 .5-.5 .5-1.6 .4-103 .1 104 .2-14 .3 12.7 .5-1 .5-.1 .5-.5 .5-1 .5-.8 .5-.2 .5-.6 .5-.1 .5-.7 .5-.6 .5-.2 .5-.9 .2-96.1 .3 103.3 0-13.2 .5 12.9 .5-.6 .5-.9 .5-.7 .5-.3 .5-1.4 .5 .5 .5-.6 .5-1.1 .5 0 .5-.7 .5 .1 .5-1.3 .5 0 .2-95.4 .3 103.3 .1-13.8 .4 13.3 .5-1.6 .5 0 .5-.3 .5-.8 .5 .1 .5-1.3 .5 0 .5-.9 .5 .3 .5-.8 .5-.5 .5-.8 .5 .7 .5-.6 .5-.4 .4-96.3 .1 104 .2-14.1 .3 13.4 .5-.8 .5-.5 .5-.4 .5 .2 .5-1.2 .5-.1 .5-.3 .5-.2 .5-.3 .5-.8 .5-.5 .5 .2 .5 .1 .5-.4 .5-.4 .5-.4 .5-.1 .5-.4 .5 .1 .5-.7 .5 .1 .5-.3 .5 0 .5-96.1 0 103.8 .3-14 .2 14.3 .5-.6 .5-.3 .5-1.4 .5 .2 .5-.3 .5 0 .5-1.1 .5 .8 .5-.2 .5-1 .5-.1 .5-.2 .5 .1 .5 0 .5 .2 .5-.8 .5 .1 .5-.4 .5 .4 .5-.5 .5 .1 .5-.9 .5 .1 .5-.3 .5 .6 .5-.4 .5-.4 .5-.2 .5 .2 .5-.4 .5-.2 .5 .3 .5 .5 .5-.9 .5-.1 .5-.3 .5-.1 .5 .5 .5 0 .5-.3 .5 0 .5-.1 .5-.1 .5-.5 .5 .3 .5 .1 .5-.3 .5 0 .5-.1 .5 .1 .5 .3 .5-.4 .5 0 .5 .3 .5-.1 .5 .2 .5-1.1 .5 .8 .5-.4 .5 .2 .5 .1 .5 .1 .5-.1 .5-.2 .4-94.9 .1 103.1 .2-14.3 .3 13.3 .5-.3 .5-.1 .5-.8 .5 .5 .5-.7 .5 0 .5-.9 .5-.4 .5-.1 .5-.1 .5-.7 .5 0 .5-.3 .5 .3 .5-.9 .5 .3 .5-.8 .5-.2 .5-.2 .5-.3 .5 .3 .5 .1 .5-.5 .5 0 .5 .2 .5-.6 .5-.1 .5-.3 .5-.5 .5 .6 .5-.9 .5 .6 .5-.3 .5 .3 .5-.5 .5-.3 .5 .3 .5-.4 .5 0 .5 0 .5-.1 .5-.1 .5-.2 .5 .1 .5-.7 .5 .6 .5-.4 .5 .6 .5 0 .5-1 .5 .6 .5-.1 .5 .7 .5 5 .5 3.6 .5 2.9 .5 3.2 .5 2.4 .5 2.1 .5 1.2 .5 2 .5 1.2 .5 .5 .5 1 .5 .9 .5 .5 .5 1.2 .5-.1 .5 0 .5 .4 .5 .5 .5 .9 .5-.5 .5 .2 .5 .2 .5 0 .5 .8 .5-.8 .5 .5 .5-.2 .5 .2 .5-.5 .5 .9 .5-.5 .5 0 .5-.2 .5 0 .5 .4 .5 .2 .5-.1 .5 .1 .5-.1 .5-.2 .5 .2 .5-.1 .5-.2 .5 .3 .5 .1 .5-.3 .5-.2 .5 .4 .5 .3 .5-.6 .5 0 .5 0 .5 .4 .5-.9 .5 .6 .5 .3 .5-.7 .5 .7 .5-.3 .5-.3 .5 .2 .5-.5 .5 .3 .5 .7 .5-.8 .5 .8 .5-.6 .5 .3 .5-.3 .5-.7 .5 .5 .5 .3 .5-.4 .5-.1 .5 .5 .5-.3 .5-.3 .5 .3 .5 .4 .5-.4 .5 .4 .5 .2 .5-.4 .5-.4 .5 0 .5 .3 .5 .3 .5-.2 .5 .1 .5-.3 .5 .2 .5-.2 .5 0" fill="none" stroke="#111" stroke-width="1.3" stroke-linejoin="round"/>
<text x="73.8" y="1751.6" font-size="26.2">-67 mV</text>
<text x="208.2" y="1787.4" font-size="26.3">Cort</text>
<path d="M169.6 1929.2l.7 0 .7 .2 .7 .1 .7 .3 .7-.2 .7-.2 .7-.2 .7 .3 .7 .3 .7-.4 .7-.5 .7 0 .7 .8 .7-.5 .7-.5 .7 .7 .7-.2 .7 .2 .7-3.2 .7-4.4 .7-2.5 .7-2.4 .7-1.7 .7-.7 .7-.7 .7-1.4 .7 .1 .7-.6 .7 0 .7-.7 .7 .3 .7 0 .7-.1 .7-.4 .7 .2 .7-.3 .7-.2 .7 .4 .7-.2 .7 .6 .7-.2 .7-.9 .7 .6 .7-.5 .7 .2 .7 0 .7-.6 .7 .4 .7 .1 .7 .3 .7-.6 .7 .4 .7-.6 .7 .3 .7-.2 .7 .7 .7-.2 .7 .5 .7-.5 .7 .1 .7 0 .7-.6 .7 .3 .7 .5 .7-.4 .7 .2 .7 0 .7 .2 .7-.2 .7-.1 .7 0 .7-.2 .7-.3 .7 .5 .7-.6 .7-.3 .7-.2 .7 .9 .7-.4 .7-.3 .7 0 .7 .7 .7-.3 .7 0 .7 .5 .7-.5 .7 .3 .7 0 .7 0 .7 .3 .7 .2 .7-.6 .7-.4 .7-.2 .7 .5 .7-.1 .7 .3 .7-.1 .7 .1 .7 .1 .7 0 .7 .2 .7-.2 .7 .1 .7 .4 .7-.4 .7-.8 .7 .9 .7-.5 .7-.5 .7 .4 .7-.4 .7-.3 .7 0 .7-.1 .7 .4 .7 .4 .7-.3 .7 .3 .7 .6 .7-1 .7 .4 .7-.1 .7-.2 .7-.1 .7 .1 .7 .2 .7-.3 .7 .4 .7 .2 .7-.2 .7 .2 .7-.2 .7 .1 .7 .3 .7-.3 .7-.1 .7 .4 .7-.2 .7 .1 .7 .3 .7-.2 .7 .1 .7-.3 .7-.5 .7 1.3 .7-.3 .7-.5 .7 .7 .7-.5 .7-.5 .7 .4 .7 0 .7 .6 .7-.7 .7 .3 .7-.3 .7 .2 .7-.3 .7 .1 .7 .4 .7-.2 .7 1.8 .7 4 .7 3.2 .7 2.1 .7 1.8 .7 1.1 .7 2.1 .7 .6 .7-.2 .7 1 .7 .6 .7-.9 .7 .7 .7 .1 .7 .4 .7 0 .7 .1 .7-.1 .7 .5 .7 0 .7-.7 .7-.2 .7 1.2 .7-1.2 .7 .1 .7 .1 .7 .2 .7 .2 .7-.4 .7-.4 .7 .6 .7-.1 .7 .6 .7-.6 .7-.1 .7 0 .7 .8 .7-.5 .7-.3 .7 .6 .7 0 .7 .4 .7-.6 .7 .5 .7 .1 .7-.4 .7 .1 .7 .5 .7-.2 .7-.2 .7-.4 .7 .2 .7-.5 .7 .3 .7-.3 .7 .1 .7 0 .7 .9 .7-.8 .7 .5 .7 0 .7-.3 .7 .5 .7-.9 .7 .8 .7 .3 .7-1.3" fill="none" stroke="#dc3520" stroke-width="1.8"/>
<text x="73.8" y="1937.7" font-size="26.2">-65 mV</text>
<path d="M169.6 1969.6 L182.5 1969.6 L182.5 1953 L286.2 1953 L286.2 1969.6 L337 1969.6" fill="none" stroke="#111" stroke-width="2"/>
<text x="83.8" y="1977.9" font-size="22.3">150 pA</text>
<text x="202.4" y="1979.3" font-size="22.6">750 ms</text>
<path d="M328.5 1659 L328.5 1684.6 L355.7 1684.6" fill="none" stroke="#666" stroke-width="1.3"/>
<text x="316.1" y="1659.5" font-size="22.9" text-anchor="middle" transform="rotate(-90 316.1 1659.5)">20 mV</text>
<text x="325.5" y="1711" font-size="22.6">200 ms</text>
<text x="936.7" y="1576.5" font-size="38">M</text>
<text x="1057.8" y="1595" font-size="26.7">Baseline</text>
<path d="M1042.9 1742l.5 .1 .5-.2 .5-.2 .5 .2 .5-.2 .5 .3 .5 .4 .5-.5 .5-.1 .5 .3 .5 0 .5-.1 .5-.3 .5 .3 .5 .2 .5-.6 .5 .3 .5-.5 .5 .2 .5-.2 .5 .5 .5-.3 .5 .5 .5-.1 .5-.1 .5-.7 .5-5.9 .5-4.6 .5-3.3 .5-2.9 .5-1.4 .5-1.4 .5-.8 .2-102.5 .3 100.4 .1-12.3 .4 10.4 .5-.9 .5-.7 .5-1.1 .5-.5 .5-.5 .5-.4 .4-95.5 .1 101.5 .3-12.3 .2 11.4 .5-.8 .5-1.8 .5 0 .5-.8 .5-.8 .5 .4 .5-.7 .5-.8 .5 .1 .5 0 .1-95.6 .3 89.4 .1 11.5 .5-.9 .5-1.3 .5-.5 .5-.5 .5-1.1 .5-.2 .5-.6 .5-.1 .5-.6 .1-94.6 .4 100.6 0-11.7 .5 10.6 .5-.7 .5-.7 .5-1.4 .5-.4 .5 0 .5-1.2 .5 .2 .5-.2 .5 .2 .2-95.4 .3 101.3 .1-12.3 .4 10.7 .5-1 .5-.8 .5-.2 .5-1.2 .5-.4 .5-.2 .5-.4 .5-.3 .5-.5 .1-95.3 .4 101.5 0-11.9 .5 10.5 .5-.4 .5-1 .5-.8 .5-.4 .5-.7 .5 .1 .5-.7 .5 0 .5-.8 .5 .4 .2-94.9 .3 100.3 .1-11.6 .4 10.3 .5-.4 .5-1 .5-.4 .5 .1 .5-1.4 .5-.3 .5 0 .5-.2 .5-.4 .5-.2 .5 .2 .3-94.1 .2 100.4 .2-12.6 .3 10.9 .5-.8 .5-.8 .5-1 .5-.2 .5-.8 .5 .2 .5-.6 .5-.2 .5-.5 .5 0 .5-.7 .5 .2 .1-94.9 .3 89.2 .1 11.8 .5-1.9 .5 0 .5-1.5 .5 .2 .5-1 .5 .1 .5-.5 .5-.8 .5 .6 .5-.1 .5-.6 .5-.2 .5-.1 .5-.3 .1-94.8 .3 89.1 .1 11.9 .5-1.6 .5-.8 .5-.9 .5-.6 .5-.7 .5 .3 .5-.7 .5 0 .5-.5 .5-.4 .5 0 .4-95.6 .1 101.9 .2-12.3 .3 11.2 .5-1.2 .5-.8 .5-1 .5-.4 .5 .3 .5-1.1 .5-.4 .5 .2 .5 .1 .5-1 .5 .2 .5-.3 .2-94.6 .3 100.4 .1-11.6 .4 11.2 .5-1.2 .5-.8 .5-.9 .5-.2 .5-.7 .5-.3 .5-.5 .5-.3 .5 .6 .5-.8 .5 .2 .5-.3 .4-95.7 .1 102 .2-12.3 .3 11.1 .5-.7 .5-1.1 .5-.6 .5-.5 .5-.1 .5-.6 .5-.4 .5-.5 .5-.4 .5 .5 .5-.1 .5-.5 .5 .1 .5 0 .1-95.9 .3 89.7 .1 11.9 .5-1 .5-1.3 .5-.2 .5-1.4 .5 .1 .5-.5 .5-.2 .5 0 .5-.3 .5-1 .5-.3 .5 .7 .5-.7 .5 .2 .2-94.2 .3 100.6 .1-12.4 .4 10.5 .5-1.1 .5-.1 .5-.7 .5-.6 .5-.3 .5-.7 .5-.5 .5 .2 .5-.4 .5-.4 .5 .5 .5-.2 .5 0 .5-.5 .1-95.2 .4 97.4 0-7.9 .5 12.5 .5 4 .5 3.7 .5 2.5 .5 2.8 .5 2 .5 2.2 .5 .4 .5 1.9 .5 .7 .5 .9 .5 .3 .5 .9 .5 .9 .5 .1 .5 .4 .5 .2 .5 .7 .5-.2 .5-.4 .5 .5 .5-.2 .5-.3 .5 .9 .5 .6 .5-.4 .5-.3 .5 .1 .5 .6 .5-.3 .5 0 .5 0 .5 0 .5 .2 .5-.1 .5-.1 .5-.4 .5 .5 .5-.4 .5 .5 .5-.7 .5 .3 .5 0 .5-.4 .5 .9 .5-.1 .5-.6 .5 .3 .5-.1 .5-.9 .5 .8 .5-.1 .5 0 .5-.4 .5 .3 .5 0 .5 .4 .5-.3 .5-.1 .5 .4 .5-.6 .5 0 .5-.5 .5 1 .5-.2 .5 0 .5-.1 .5-.2 .5 0 .5-.1 .5 0 .5 0 .5 .5 .5-.4 .5-.2 .5-.1 .5-.1 .5 .7 .5-.4 .5-.1 .5-.1 .5-.3 .5 .3 .5 .3 .5-.4 .5 0 .5 0 .5 .1 .5-.5 .5 .4 .5-.2 .5 .5 .5-.5 .5 .3" fill="none" stroke="#111" stroke-width="1.2" stroke-linejoin="round"/>
<text x="946.2" y="1714.4" font-size="26.7">-62 mV</text>
<text x="955.6" y="1752.4" font-size="22.3">150 pA</text>
<text x="1075.7" y="1785.2" font-size="26.3">Cort</text>
<path d="M1045.4 1928.9l.5 .3 .5-.6 .5 .7 .5 .1 .5-.4 .5 .2 .5 0 .5-.2 .5-.2 .5-.3 .5 1 .5-.4 .5 .8 .5-.6 .5-.1 .5-.3 .5 .6 .5-.6 .5 .7 .5-.6 .5 .2 .5-.6 .5 1.2 .5-.7 .5-.1 .5 .3 .5-3.3 .5-5.2 .5-4.7 .5-2.4 .5-2.5 .5-1.8 .2-110.9 .3 108.3 .1-12.3 .4 10.6 .5-.6 .5-1.2 .5-.7 .5-.9 .5-.8 .5-.4 .1-101.3 .3 95.3 .1 12.5 .5-1.5 .5-1.2 .5-.8 .5-.5 .5-.7 .5 .3 .5-1.4 .5-.3 .5-.1 .5 .1 .4-103.4 .1 110.1 .3-13.1 .2 11.7 .5-1.1 .5-.8 .5-.3 .5-1.3 .5-.3 .5-.6 .5-.1 .5-.3 .5-.9 .5 1 .5-.9 .1-102.8 .4 109 0-12.3 .5 11 .5-.8 .5-.8 .5-.6 .5-.7 .5-.4 .5-1.1 .5-.1 .5-.4 .5 .1 .4-102.5 .1 109.7 .3-13.4 .2 11.5 .5-.7 .5-.6 .5-.7 .5-1.3 .5 0 .5-.5 .5-.7 .5 .4 .5-1.2 .5 0 .5 0 .4-103.6 .1 110.4 .2-13 .3 11.7 .5-.5 .5-.9 .5-.9 .5-.5 .5-.9 .5-.8 .5 .7 .5-1.3 .5 .7 .5-.9 .5-.1 .5-.3 .2-101.9 .3 108.9 .1-13 .4 11.4 .5-.3 .5-1.2 .5-.8 .5-.8 .5-.3 .5-.5 .5 .2 .5-.5 .5-1.1 .5 .8 .5-1.4 .5 1 .2-102 .3 107.7 .1-12.2 .4 11.6 .5-.7 .5-1.1 .5-1 .5 .1 .5-1.4 .5-.3 .5 .5 .5-1 .5 .1 .5 0 .5-.5 .5 0 .5-.2 .3-103.3 .2 110.2 .2-13 .3 12.2 .5-1.1 .5-1 .5-.5 .5-1 .5-.6 .5-.5 .5 .2 .5-.1 .5-.7 .5-.8 .5 .2 .5 .2 .5-.2 .5-.2 .5 .2 .1-103.3 .3 97 .1 12.6 .5-1.8 .5-.3 .5-1.1 .5-.3 .5-.3 .5-.2 .5-.7 .5-.7 .5-.3 .5 .1 .5-.7 .5 .1 .5 .1 .5 0 .5-.5 .5 .1 .1-102 .4 108.8 0-12.9 .5 11.6 .5-1.5 .5-.2 .5-.6 .5-.8 .5-.3 .5-.8 .5 .5 .5-.6 .5-.5 .5 0 .5-.2 .5-.4 .5-.7 .5-.1 .5 1.4 .5-1.1 .5 .2 .2-101.6 .3 108.6 .1-12.9 .4 11.6 .5-.5 .5-1.4 .5-.2 .5-1.3 .5 .3 .5-.4 .5-.4 .5-.3 .5-.3 .5 0 .5-.1 .5-.7 .5 .4 .5-.7 .5 .3 .5-.2 .5 .1 .5-.3 .4-103.4 .1 110.9 .3-13.4 .2 12 .5-1.2 .5-.2 .5-.8 .5-.6 .5-.4 .5-1 .5 .2 .5-.9 .5 .2 .5-.4 .5 0 .5-.1 .5-.3 .5-.4 .5 .5 .5 0 .5-.2 .5 0 .5-.9 .5 .5 .1-102.2 .4 108.8 0-12.6 .5 15.2 .5 4.1 .5 2.9 .5 2 .5 2.2 .5 2.1 .5 1.6 .5 1.3 .5 .5 .5 .8 .5 .9 .5 .8 .5 .4 .5 .5 .5 .6 .5 .3 .5 .1 .5-.2 .5 .4 .5 .4 .5 .2 .5 .2 .5-.6 .5 .2 .5-.1 .5-.5 .5 .5 .5-.2 .5 1 .5-.3 .5-.3 .5 .2 .5 .1 .5 .4 .5-.4 .5 .2 .5-.3 .5 .2 .5 .1 .5-.2 .5-.3 .5 .3 .5-.5 .5 .5 .5-.5 .5-.2 .5 .8 .5-.7 .5 .1 .5-.4 .5 .1 .5 .1 .5-.2 .5 .6 .5-.6 .5-.2 .5 .7 .5-.1 .5-1 .5 .5 .5 .5 .5-.6 .5 .1 .5 0 .5-.6 .5 .4 .5 .5 .5 .2 .5-.5 .5-.1 .5 .2 .5-.1 .5 .1 .5-.5 .5 .3 .5 .1 .5 0 .5-.6 .5 .6 .5-.2 .5 0 .5-.6 .5 .5 .5-.5 .5-.3 .5 .8 .5 0 .5 0 .5 0 .5-.1 .5 .3 .5-.1 .5 .3 .5 .2 .5-.5" fill="none" stroke="#c0281c" stroke-width="1.2" stroke-linejoin="round"/>
<text x="942.8" y="1950" font-size="26.2">-60 mV</text>
<path d="M1046 1966.8 L1058.7 1966.8 L1058.7 1950.8 L1163 1950.8 L1163 1966.8 L1213.8 1966.8" fill="none" stroke="#111" stroke-width="2"/>
<text x="1079.5" y="1972" font-size="22.6">750 ms</text>
<path d="M1231.7 1660.6 L1231.7 1685.4 L1258.4 1685.4" fill="none" stroke="#666" stroke-width="1.3"/>
<text x="1219.3" y="1661.3" font-size="22.9" text-anchor="middle" transform="rotate(-90 1219.3 1661.3)">20 mV</text>
<text x="1228.9" y="1712.4" font-size="22.6">200 ms</text>
<text x="448.3" y="1576.2" font-size="38">L</text>
<line x1="535.3" y1="1684.3" x2="535.3" y2="1869.2" stroke="#000" stroke-width="2.5"/>
<line x1="529.8" y1="1867.9" x2="831.6" y2="1867.9" stroke="#000" stroke-width="2.5"/>
<line x1="529.8" y1="1867.9" x2="535.3" y2="1867.9" stroke="#000" stroke-width="2.5"/>
<text x="521.3" y="1877.4" font-size="27" text-anchor="end">0</text>
<line x1="529.8" y1="1806.7" x2="535.3" y2="1806.7" stroke="#000" stroke-width="2.5"/>
<text x="521.3" y="1816.2" font-size="27" text-anchor="end">10</text>
<line x1="529.8" y1="1745.5" x2="535.3" y2="1745.5" stroke="#000" stroke-width="2.5"/>
<text x="521.3" y="1755" font-size="27" text-anchor="end">20</text>
<line x1="529.8" y1="1684.3" x2="535.3" y2="1684.3" stroke="#000" stroke-width="2.5"/>
<text x="521.3" y="1693.8" font-size="27" text-anchor="end">30</text>
<line x1="630.9" y1="1867.9" x2="630.9" y2="1873.9" stroke="#000" stroke-width="2.5"/>
<text x="630.9" y="1912.5" font-size="27" text-anchor="middle">100</text>
<line x1="726.5" y1="1867.9" x2="726.5" y2="1873.9" stroke="#000" stroke-width="2.5"/>
<text x="726.5" y="1912.5" font-size="27" text-anchor="middle">200</text>
<line x1="822.1" y1="1867.9" x2="822.1" y2="1873.9" stroke="#000" stroke-width="2.5"/>
<text x="822.1" y="1912.5" font-size="27" text-anchor="middle">300</text>
<text x="538.3" y="1908" font-size="27" text-anchor="middle">0</text>
<text x="684.4" y="1946.6" font-size="25.7" text-anchor="middle">Current injection (pA)</text>
<text x="473.5" y="1775" font-size="25.8" text-anchor="middle" transform="rotate(-90 473.5 1775)"># of APs at RMP</text>
<path d="M564 1867.9 L592.7 1866.7 L621.3 1865.5 L650 1862.4 L678.7 1853.8 L707.4 1847.7 L736.1 1834.2 L764.7 1825.1 L793.4 1815.3 L822.1 1807.9" fill="none" stroke="#dc3520" stroke-width="2.2"/>
<line x1="564" y1="1867.3" x2="564" y2="1868.5" stroke="#dc3520" stroke-width="2"/>
<line x1="559.5" y1="1867.3" x2="568.5" y2="1867.3" stroke="#dc3520" stroke-width="2"/>
<line x1="559.5" y1="1868.5" x2="568.5" y2="1868.5" stroke="#dc3520" stroke-width="2"/>
<rect x="558" y="1861.9" width="12" height="12" fill="#dc3520"/>
<line x1="592.7" y1="1865.5" x2="592.7" y2="1867.9" stroke="#dc3520" stroke-width="2"/>
<line x1="588.2" y1="1865.5" x2="597.2" y2="1865.5" stroke="#dc3520" stroke-width="2"/>
<line x1="588.2" y1="1867.9" x2="597.2" y2="1867.9" stroke="#dc3520" stroke-width="2"/>
<rect x="586.7" y="1860.7" width="12" height="12" fill="#dc3520"/>
<line x1="621.3" y1="1863.6" x2="621.3" y2="1867.3" stroke="#dc3520" stroke-width="2"/>
<line x1="616.8" y1="1863.6" x2="625.8" y2="1863.6" stroke="#dc3520" stroke-width="2"/>
<line x1="616.8" y1="1867.3" x2="625.8" y2="1867.3" stroke="#dc3520" stroke-width="2"/>
<rect x="615.3" y="1859.5" width="12" height="12" fill="#dc3520"/>
<line x1="650" y1="1858.7" x2="650" y2="1866.1" stroke="#dc3520" stroke-width="2"/>
<line x1="645.5" y1="1858.7" x2="654.5" y2="1858.7" stroke="#dc3520" stroke-width="2"/>
<line x1="645.5" y1="1866.1" x2="654.5" y2="1866.1" stroke="#dc3520" stroke-width="2"/>
<rect x="644" y="1856.4" width="12" height="12" fill="#dc3520"/>
<line x1="678.7" y1="1848.3" x2="678.7" y2="1859.3" stroke="#dc3520" stroke-width="2"/>
<line x1="674.2" y1="1848.3" x2="683.2" y2="1848.3" stroke="#dc3520" stroke-width="2"/>
<line x1="674.2" y1="1859.3" x2="683.2" y2="1859.3" stroke="#dc3520" stroke-width="2"/>
<rect x="672.7" y="1847.8" width="12" height="12" fill="#dc3520"/>
<line x1="707.4" y1="1841.6" x2="707.4" y2="1853.8" stroke="#dc3520" stroke-width="2"/>
<line x1="702.9" y1="1841.6" x2="711.9" y2="1841.6" stroke="#dc3520" stroke-width="2"/>
<line x1="702.9" y1="1853.8" x2="711.9" y2="1853.8" stroke="#dc3520" stroke-width="2"/>
<rect x="701.4" y="1841.7" width="12" height="12" fill="#dc3520"/>
<line x1="736.1" y1="1825.7" x2="736.1" y2="1842.8" stroke="#dc3520" stroke-width="2"/>
<line x1="731.6" y1="1825.7" x2="740.6" y2="1825.7" stroke="#dc3520" stroke-width="2"/>
<line x1="731.6" y1="1842.8" x2="740.6" y2="1842.8" stroke="#dc3520" stroke-width="2"/>
<rect x="730.1" y="1828.2" width="12" height="12" fill="#dc3520"/>
<line x1="764.7" y1="1816.5" x2="764.7" y2="1833.6" stroke="#dc3520" stroke-width="2"/>
<line x1="760.2" y1="1816.5" x2="769.2" y2="1816.5" stroke="#dc3520" stroke-width="2"/>
<line x1="760.2" y1="1833.6" x2="769.2" y2="1833.6" stroke="#dc3520" stroke-width="2"/>
<rect x="758.7" y="1819.1" width="12" height="12" fill="#dc3520"/>
<line x1="793.4" y1="1807.9" x2="793.4" y2="1822.6" stroke="#dc3520" stroke-width="2"/>
<line x1="788.9" y1="1807.9" x2="797.9" y2="1807.9" stroke="#dc3520" stroke-width="2"/>
<line x1="788.9" y1="1822.6" x2="797.9" y2="1822.6" stroke="#dc3520" stroke-width="2"/>
<rect x="787.4" y="1809.3" width="12" height="12" fill="#dc3520"/>
<line x1="822.1" y1="1801.2" x2="822.1" y2="1814.7" stroke="#dc3520" stroke-width="2"/>
<line x1="817.6" y1="1801.2" x2="826.6" y2="1801.2" stroke="#dc3520" stroke-width="2"/>
<line x1="817.6" y1="1814.7" x2="826.6" y2="1814.7" stroke="#dc3520" stroke-width="2"/>
<rect x="816.1" y="1801.9" width="12" height="12" fill="#dc3520"/>
<path d="M564 1867.9 L592.7 1859.9 L621.3 1842.2 L650 1825.1 L678.7 1808.5 L707.4 1793.8 L736.1 1782.8 L764.7 1771.8 L793.4 1763.9 L822.1 1755.9" fill="none" stroke="#000" stroke-width="2.2"/>
<line x1="564" y1="1866.7" x2="564" y2="1869.1" stroke="#000" stroke-width="2"/>
<line x1="559.5" y1="1866.7" x2="568.5" y2="1866.7" stroke="#000" stroke-width="2"/>
<line x1="559.5" y1="1869.1" x2="568.5" y2="1869.1" stroke="#000" stroke-width="2"/>
<circle cx="564" cy="1867.9" r="5.6" fill="#000"/>
<line x1="592.7" y1="1856.3" x2="592.7" y2="1863.6" stroke="#000" stroke-width="2"/>
<line x1="588.2" y1="1856.3" x2="597.2" y2="1856.3" stroke="#000" stroke-width="2"/>
<line x1="588.2" y1="1863.6" x2="597.2" y2="1863.6" stroke="#000" stroke-width="2"/>
<circle cx="592.7" cy="1859.9" r="5.6" fill="#000"/>
<line x1="621.3" y1="1837.3" x2="621.3" y2="1847.1" stroke="#000" stroke-width="2"/>
<line x1="616.8" y1="1837.3" x2="625.8" y2="1837.3" stroke="#000" stroke-width="2"/>
<line x1="616.8" y1="1847.1" x2="625.8" y2="1847.1" stroke="#000" stroke-width="2"/>
<circle cx="621.3" cy="1842.2" r="5.6" fill="#000"/>
<line x1="650" y1="1817.7" x2="650" y2="1832.4" stroke="#000" stroke-width="2"/>
<line x1="645.5" y1="1817.7" x2="654.5" y2="1817.7" stroke="#000" stroke-width="2"/>
<line x1="645.5" y1="1832.4" x2="654.5" y2="1832.4" stroke="#000" stroke-width="2"/>
<circle cx="650" cy="1825.1" r="5.6" fill="#000"/>
<line x1="678.7" y1="1800.6" x2="678.7" y2="1816.5" stroke="#000" stroke-width="2"/>
<line x1="674.2" y1="1800.6" x2="683.2" y2="1800.6" stroke="#000" stroke-width="2"/>
<line x1="674.2" y1="1816.5" x2="683.2" y2="1816.5" stroke="#000" stroke-width="2"/>
<circle cx="678.7" cy="1808.5" r="5.6" fill="#000"/>
<line x1="707.4" y1="1786.5" x2="707.4" y2="1801.2" stroke="#000" stroke-width="2"/>
<line x1="702.9" y1="1786.5" x2="711.9" y2="1786.5" stroke="#000" stroke-width="2"/>
<line x1="702.9" y1="1801.2" x2="711.9" y2="1801.2" stroke="#000" stroke-width="2"/>
<circle cx="707.4" cy="1793.8" r="5.6" fill="#000"/>
<line x1="736.1" y1="1776.1" x2="736.1" y2="1789.6" stroke="#000" stroke-width="2"/>
<line x1="731.6" y1="1776.1" x2="740.6" y2="1776.1" stroke="#000" stroke-width="2"/>
<line x1="731.6" y1="1789.6" x2="740.6" y2="1789.6" stroke="#000" stroke-width="2"/>
<circle cx="736.1" cy="1782.8" r="5.6" fill="#000"/>
<line x1="764.7" y1="1764.5" x2="764.7" y2="1779.2" stroke="#000" stroke-width="2"/>
<line x1="760.2" y1="1764.5" x2="769.2" y2="1764.5" stroke="#000" stroke-width="2"/>
<line x1="760.2" y1="1779.2" x2="769.2" y2="1779.2" stroke="#000" stroke-width="2"/>
<circle cx="764.7" cy="1771.8" r="5.6" fill="#000"/>
<line x1="793.4" y1="1756.5" x2="793.4" y2="1771.2" stroke="#000" stroke-width="2"/>
<line x1="788.9" y1="1756.5" x2="797.9" y2="1756.5" stroke="#000" stroke-width="2"/>
<line x1="788.9" y1="1771.2" x2="797.9" y2="1771.2" stroke="#000" stroke-width="2"/>
<circle cx="793.4" cy="1763.9" r="5.6" fill="#000"/>
<line x1="822.1" y1="1748.6" x2="822.1" y2="1763.2" stroke="#000" stroke-width="2"/>
<line x1="817.6" y1="1748.6" x2="826.6" y2="1748.6" stroke="#000" stroke-width="2"/>
<line x1="817.6" y1="1763.2" x2="826.6" y2="1763.2" stroke="#000" stroke-width="2"/>
<circle cx="822.1" cy="1755.9" r="5.6" fill="#000"/>
<line x1="535.3" y1="1678.5" x2="571.9" y2="1678.5" stroke="#000" stroke-width="2.2"/>
<circle cx="553.6" cy="1678.5" r="5.8" fill="#000"/>
<text x="581.5" y="1686" font-size="26.7">Baseline</text>
<line x1="535.3" y1="1714" x2="571.9" y2="1714" stroke="#dc3520" stroke-width="2.2"/>
<rect x="547.6" y="1708" width="12" height="12" fill="#dc3520"/>
<text x="581.5" y="1721.5" font-size="26.9">Cort 100 nM</text>
<text x="717.5" y="1766.5" font-size="42.8" text-anchor="middle" stroke="#000" stroke-width="0.7" letter-spacing="5">***</text>
<line x1="643.4" y1="1803" x2="827.8" y2="1737.6" stroke="#000" stroke-width="2.2"/>
<text x="1345" y="1576.7" font-size="38">N</text>
<line x1="1426.3" y1="1693.3" x2="1426.3" y2="1876.5" stroke="#000" stroke-width="2.5"/>
<line x1="1420.8" y1="1875.3" x2="1723" y2="1875.3" stroke="#000" stroke-width="2.5"/>
<line x1="1420.8" y1="1875.3" x2="1426.3" y2="1875.3" stroke="#000" stroke-width="2.5"/>
<text x="1412.3" y="1884.8" font-size="27" text-anchor="end">0</text>
<line x1="1420.8" y1="1814.6" x2="1426.3" y2="1814.6" stroke="#000" stroke-width="2.5"/>
<text x="1412.3" y="1824.1" font-size="27" text-anchor="end">10</text>
<line x1="1420.8" y1="1753.9" x2="1426.3" y2="1753.9" stroke="#000" stroke-width="2.5"/>
<text x="1412.3" y="1763.4" font-size="27" text-anchor="end">20</text>
<line x1="1420.8" y1="1693.2" x2="1426.3" y2="1693.2" stroke="#000" stroke-width="2.5"/>
<text x="1412.3" y="1702.7" font-size="27" text-anchor="end">30</text>
<line x1="1522" y1="1875.3" x2="1522" y2="1881.3" stroke="#000" stroke-width="2.5"/>
<text x="1522" y="1917" font-size="27" text-anchor="middle">100</text>
<line x1="1617.7" y1="1875.3" x2="1617.7" y2="1881.3" stroke="#000" stroke-width="2.5"/>
<text x="1617.7" y="1917" font-size="27" text-anchor="middle">200</text>
<line x1="1713.4" y1="1875.3" x2="1713.4" y2="1881.3" stroke="#000" stroke-width="2.5"/>
<text x="1713.4" y="1917" font-size="27" text-anchor="middle">300</text>
<text x="1429.3" y="1912.5" font-size="27" text-anchor="middle">0</text>
<text x="1570.4" y="1951.3" font-size="25.7" text-anchor="middle">Current injection (pA)</text>
<text x="1360.5" y="1779.8" font-size="25.8" text-anchor="middle" transform="rotate(-90 1360.5 1779.8)"># of APs at RMP</text>
<path d="M1455 1875.3 L1483.7 1858.9 L1512.4 1840.1 L1541.1 1816.4 L1569.8 1799.4 L1598.6 1786.7 L1627.3 1775.8 L1656 1766.6 L1684.7 1758.8 L1713.4 1752.7" fill="none" stroke="#dc3520" stroke-width="2.2"/>
<line x1="1455" y1="1874.1" x2="1455" y2="1876.5" stroke="#dc3520" stroke-width="2"/>
<line x1="1450.5" y1="1874.1" x2="1459.5" y2="1874.1" stroke="#dc3520" stroke-width="2"/>
<line x1="1450.5" y1="1876.5" x2="1459.5" y2="1876.5" stroke="#dc3520" stroke-width="2"/>
<rect x="1449" y="1869.3" width="12" height="12" fill="#dc3520"/>
<line x1="1483.7" y1="1854.7" x2="1483.7" y2="1863.2" stroke="#dc3520" stroke-width="2"/>
<line x1="1479.2" y1="1854.7" x2="1488.2" y2="1854.7" stroke="#dc3520" stroke-width="2"/>
<line x1="1479.2" y1="1863.2" x2="1488.2" y2="1863.2" stroke="#dc3520" stroke-width="2"/>
<rect x="1477.7" y="1852.9" width="12" height="12" fill="#dc3520"/>
<line x1="1512.4" y1="1834.6" x2="1512.4" y2="1845.6" stroke="#dc3520" stroke-width="2"/>
<line x1="1507.9" y1="1834.6" x2="1516.9" y2="1834.6" stroke="#dc3520" stroke-width="2"/>
<line x1="1507.9" y1="1845.6" x2="1516.9" y2="1845.6" stroke="#dc3520" stroke-width="2"/>
<rect x="1506.4" y="1834.1" width="12" height="12" fill="#dc3520"/>
<line x1="1541.1" y1="1808.5" x2="1541.1" y2="1824.3" stroke="#dc3520" stroke-width="2"/>
<line x1="1536.6" y1="1808.5" x2="1545.6" y2="1808.5" stroke="#dc3520" stroke-width="2"/>
<line x1="1536.6" y1="1824.3" x2="1545.6" y2="1824.3" stroke="#dc3520" stroke-width="2"/>
<rect x="1535.1" y="1810.4" width="12" height="12" fill="#dc3520"/>
<line x1="1569.8" y1="1793.4" x2="1569.8" y2="1805.5" stroke="#dc3520" stroke-width="2"/>
<line x1="1565.3" y1="1793.4" x2="1574.3" y2="1793.4" stroke="#dc3520" stroke-width="2"/>
<line x1="1565.3" y1="1805.5" x2="1574.3" y2="1805.5" stroke="#dc3520" stroke-width="2"/>
<rect x="1563.8" y="1793.4" width="12" height="12" fill="#dc3520"/>
<line x1="1598.6" y1="1781.2" x2="1598.6" y2="1792.1" stroke="#dc3520" stroke-width="2"/>
<line x1="1594.1" y1="1781.2" x2="1603.1" y2="1781.2" stroke="#dc3520" stroke-width="2"/>
<line x1="1594.1" y1="1792.1" x2="1603.1" y2="1792.1" stroke="#dc3520" stroke-width="2"/>
<rect x="1592.6" y="1780.7" width="12" height="12" fill="#dc3520"/>
<line x1="1627.3" y1="1770.9" x2="1627.3" y2="1780.6" stroke="#dc3520" stroke-width="2"/>
<line x1="1622.8" y1="1770.9" x2="1631.8" y2="1770.9" stroke="#dc3520" stroke-width="2"/>
<line x1="1622.8" y1="1780.6" x2="1631.8" y2="1780.6" stroke="#dc3520" stroke-width="2"/>
<rect x="1621.3" y="1769.8" width="12" height="12" fill="#dc3520"/>
<line x1="1656" y1="1761.8" x2="1656" y2="1771.5" stroke="#dc3520" stroke-width="2"/>
<line x1="1651.5" y1="1761.8" x2="1660.5" y2="1761.8" stroke="#dc3520" stroke-width="2"/>
<line x1="1651.5" y1="1771.5" x2="1660.5" y2="1771.5" stroke="#dc3520" stroke-width="2"/>
<rect x="1650" y="1760.6" width="12" height="12" fill="#dc3520"/>
<line x1="1684.7" y1="1753.9" x2="1684.7" y2="1763.6" stroke="#dc3520" stroke-width="2"/>
<line x1="1680.2" y1="1753.9" x2="1689.2" y2="1753.9" stroke="#dc3520" stroke-width="2"/>
<line x1="1680.2" y1="1763.6" x2="1689.2" y2="1763.6" stroke="#dc3520" stroke-width="2"/>
<rect x="1678.7" y="1752.8" width="12" height="12" fill="#dc3520"/>
<line x1="1713.4" y1="1748.4" x2="1713.4" y2="1756.9" stroke="#dc3520" stroke-width="2"/>
<line x1="1708.9" y1="1748.4" x2="1717.9" y2="1748.4" stroke="#dc3520" stroke-width="2"/>
<line x1="1708.9" y1="1756.9" x2="1717.9" y2="1756.9" stroke="#dc3520" stroke-width="2"/>
<rect x="1707.4" y="1746.7" width="12" height="12" fill="#dc3520"/>
<path d="M1455 1875.3 L1483.7 1853.4 L1512.4 1828.6 L1541.1 1811 L1569.8 1788.5 L1598.6 1775.1 L1627.3 1764.2 L1656 1753.9 L1684.7 1747.2 L1713.4 1741.2" fill="none" stroke="#000" stroke-width="2.2"/>
<line x1="1455" y1="1874.1" x2="1455" y2="1876.5" stroke="#000" stroke-width="2"/>
<line x1="1450.5" y1="1874.1" x2="1459.5" y2="1874.1" stroke="#000" stroke-width="2"/>
<line x1="1450.5" y1="1876.5" x2="1459.5" y2="1876.5" stroke="#000" stroke-width="2"/>
<circle cx="1455" cy="1875.3" r="5.6" fill="#000"/>
<line x1="1483.7" y1="1848.6" x2="1483.7" y2="1858.3" stroke="#000" stroke-width="2"/>
<line x1="1479.2" y1="1848.6" x2="1488.2" y2="1848.6" stroke="#000" stroke-width="2"/>
<line x1="1479.2" y1="1858.3" x2="1488.2" y2="1858.3" stroke="#000" stroke-width="2"/>
<circle cx="1483.7" cy="1853.4" r="5.6" fill="#000"/>
<line x1="1512.4" y1="1821.3" x2="1512.4" y2="1835.8" stroke="#000" stroke-width="2"/>
<line x1="1507.9" y1="1821.3" x2="1516.9" y2="1821.3" stroke="#000" stroke-width="2"/>
<line x1="1507.9" y1="1835.8" x2="1516.9" y2="1835.8" stroke="#000" stroke-width="2"/>
<circle cx="1512.4" cy="1828.6" r="5.6" fill="#000"/>
<line x1="1541.1" y1="1801.2" x2="1541.1" y2="1820.7" stroke="#000" stroke-width="2"/>
<line x1="1536.6" y1="1801.2" x2="1545.6" y2="1801.2" stroke="#000" stroke-width="2"/>
<line x1="1536.6" y1="1820.7" x2="1545.6" y2="1820.7" stroke="#000" stroke-width="2"/>
<circle cx="1541.1" cy="1811" r="5.6" fill="#000"/>
<line x1="1569.8" y1="1781.2" x2="1569.8" y2="1795.8" stroke="#000" stroke-width="2"/>
<line x1="1565.3" y1="1781.2" x2="1574.3" y2="1781.2" stroke="#000" stroke-width="2"/>
<line x1="1565.3" y1="1795.8" x2="1574.3" y2="1795.8" stroke="#000" stroke-width="2"/>
<circle cx="1569.8" cy="1788.5" r="5.6" fill="#000"/>
<line x1="1598.6" y1="1769.1" x2="1598.6" y2="1781.2" stroke="#000" stroke-width="2"/>
<line x1="1594.1" y1="1769.1" x2="1603.1" y2="1769.1" stroke="#000" stroke-width="2"/>
<line x1="1594.1" y1="1781.2" x2="1603.1" y2="1781.2" stroke="#000" stroke-width="2"/>
<circle cx="1598.6" cy="1775.1" r="5.6" fill="#000"/>
<line x1="1627.3" y1="1758.8" x2="1627.3" y2="1769.7" stroke="#000" stroke-width="2"/>
<line x1="1622.8" y1="1758.8" x2="1631.8" y2="1758.8" stroke="#000" stroke-width="2"/>
<line x1="1622.8" y1="1769.7" x2="1631.8" y2="1769.7" stroke="#000" stroke-width="2"/>
<circle cx="1627.3" cy="1764.2" r="5.6" fill="#000"/>
<line x1="1656" y1="1749" x2="1656" y2="1758.8" stroke="#000" stroke-width="2"/>
<line x1="1651.5" y1="1749" x2="1660.5" y2="1749" stroke="#000" stroke-width="2"/>
<line x1="1651.5" y1="1758.8" x2="1660.5" y2="1758.8" stroke="#000" stroke-width="2"/>
<circle cx="1656" cy="1753.9" r="5.6" fill="#000"/>
<line x1="1684.7" y1="1742.4" x2="1684.7" y2="1752.1" stroke="#000" stroke-width="2"/>
<line x1="1680.2" y1="1742.4" x2="1689.2" y2="1742.4" stroke="#000" stroke-width="2"/>
<line x1="1680.2" y1="1752.1" x2="1689.2" y2="1752.1" stroke="#000" stroke-width="2"/>
<circle cx="1684.7" cy="1747.2" r="5.6" fill="#000"/>
<line x1="1713.4" y1="1736.9" x2="1713.4" y2="1745.4" stroke="#000" stroke-width="2"/>
<line x1="1708.9" y1="1736.9" x2="1717.9" y2="1736.9" stroke="#000" stroke-width="2"/>
<line x1="1708.9" y1="1745.4" x2="1717.9" y2="1745.4" stroke="#000" stroke-width="2"/>
<circle cx="1713.4" cy="1741.2" r="5.6" fill="#000"/>
<line x1="1435.5" y1="1683.5" x2="1472.4" y2="1683.5" stroke="#000" stroke-width="2.2"/>
<circle cx="1454" cy="1683.5" r="5.8" fill="#000"/>
<text x="1482" y="1691" font-size="26.7">Baseline</text>
<line x1="1435.5" y1="1718.6" x2="1472.4" y2="1718.6" stroke="#dc3520" stroke-width="2.2"/>
<rect x="1448" y="1712.6" width="12" height="12" fill="#dc3520"/>
<text x="1482" y="1726.1" font-size="26.9">Cort 100 nM</text>
<text x="5.8" y="2047" font-size="38">O</text>
<line x1="194.5" y1="2137.9" x2="194.5" y2="2397.8" stroke="#000" stroke-width="2.5"/>
<line x1="189" y1="2396.6" x2="194.5" y2="2396.6" stroke="#000" stroke-width="2.5"/>
<text x="181.2" y="2404.1" font-size="26.8" text-anchor="end">0</text>
<line x1="189" y1="2344.9" x2="194.5" y2="2344.9" stroke="#000" stroke-width="2.5"/>
<text x="181.2" y="2352.4" font-size="26.8" text-anchor="end">2</text>
<line x1="189" y1="2293.2" x2="194.5" y2="2293.2" stroke="#000" stroke-width="2.5"/>
<text x="181.2" y="2300.7" font-size="26.8" text-anchor="end">4</text>
<line x1="189" y1="2241.4" x2="194.5" y2="2241.4" stroke="#000" stroke-width="2.5"/>
<text x="181.2" y="2248.9" font-size="26.8" text-anchor="end">6</text>
<line x1="189" y1="2189.7" x2="194.5" y2="2189.7" stroke="#000" stroke-width="2.5"/>
<text x="181.2" y="2197.2" font-size="26.8" text-anchor="end">8</text>
<line x1="189" y1="2138" x2="194.5" y2="2138" stroke="#000" stroke-width="2.5"/>
<text x="181.2" y="2145.5" font-size="26.8" text-anchor="end">10</text>
<rect x="205.8" y="2380.3" width="39.5" height="16.3" fill="#0a0a0a"/>
<line x1="225.6" y1="2380.3" x2="225.6" y2="2370" stroke="#0a0a0a" stroke-width="2.2"/>
<line x1="214.6" y1="2370" x2="236.6" y2="2370" stroke="#0a0a0a" stroke-width="2.2"/>
<rect x="267.9" y="2362.2" width="39.5" height="34.4" fill="#0a0a0a"/>
<line x1="287.6" y1="2362.2" x2="287.6" y2="2335.1" stroke="#0a0a0a" stroke-width="2.2"/>
<line x1="276.6" y1="2335.1" x2="298.6" y2="2335.1" stroke="#0a0a0a" stroke-width="2.2"/>
<rect x="329.9" y="2375.1" width="39.5" height="21.5" fill="#0a0a0a"/>
<line x1="349.6" y1="2375.1" x2="349.6" y2="2353.2" stroke="#0a0a0a" stroke-width="2.2"/>
<line x1="338.6" y1="2353.2" x2="360.6" y2="2353.2" stroke="#0a0a0a" stroke-width="2.2"/>
<rect x="392.6" y="2381.9" width="39.5" height="14.7" fill="#dc3520"/>
<line x1="412.4" y1="2381.9" x2="412.4" y2="2366.3" stroke="#dc3520" stroke-width="2.2"/>
<line x1="401.4" y1="2366.3" x2="423.4" y2="2366.3" stroke="#dc3520" stroke-width="2.2"/>
<rect x="454.6" y="2386" width="39.5" height="10.6" fill="#dc3520"/>
<line x1="474.4" y1="2386" x2="474.4" y2="2368.7" stroke="#dc3520" stroke-width="2.2"/>
<line x1="463.4" y1="2368.7" x2="485.4" y2="2368.7" stroke="#dc3520" stroke-width="2.2"/>
<rect x="516.8" y="2390.1" width="39.5" height="6.5" fill="#dc3520"/>
<line x1="536.5" y1="2390.1" x2="536.5" y2="2381.1" stroke="#dc3520" stroke-width="2.2"/>
<line x1="525.5" y1="2381.1" x2="547.5" y2="2381.1" stroke="#dc3520" stroke-width="2.2"/>
<line x1="187.5" y1="2396.6" x2="567.7" y2="2396.6" stroke="#000" stroke-width="2.5"/>
<line x1="225.6" y1="2396.6" x2="225.6" y2="2403.1" stroke="#000" stroke-width="2.5"/>
<line x1="287.6" y1="2396.6" x2="287.6" y2="2403.1" stroke="#000" stroke-width="2.5"/>
<line x1="349.6" y1="2396.6" x2="349.6" y2="2403.1" stroke="#000" stroke-width="2.5"/>
<line x1="412.4" y1="2396.6" x2="412.4" y2="2403.1" stroke="#000" stroke-width="2.5"/>
<line x1="474.4" y1="2396.6" x2="474.4" y2="2403.1" stroke="#000" stroke-width="2.5"/>
<line x1="536.5" y1="2396.6" x2="536.5" y2="2403.1" stroke="#000" stroke-width="2.5"/>
<text x="195.5" y="2450.4" text-anchor="end">Cort (nM)</text>
<text x="225.6" y="2456" font-size="26.8" text-anchor="middle">10</text>
<text x="287.6" y="2456" font-size="26.8" text-anchor="middle">100</text>
<text x="349.6" y="2456" font-size="26.8" text-anchor="middle">1000</text>
<text x="412.4" y="2456" font-size="26.8" text-anchor="middle">10</text>
<text x="474.4" y="2456" font-size="26.8" text-anchor="middle">100</text>
<text x="536.5" y="2456" font-size="26.8" text-anchor="middle">1000</text>
<line x1="233" y1="2478.2" x2="369.5" y2="2478.2" stroke="#000" stroke-width="2"/>
<line x1="418" y1="2478.2" x2="555.3" y2="2478.2" stroke="#000" stroke-width="2"/>
<text x="290.4" y="2509.4" font-size="26.9" text-anchor="middle">Dorsal</text>
<text x="497.7" y="2509.4" font-size="26.9" text-anchor="middle">Ventral</text>
<text x="294.2" y="2539.5" text-anchor="middle">CA1 neurons</text>
<text x="497.2" y="2539.5" text-anchor="middle">CA1 neurons</text>
<text transform="translate(111 2250) rotate(-90)" font-size="26.5" text-anchor="middle">Changes in V<tspan font-size="15" dx="1" dy="7.5">m</tspan></text><text transform="translate(144 2250) rotate(-90)" font-size="26" text-anchor="middle">after CORT (mV)</text>
<text x="620.5" y="2047" font-size="38">P</text>
<line x1="780.5" y1="2141" x2="780.5" y2="2398.7" stroke="#000" stroke-width="2.5"/>
<line x1="775" y1="2141" x2="780.5" y2="2141" stroke="#000" stroke-width="2.5"/>
<text x="762.4" y="2150.5" font-size="26.8" text-anchor="end">0</text>
<line x1="775" y1="2205.1" x2="780.5" y2="2205.1" stroke="#000" stroke-width="2.5"/>
<text x="762.4" y="2214.6" font-size="26.8" text-anchor="end">-10</text>
<line x1="775" y1="2269.2" x2="780.5" y2="2269.2" stroke="#000" stroke-width="2.5"/>
<text x="762.4" y="2278.7" font-size="26.8" text-anchor="end">-20</text>
<line x1="775" y1="2333.3" x2="780.5" y2="2333.3" stroke="#000" stroke-width="2.5"/>
<text x="762.4" y="2342.8" font-size="26.8" text-anchor="end">-30</text>
<line x1="775" y1="2397.4" x2="780.5" y2="2397.4" stroke="#000" stroke-width="2.5"/>
<text x="762.4" y="2406.9" font-size="26.8" text-anchor="end">-40</text>
<rect x="792.9" y="2141" width="39" height="34" fill="#0a0a0a"/>
<line x1="812.4" y1="2175" x2="812.4" y2="2188.4" stroke="#0a0a0a" stroke-width="2.2"/>
<line x1="801.4" y1="2188.4" x2="823.4" y2="2188.4" stroke="#0a0a0a" stroke-width="2.2"/>
<rect x="854.2" y="2141" width="39" height="139.7" fill="#0a0a0a"/>
<line x1="873.7" y1="2280.7" x2="873.7" y2="2301.9" stroke="#0a0a0a" stroke-width="2.2"/>
<line x1="862.7" y1="2301.9" x2="884.7" y2="2301.9" stroke="#0a0a0a" stroke-width="2.2"/>
<rect x="916.2" y="2141" width="39" height="39.1" fill="#0a0a0a"/>
<line x1="935.7" y1="2180.1" x2="935.7" y2="2203.2" stroke="#0a0a0a" stroke-width="2.2"/>
<line x1="924.7" y1="2203.2" x2="946.7" y2="2203.2" stroke="#0a0a0a" stroke-width="2.2"/>
<rect x="978.2" y="2141" width="39" height="27.6" fill="#dc3520"/>
<line x1="997.7" y1="2168.6" x2="997.7" y2="2180.7" stroke="#dc3520" stroke-width="2.2"/>
<line x1="986.7" y1="2180.7" x2="1008.7" y2="2180.7" stroke="#dc3520" stroke-width="2.2"/>
<rect x="1041" y="2141" width="39" height="26.3" fill="#dc3520"/>
<line x1="1060.5" y1="2167.3" x2="1060.5" y2="2180.1" stroke="#dc3520" stroke-width="2.2"/>
<line x1="1049.5" y1="2180.1" x2="1071.5" y2="2180.1" stroke="#dc3520" stroke-width="2.2"/>
<rect x="1103.1" y="2141" width="39" height="24.4" fill="#dc3520"/>
<line x1="1122.6" y1="2165.4" x2="1122.6" y2="2188.4" stroke="#dc3520" stroke-width="2.2"/>
<line x1="1111.6" y1="2188.4" x2="1133.6" y2="2188.4" stroke="#dc3520" stroke-width="2.2"/>
<line x1="773.5" y1="2141" x2="1153.8" y2="2141" stroke="#000" stroke-width="2.5"/>
<line x1="773.5" y1="2397.4" x2="1153.8" y2="2397.4" stroke="#000" stroke-width="2.5"/>
<line x1="812.4" y1="2397.4" x2="812.4" y2="2403.9" stroke="#000" stroke-width="2.5"/>
<line x1="873.7" y1="2397.4" x2="873.7" y2="2403.9" stroke="#000" stroke-width="2.5"/>
<line x1="935.7" y1="2397.4" x2="935.7" y2="2403.9" stroke="#000" stroke-width="2.5"/>
<line x1="997.7" y1="2397.4" x2="997.7" y2="2403.9" stroke="#000" stroke-width="2.5"/>
<line x1="1060.5" y1="2397.4" x2="1060.5" y2="2403.9" stroke="#000" stroke-width="2.5"/>
<line x1="1122.6" y1="2397.4" x2="1122.6" y2="2403.9" stroke="#000" stroke-width="2.5"/>
<text x="776" y="2449" text-anchor="end">Cort (nM)</text>
<text x="812.4" y="2449" font-size="26.8" text-anchor="middle">10</text>
<text x="873.7" y="2449" font-size="26.8" text-anchor="middle">100</text>
<text x="935.7" y="2449" font-size="26.8" text-anchor="middle">1000</text>
<text x="997.7" y="2449" font-size="26.8" text-anchor="middle">10</text>
<text x="1060.5" y="2449" font-size="26.8" text-anchor="middle">100</text>
<text x="1122.6" y="2449" font-size="26.8" text-anchor="middle">1000</text>
<line x1="817.3" y1="2471" x2="954.5" y2="2471" stroke="#000" stroke-width="2"/>
<line x1="1003" y1="2471" x2="1140.2" y2="2471" stroke="#000" stroke-width="2"/>
<text x="875" y="2502" font-size="26.9" text-anchor="middle">Dorsal</text>
<text x="1082.2" y="2502" font-size="26.9" text-anchor="middle">Ventral</text>
<text x="879.2" y="2533.8" text-anchor="middle">CA1 neurons</text>
<text x="1082.5" y="2533.8" text-anchor="middle">CA1 neurons</text>
<text transform="translate(670 2258) rotate(-90)" font-size="26.5" text-anchor="middle">Changes in R<tspan font-size="15" dx="1" dy="7.5">in</tspan></text><text transform="translate(703.5 2258) rotate(-90)" font-size="26.5" text-anchor="middle">at RMP after CORT (%)</text>
<path d="M815 2111 L815 2103.4 L868.8 2103.4 L868.8 2111" fill="none" stroke="#000" stroke-width="2"/>
<path d="M877.4 2111 L877.4 2103.4 L930.8 2103.4 L930.8 2111" fill="none" stroke="#000" stroke-width="2"/>
<path d="M872.6 2111 L872.6 2062 L1125.6 2062 L1125.6 2070.7" fill="none" stroke="#000" stroke-width="2"/>
<line x1="998.5" y1="2062" x2="998.5" y2="2070.7" stroke="#000" stroke-width="2"/>
<line x1="1061.3" y1="2062" x2="1061.3" y2="2070.7" stroke="#000" stroke-width="2"/>
<text x="839.5" y="2110.5" font-size="42.8" text-anchor="middle" stroke="#000" stroke-width="0.7">*</text>
<text x="904" y="2110.5" font-size="42.8" text-anchor="middle" stroke="#000" stroke-width="0.7">**</text>
<text x="995.5" y="2110.5" font-size="42.8" text-anchor="middle" stroke="#000" stroke-width="0.7">*</text>
<text x="1062.8" y="2110.5" font-size="42.8" text-anchor="middle" stroke="#000" stroke-width="0.7">***</text>
<text x="1124.2" y="2110.5" font-size="42.8" text-anchor="middle" stroke="#000" stroke-width="0.7">**</text>
<text x="1241.5" y="2048.9" font-size="38">Q</text>
<line x1="1374" y1="2142.9" x2="1374" y2="2401.7" stroke="#000" stroke-width="2.5"/>
<line x1="1368.5" y1="2142.9" x2="1374" y2="2142.9" stroke="#000" stroke-width="2.5"/>
<text x="1356.5" y="2152.4" font-size="26.8" text-anchor="end">0</text>
<line x1="1368.5" y1="2207.3" x2="1374" y2="2207.3" stroke="#000" stroke-width="2.5"/>
<text x="1356.5" y="2216.8" font-size="26.8" text-anchor="end">-10</text>
<line x1="1368.5" y1="2271.7" x2="1374" y2="2271.7" stroke="#000" stroke-width="2.5"/>
<text x="1356.5" y="2281.2" font-size="26.8" text-anchor="end">-20</text>
<line x1="1368.5" y1="2336" x2="1374" y2="2336" stroke="#000" stroke-width="2.5"/>
<text x="1356.5" y="2345.5" font-size="26.8" text-anchor="end">-30</text>
<line x1="1368.5" y1="2400.4" x2="1374" y2="2400.4" stroke="#000" stroke-width="2.5"/>
<text x="1356.5" y="2409.9" font-size="26.8" text-anchor="end">-40</text>
<rect x="1385.3" y="2142.9" width="39" height="27.7" fill="#0a0a0a"/>
<line x1="1404.8" y1="2170.6" x2="1404.8" y2="2189.9" stroke="#0a0a0a" stroke-width="2.2"/>
<line x1="1393.8" y1="2189.9" x2="1415.8" y2="2189.9" stroke="#0a0a0a" stroke-width="2.2"/>
<rect x="1447.3" y="2142.9" width="39" height="117.2" fill="#0a0a0a"/>
<line x1="1466.8" y1="2260.1" x2="1466.8" y2="2281.3" stroke="#0a0a0a" stroke-width="2.2"/>
<line x1="1455.8" y1="2281.3" x2="1477.8" y2="2281.3" stroke="#0a0a0a" stroke-width="2.2"/>
<rect x="1509.3" y="2142.9" width="39" height="30.9" fill="#0a0a0a"/>
<line x1="1528.8" y1="2173.8" x2="1528.8" y2="2193.8" stroke="#0a0a0a" stroke-width="2.2"/>
<line x1="1517.8" y1="2193.8" x2="1539.8" y2="2193.8" stroke="#0a0a0a" stroke-width="2.2"/>
<rect x="1571.3" y="2142.9" width="39" height="59.9" fill="#dc3520"/>
<line x1="1590.8" y1="2202.8" x2="1590.8" y2="2220.2" stroke="#dc3520" stroke-width="2.2"/>
<line x1="1579.8" y1="2220.2" x2="1601.8" y2="2220.2" stroke="#dc3520" stroke-width="2.2"/>
<rect x="1633.4" y="2142.9" width="39" height="57.9" fill="#dc3520"/>
<line x1="1652.9" y1="2200.8" x2="1652.9" y2="2219.5" stroke="#dc3520" stroke-width="2.2"/>
<line x1="1641.9" y1="2219.5" x2="1663.9" y2="2219.5" stroke="#dc3520" stroke-width="2.2"/>
<rect x="1695.4" y="2142.9" width="39" height="25.1" fill="#dc3520"/>
<line x1="1714.9" y1="2168" x2="1714.9" y2="2188.6" stroke="#dc3520" stroke-width="2.2"/>
<line x1="1703.9" y1="2188.6" x2="1725.9" y2="2188.6" stroke="#dc3520" stroke-width="2.2"/>
<line x1="1367" y1="2142.9" x2="1751" y2="2142.9" stroke="#000" stroke-width="2.5"/>
<line x1="1367" y1="2400.4" x2="1751" y2="2400.4" stroke="#000" stroke-width="2.5"/>
<line x1="1404.8" y1="2400.4" x2="1404.8" y2="2406.9" stroke="#000" stroke-width="2.5"/>
<line x1="1466.8" y1="2400.4" x2="1466.8" y2="2406.9" stroke="#000" stroke-width="2.5"/>
<line x1="1528.8" y1="2400.4" x2="1528.8" y2="2406.9" stroke="#000" stroke-width="2.5"/>
<line x1="1590.8" y1="2400.4" x2="1590.8" y2="2406.9" stroke="#000" stroke-width="2.5"/>
<line x1="1652.9" y1="2400.4" x2="1652.9" y2="2406.9" stroke="#000" stroke-width="2.5"/>
<line x1="1714.9" y1="2400.4" x2="1714.9" y2="2406.9" stroke="#000" stroke-width="2.5"/>
<text x="1368.5" y="2450.4" text-anchor="end">Cort (nM)</text>
<text x="1404.8" y="2445" font-size="26.8" text-anchor="middle">10</text>
<text x="1466.8" y="2445" font-size="26.8" text-anchor="middle">100</text>
<text x="1528.8" y="2445" font-size="26.8" text-anchor="middle">1000</text>
<text x="1590.8" y="2445" font-size="26.8" text-anchor="middle">10</text>
<text x="1652.9" y="2445" font-size="26.8" text-anchor="middle">100</text>
<text x="1714.9" y="2445" font-size="26.8" text-anchor="middle">1000</text>
<line x1="1409.6" y1="2467" x2="1546.5" y2="2467" stroke="#000" stroke-width="2"/>
<line x1="1595.4" y1="2467" x2="1731.8" y2="2467" stroke="#000" stroke-width="2"/>
<text x="1467.2" y="2498.1" font-size="26.9" text-anchor="middle">Dorsal</text>
<text x="1674.5" y="2498.1" font-size="26.9" text-anchor="middle">Ventral</text>
<text x="1471.5" y="2529.3" text-anchor="middle">CA1 neurons</text>
<text x="1673.5" y="2529.3" text-anchor="middle">CA1 neurons</text>
<text transform="translate(1263.5 2260) rotate(-90)" font-size="26.5" text-anchor="middle">Changes in R<tspan font-size="15" dx="1" dy="7.5">in</tspan></text><text transform="translate(1296.5 2260) rotate(-90)" font-size="26.5" text-anchor="middle">at -65mV after CORT (%)</text>
<path d="M1459.3 2117.3 L1459.3 2073.3 L1713 2073.3 L1713 2084.6" fill="none" stroke="#000" stroke-width="2"/>
<path d="M1465 2117.3 L1465 2112.8 L1518.7 2112.8 L1518.7 2117.3" fill="none" stroke="#000" stroke-width="2"/>
<text x="1490.5" y="2114" font-size="42.8" text-anchor="middle" stroke="#000" stroke-width="0.7">*</text>
<text x="1711.9" y="2123.5" font-size="42.8" text-anchor="middle" stroke="#000" stroke-width="0.7">*</text>
</svg>
</body></html>
